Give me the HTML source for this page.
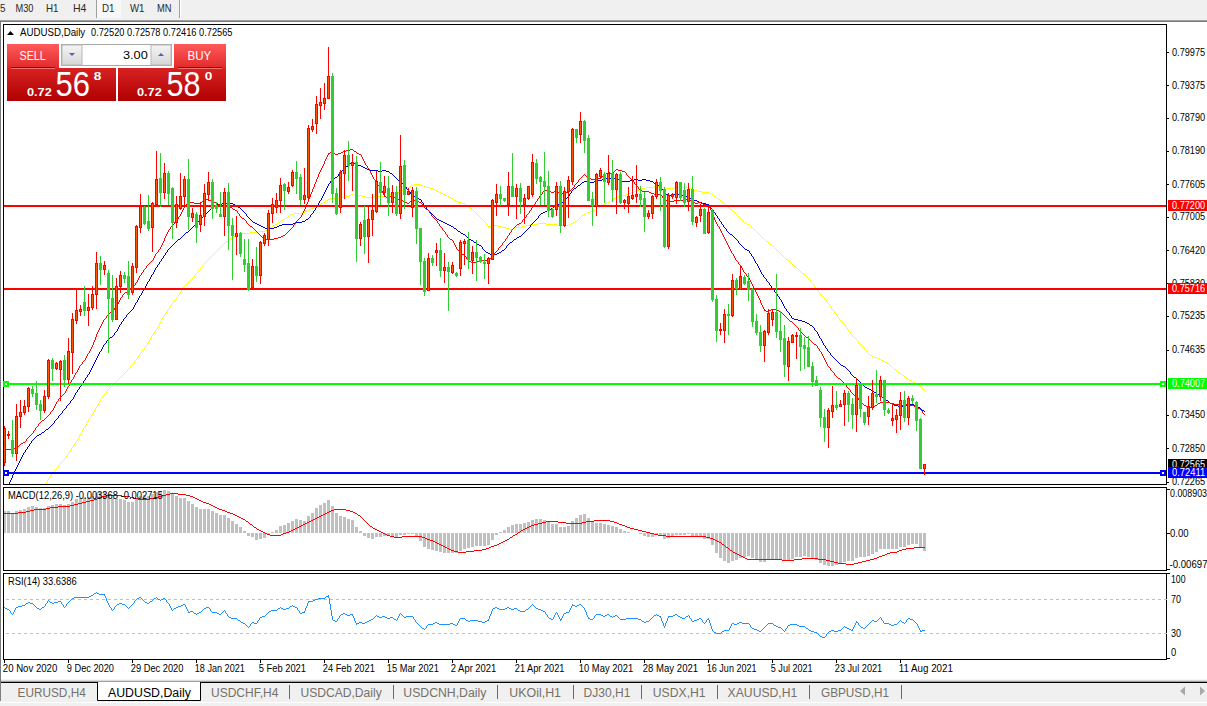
<!DOCTYPE html>
<html><head><meta charset="utf-8"><style>
html,body{margin:0;padding:0;background:#fff;width:1207px;height:706px;overflow:hidden}
svg{display:block}
text{font-family:"Liberation Sans",sans-serif}
</style></head><body>
<svg width="1207" height="706" viewBox="0 0 1207 706">
<rect x="0" y="0" width="1207" height="706" fill="#fff"/>
<rect x="0" y="0" width="1207" height="19" fill="#f0f0f0"/>
<rect x="97" y="0" width="24" height="18" fill="#f8f8f8"/>
<rect x="96" y="0" width="1" height="18" fill="#a0a0a0"/>
<rect x="179" y="0" width="1" height="18" fill="#a0a0a0"/>
<rect x="180" y="0" width="1" height="18" fill="#ffffff"/>
<text x="0" y="12.4" font-size="10.6" fill="#2a2a2a" textLength="5.5" lengthAdjust="spacingAndGlyphs">5</text>
<text x="15.5" y="12.4" font-size="10.6" fill="#2a2a2a" textLength="18" lengthAdjust="spacingAndGlyphs">M30</text>
<text x="46" y="12.4" font-size="10.6" fill="#2a2a2a" textLength="12.5" lengthAdjust="spacingAndGlyphs">H1</text>
<text x="73" y="12.4" font-size="10.6" fill="#2a2a2a" textLength="13.5" lengthAdjust="spacingAndGlyphs">H4</text>
<text x="102" y="12.4" font-size="10.6" fill="#2a2a2a" textLength="12.5" lengthAdjust="spacingAndGlyphs">D1</text>
<text x="130" y="12.4" font-size="10.6" fill="#2a2a2a" textLength="14.5" lengthAdjust="spacingAndGlyphs">W1</text>
<text x="157" y="12.4" font-size="10.6" fill="#2a2a2a" textLength="14.5" lengthAdjust="spacingAndGlyphs">MN</text>
<rect x="0" y="19" width="1207" height="1" fill="#f0f0f0"/>
<rect x="0" y="20" width="1207" height="1" fill="#a0a0a0"/>
<rect x="0" y="21" width="1207" height="1" fill="#787878"/>
<rect x="0" y="22" width="1" height="660" fill="#7a7a7a"/>
<rect x="3.5" y="24.5" width="1163" height="460" fill="none" stroke="#000" stroke-width="1"/>
<rect x="3.5" y="487.5" width="1163" height="83" fill="none" stroke="#000" stroke-width="1"/>
<rect x="3.5" y="573.5" width="1163" height="86" fill="none" stroke="#000" stroke-width="1"/>
<defs><clipPath id="mainclip"><rect x="4" y="25" width="1162" height="459"/></clipPath><clipPath id="macdclip"><rect x="4" y="488" width="1162" height="82"/></clipPath><clipPath id="rsiclip"><rect x="4" y="574" width="1162" height="85"/></clipPath></defs>
<path clip-path="url(#mainclip)" d="M414 184h7v1h-7zM411 185h3v1h-3zM421 185h2v1h-2zM409 186h2v1h-2zM423 186h3v1h-3zM654 186h8v1h-8zM407 187h2v1h-2zM426 187h4v1h-4zM646 187h8v1h-8zM662 187h4v1h-4zM674 187h15v1h-15zM405 188h2v1h-2zM430 188h3v1h-3zM642 188h4v1h-4zM666 188h8v1h-8zM689 188h2v1h-2zM403 189h2v1h-2zM433 189h2v1h-2zM639 189h3v1h-3zM691 189h3v1h-3zM401 190h2v1h-2zM435 190h2v1h-2zM637 190h2v1h-2zM694 190h4v1h-4zM399 191h2v1h-2zM437 191h2v1h-2zM634 191h3v1h-3zM698 191h4v1h-4zM397 192h2v1h-2zM439 192h2v1h-2zM631 192h3v1h-3zM702 192h7v1h-7zM394 193h3v1h-3zM441 193h2v1h-2zM629 193h2v1h-2zM709 193h2v1h-2zM351 194h3v1h-3zM390 194h4v1h-4zM443 194h2v1h-2zM626 194h3v1h-3zM711 194h2v1h-2zM349 195h2v1h-2zM354 195h8v1h-8zM386 195h4v1h-4zM445 195h2v1h-2zM622 195h4v1h-4zM713 195h1v1h-1zM346 196h3v1h-3zM362 196h4v1h-4zM374 196h12v1h-12zM447 196h2v1h-2zM618 196h4v1h-4zM714 196h2v1h-2zM342 197h4v1h-4zM366 197h8v1h-8zM449 197h2v1h-2zM616 197h2v1h-2zM716 197h1v1h-1zM330 198h12v1h-12zM451 198h2v1h-2zM614 198h2v1h-2zM717 198h1v1h-1zM328 199h2v1h-2zM453 199h1v1h-1zM613 199h1v1h-1zM718 199h2v1h-2zM326 200h2v1h-2zM454 200h2v1h-2zM611 200h2v1h-2zM720 200h1v1h-1zM325 201h1v1h-1zM456 201h2v1h-2zM609 201h2v1h-2zM721 201h1v1h-1zM323 202h2v1h-2zM458 202h4v1h-4zM607 202h2v1h-2zM722 202h2v1h-2zM321 203h2v1h-2zM462 203h3v1h-3zM605 203h2v1h-2zM724 203h1v1h-1zM319 204h2v1h-2zM465 204h1v1h-1zM603 204h2v1h-2zM725 204h1v1h-1zM317 205h2v1h-2zM466 205h2v1h-2zM601 205h2v1h-2zM726 205h1v1h-1zM315 206h2v1h-2zM468 206h1v1h-1zM600 206h1v1h-1zM727 206h1v1h-1zM313 207h2v1h-2zM469 207h1v1h-1zM598 207h2v1h-2zM728 207h1v1h-1zM311 208h2v1h-2zM470 208h2v1h-2zM597 208h1v1h-1zM729 208h1v1h-1zM309 209h2v1h-2zM472 209h1v1h-1zM595 209h2v1h-2zM730 209h2v1h-2zM307 210h2v1h-2zM473 210h1v1h-1zM593 210h2v1h-2zM732 210h1v1h-1zM305 211h2v1h-2zM474 211h1v1h-1zM590 211h3v1h-3zM733 211h1v1h-1zM302 212h3v1h-3zM475 212h1v1h-1zM587 212h3v1h-3zM734 212h1v1h-1zM294 213h8v1h-8zM476 213h1v1h-1zM585 213h2v1h-2zM735 213h1v1h-1zM291 214h3v1h-3zM477 214h1v1h-1zM584 214h1v1h-1zM736 214h1v1h-1zM289 215h2v1h-2zM478 215h1v1h-1zM582 215h2v1h-2zM737 215h1v1h-1zM288 216h1v1h-1zM479 216h1v1h-1zM581 216h1v1h-1zM738 216h1v1h-1zM286 217h2v1h-2zM480 217h1v1h-1zM580 217h1v1h-1zM739 217h1v1h-1zM285 218h1v1h-1zM481 218h1v1h-1zM579 218h1v1h-1zM740 218h1v1h-1zM283 219h2v1h-2zM482 219h1v1h-1zM578 219h1v1h-1zM741 219h1v1h-1zM281 220h2v1h-2zM483 220h1v1h-1zM577 220h1v1h-1zM742 220h1v1h-1zM280 221h1v1h-1zM484 221h1v1h-1zM575 221h2v1h-2zM743 221h1v1h-1zM278 222h2v1h-2zM485 222h1v1h-1zM573 222h2v1h-2zM744 222h1v1h-1zM277 223h1v1h-1zM486 223h1v1h-1zM538 223h8v1h-8zM571 223h2v1h-2zM745 223h2v1h-2zM275 224h2v1h-2zM486 224h1v1h-1zM530 224h8v1h-8zM546 224h12v1h-12zM569 224h2v1h-2zM747 224h2v1h-2zM273 225h2v1h-2zM487 225h1v1h-1zM494 225h4v1h-4zM526 225h4v1h-4zM558 225h11v1h-11zM749 225h1v1h-1zM272 226h1v1h-1zM488 226h6v1h-6zM498 226h4v1h-4zM522 226h4v1h-4zM750 226h2v1h-2zM270 227h2v1h-2zM502 227h4v1h-4zM515 227h7v1h-7zM752 227h1v1h-1zM269 228h1v1h-1zM506 228h4v1h-4zM513 228h2v1h-2zM753 228h1v1h-1zM267 229h2v1h-2zM510 229h3v1h-3zM754 229h1v1h-1zM265 230h2v1h-2zM755 230h1v1h-1zM258 231h7v1h-7zM756 231h1v1h-1zM250 232h8v1h-8zM757 232h1v1h-1zM242 233h8v1h-8zM758 233h1v1h-1zM239 234h3v1h-3zM759 234h1v1h-1zM237 235h2v1h-2zM760 235h1v1h-1zM234 236h3v1h-3zM761 236h1v1h-1zM232 237h2v1h-2zM762 237h1v1h-1zM230 238h2v1h-2zM763 238h1v1h-1zM229 239h1v1h-1zM764 239h1v1h-1zM228 240h1v1h-1zM765 240h1v1h-1zM226 241h2v1h-2zM766 241h2v1h-2zM225 242h1v1h-1zM768 242h1v1h-1zM224 243h1v1h-1zM769 243h1v1h-1zM223 244h1v1h-1zM770 244h2v1h-2zM222 245h1v1h-1zM772 245h1v1h-1zM221 246h1v1h-1zM773 246h1v1h-1zM220 247h1v1h-1zM774 247h1v1h-1zM219 248h1v1h-1zM775 248h1v1h-1zM218 249h1v1h-1zM776 249h1v1h-1zM217 250h1v1h-1zM777 250h1v1h-1zM216 251h1v1h-1zM778 251h1v1h-1zM215 252h1v1h-1zM779 252h1v1h-1zM214 253h1v1h-1zM780 253h1v1h-1zM213 254h1v1h-1zM781 254h1v1h-1zM212 255h1v1h-1zM782 255h1v1h-1zM211 256h1v1h-1zM783 256h1v1h-1zM210 257h1v1h-1zM784 257h1v1h-1zM209 258h1v1h-1zM785 258h1v1h-1zM208 259h1v1h-1zM786 259h2v1h-2zM207 260h1v1h-1zM788 260h1v1h-1zM206 261h1v1h-1zM789 261h1v1h-1zM205 262h1v1h-1zM790 262h1v1h-1zM204 263h1v1h-1zM791 263h1v1h-1zM203 264h1v1h-1zM792 264h1v1h-1zM202 265h1v1h-1zM793 265h1v1h-1zM202 266h1v1h-1zM794 266h2v1h-2zM201 267h1v1h-1zM796 267h1v1h-1zM200 268h1v1h-1zM797 268h1v1h-1zM199 269h1v1h-1zM798 269h1v1h-1zM198 270h1v1h-1zM799 270h1v1h-1zM198 271h1v1h-1zM800 271h1v1h-1zM197 272h1v1h-1zM801 272h1v1h-1zM196 273h1v1h-1zM802 273h2v1h-2zM195 274h1v1h-1zM804 274h1v1h-1zM194 275h1v1h-1zM805 275h1v1h-1zM194 276h1v1h-1zM806 276h1v1h-1zM193 277h1v1h-1zM807 277h1v1h-1zM192 278h1v1h-1zM808 278h1v1h-1zM191 279h1v1h-1zM809 279h1v1h-1zM190 280h1v1h-1zM810 280h1v1h-1zM189 281h1v1h-1zM810 281h1v1h-1zM188 282h1v1h-1zM811 282h1v1h-1zM187 283h1v1h-1zM812 283h1v1h-1zM186 284h1v1h-1zM813 284h1v1h-1zM185 285h1v1h-1zM814 285h1v1h-1zM184 286h1v1h-1zM814 286h1v1h-1zM183 287h1v1h-1zM815 287h1v1h-1zM183 288h1v1h-1zM816 288h1v1h-1zM182 289h1v1h-1zM817 289h1v1h-1zM181 290h1v1h-1zM817 290h1v1h-1zM181 291h1v1h-1zM818 291h1v1h-1zM180 292h1v1h-1zM819 292h1v1h-1zM179 293h1v1h-1zM819 293h1v1h-1zM179 294h1v1h-1zM820 294h1v1h-1zM178 295h1v1h-1zM821 295h1v1h-1zM177 296h1v1h-1zM822 296h1v1h-1zM177 297h1v1h-1zM823 297h1v1h-1zM176 298h1v1h-1zM824 298h1v1h-1zM175 299h1v1h-1zM825 299h1v1h-1zM174 300h1v1h-1zM826 300h1v1h-1zM174 301h1v1h-1zM826 301h1v1h-1zM173 302h1v1h-1zM827 302h1v1h-1zM172 303h1v1h-1zM828 303h1v1h-1zM171 304h1v1h-1zM829 304h1v1h-1zM171 305h1v1h-1zM829 305h1v1h-1zM170 306h1v1h-1zM830 306h1v1h-1zM169 307h1v1h-1zM831 307h1v1h-1zM169 308h1v1h-1zM831 308h1v1h-1zM168 309h1v1h-1zM832 309h1v1h-1zM167 310h1v1h-1zM833 310h1v1h-1zM167 311h1v1h-1zM834 311h1v1h-1zM166 312h1v1h-1zM834 312h1v1h-1zM165 313h1v1h-1zM835 313h1v1h-1zM165 314h1v1h-1zM836 314h1v1h-1zM164 315h1v1h-1zM837 315h1v1h-1zM163 316h1v1h-1zM837 316h1v1h-1zM163 317h1v1h-1zM838 317h1v1h-1zM162 318h1v1h-1zM839 318h1v1h-1zM161 319h1v1h-1zM839 319h1v1h-1zM161 320h1v1h-1zM840 320h1v1h-1zM160 321h1v1h-1zM841 321h1v1h-1zM160 322h1v1h-1zM842 322h1v1h-1zM159 323h1v1h-1zM843 323h1v1h-1zM159 324h1v1h-1zM844 324h1v1h-1zM158 325h1v1h-1zM845 325h1v1h-1zM158 326h1v1h-1zM845 326h1v1h-1zM157 327h1v1h-1zM846 327h1v1h-1zM157 328h1v1h-1zM847 328h1v1h-1zM156 329h1v1h-1zM847 329h1v1h-1zM155 330h1v1h-1zM848 330h1v1h-1zM155 331h1v1h-1zM849 331h1v1h-1zM154 332h1v1h-1zM850 332h1v1h-1zM153 333h1v1h-1zM850 333h1v1h-1zM153 334h1v1h-1zM851 334h1v1h-1zM152 335h1v1h-1zM852 335h1v1h-1zM151 336h1v1h-1zM853 336h1v1h-1zM151 337h1v1h-1zM854 337h1v1h-1zM150 338h1v1h-1zM855 338h1v1h-1zM150 339h1v1h-1zM856 339h1v1h-1zM149 340h1v1h-1zM857 340h1v1h-1zM149 341h1v1h-1zM858 341h1v1h-1zM148 342h1v1h-1zM858 342h1v1h-1zM147 343h1v1h-1zM859 343h1v1h-1zM147 344h1v1h-1zM860 344h1v1h-1zM146 345h1v1h-1zM861 345h1v1h-1zM145 346h1v1h-1zM862 346h1v1h-1zM145 347h1v1h-1zM863 347h1v1h-1zM144 348h1v1h-1zM864 348h1v1h-1zM143 349h1v1h-1zM865 349h1v1h-1zM142 350h1v1h-1zM866 350h1v1h-1zM142 351h1v1h-1zM866 351h1v1h-1zM141 352h1v1h-1zM867 352h1v1h-1zM140 353h1v1h-1zM868 353h1v1h-1zM139 354h1v1h-1zM869 354h1v1h-1zM139 355h1v1h-1zM870 355h2v1h-2zM138 356h1v1h-1zM872 356h2v1h-2zM137 357h1v1h-1zM874 357h3v1h-3zM137 358h1v1h-1zM877 358h2v1h-2zM136 359h1v1h-1zM879 359h2v1h-2zM135 360h1v1h-1zM881 360h2v1h-2zM134 361h1v1h-1zM883 361h2v1h-2zM134 362h1v1h-1zM885 362h2v1h-2zM133 363h1v1h-1zM887 363h2v1h-2zM132 364h1v1h-1zM889 364h1v1h-1zM131 365h1v1h-1zM890 365h1v1h-1zM130 366h1v1h-1zM891 366h1v1h-1zM130 367h1v1h-1zM892 367h1v1h-1zM129 368h1v1h-1zM893 368h1v1h-1zM128 369h1v1h-1zM894 369h2v1h-2zM127 370h1v1h-1zM896 370h1v1h-1zM126 371h1v1h-1zM897 371h1v1h-1zM125 372h1v1h-1zM898 372h2v1h-2zM124 373h1v1h-1zM900 373h1v1h-1zM123 374h1v1h-1zM901 374h1v1h-1zM122 375h1v1h-1zM902 375h2v1h-2zM121 376h1v1h-1zM904 376h1v1h-1zM120 377h1v1h-1zM905 377h1v1h-1zM119 378h1v1h-1zM906 378h2v1h-2zM118 379h1v1h-1zM908 379h1v1h-1zM117 380h1v1h-1zM909 380h2v1h-2zM116 381h1v1h-1zM911 381h2v1h-2zM115 382h1v1h-1zM913 382h2v1h-2zM114 383h1v1h-1zM915 383h2v1h-2zM113 384h1v1h-1zM917 384h1v1h-1zM112 385h1v1h-1zM918 385h2v1h-2zM111 386h1v1h-1zM920 386h1v1h-1zM110 387h1v1h-1zM921 387h1v1h-1zM109 388h1v1h-1zM922 388h1v1h-1zM108 389h1v1h-1zM923 389h1v1h-1zM107 390h1v1h-1zM924 390h1v1h-1zM106 391h1v1h-1zM106 392h1v1h-1zM105 393h1v1h-1zM104 394h1v1h-1zM103 395h1v1h-1zM102 396h1v1h-1zM102 397h1v1h-1zM101 398h1v1h-1zM100 399h1v1h-1zM100 400h1v1h-1zM99 401h1v1h-1zM99 402h1v1h-1zM98 403h1v1h-1zM98 404h1v1h-1zM97 405h1v1h-1zM97 406h1v1h-1zM96 407h1v1h-1zM95 408h1v1h-1zM95 409h1v1h-1zM94 410h1v1h-1zM94 411h1v1h-1zM93 412h1v1h-1zM93 413h1v1h-1zM92 414h1v1h-1zM91 415h1v1h-1zM91 416h1v1h-1zM90 417h1v1h-1zM89 418h1v1h-1zM89 419h1v1h-1zM88 420h1v1h-1zM87 421h1v1h-1zM87 422h1v1h-1zM86 423h1v1h-1zM86 424h1v1h-1zM85 425h1v1h-1zM85 426h1v1h-1zM84 427h1v1h-1zM83 428h1v1h-1zM83 429h1v1h-1zM82 430h1v1h-1zM82 431h1v1h-1zM81 432h1v1h-1zM81 433h1v1h-1zM80 434h1v1h-1zM79 435h1v1h-1zM79 436h1v1h-1zM78 437h1v1h-1zM78 438h1v1h-1zM77 439h1v1h-1zM77 440h1v1h-1zM76 441h1v1h-1zM75 442h1v1h-1zM75 443h1v1h-1zM74 444h1v1h-1zM73 445h1v1h-1zM73 446h1v1h-1zM72 447h1v1h-1zM71 448h1v1h-1zM71 449h1v1h-1zM70 450h1v1h-1zM69 451h1v1h-1zM69 452h1v1h-1zM68 453h1v1h-1zM67 454h1v1h-1zM67 455h1v1h-1zM66 456h1v1h-1zM65 457h1v1h-1zM65 458h1v1h-1zM64 459h1v1h-1zM63 460h1v1h-1zM62 461h1v1h-1zM61 462h1v1h-1zM60 463h1v1h-1zM59 464h1v1h-1zM58 465h1v1h-1zM58 466h1v1h-1zM57 467h1v1h-1zM56 468h1v1h-1zM55 469h1v1h-1zM54 470h1v1h-1zM54 471h1v1h-1zM53 472h1v1h-1zM52 473h1v1h-1zM51 474h1v1h-1zM51 475h1v1h-1zM50 476h1v1h-1zM49 477h1v1h-1zM49 478h1v1h-1zM48 479h1v1h-1zM47 480h1v1h-1zM47 481h1v1h-1zM46 482h1v1h-1zM45 483h1v1h-1zM45 484h1v1h-1zM44 485h1v1h-1zM43 486h1v1h-1zM43 487h1v1h-1zM42 488h1v1h-1zM41 489h1v1h-1zM41 490h1v1h-1zM40 491h1v1h-1zM39 492h1v1h-1zM38 493h1v1h-1zM38 494h1v1h-1zM37 495h1v1h-1zM36 496h1v1h-1z" fill="#ffff00" shape-rendering="crispEdges"/>
<path clip-path="url(#mainclip)" d="M352 162h1v1h-1zM350 163h2v1h-2zM353 163h2v1h-2zM349 164h1v1h-1zM355 164h3v1h-3zM348 165h1v1h-1zM358 165h3v1h-3zM346 166h2v1h-2zM361 166h2v1h-2zM345 167h1v1h-1zM363 167h2v1h-2zM344 168h1v1h-1zM365 168h2v1h-2zM343 169h1v1h-1zM367 169h3v1h-3zM342 170h1v1h-1zM370 170h8v1h-8zM382 170h4v1h-4zM341 171h1v1h-1zM378 171h4v1h-4zM386 171h3v1h-3zM340 172h1v1h-1zM389 172h1v1h-1zM339 173h1v1h-1zM390 173h2v1h-2zM338 174h1v1h-1zM392 174h1v1h-1zM338 175h1v1h-1zM393 175h1v1h-1zM337 176h1v1h-1zM394 176h1v1h-1zM335 177h2v1h-2zM395 177h1v1h-1zM333 178h2v1h-2zM396 178h1v1h-1zM606 178h11v1h-11zM332 179h1v1h-1zM397 179h1v1h-1zM602 179h4v1h-4zM617 179h2v1h-2zM634 179h4v1h-4zM642 179h4v1h-4zM331 180h1v1h-1zM398 180h2v1h-2zM598 180h4v1h-4zM619 180h3v1h-3zM630 180h4v1h-4zM638 180h4v1h-4zM646 180h4v1h-4zM330 181h1v1h-1zM400 181h1v1h-1zM584 181h6v1h-6zM594 181h4v1h-4zM622 181h8v1h-8zM650 181h3v1h-3zM330 182h1v1h-1zM401 182h1v1h-1zM582 182h2v1h-2zM590 182h4v1h-4zM653 182h1v1h-1zM329 183h1v1h-1zM402 183h1v1h-1zM581 183h1v1h-1zM654 183h2v1h-2zM328 184h1v1h-1zM403 184h1v1h-1zM580 184h1v1h-1zM656 184h1v1h-1zM328 185h1v1h-1zM404 185h1v1h-1zM578 185h2v1h-2zM657 185h2v1h-2zM327 186h1v1h-1zM405 186h1v1h-1zM577 186h1v1h-1zM659 186h2v1h-2zM327 187h1v1h-1zM406 187h1v1h-1zM576 187h1v1h-1zM661 187h1v1h-1zM326 188h1v1h-1zM406 188h1v1h-1zM574 188h2v1h-2zM661 188h1v1h-1zM326 189h1v1h-1zM407 189h1v1h-1zM573 189h1v1h-1zM662 189h1v1h-1zM325 190h1v1h-1zM408 190h1v1h-1zM572 190h1v1h-1zM663 190h1v1h-1zM325 191h1v1h-1zM409 191h1v1h-1zM571 191h1v1h-1zM663 191h1v1h-1zM324 192h1v1h-1zM410 192h1v1h-1zM571 192h1v1h-1zM664 192h1v1h-1zM324 193h1v1h-1zM410 193h1v1h-1zM570 193h1v1h-1zM665 193h1v1h-1zM675 193h3v1h-3zM323 194h1v1h-1zM411 194h1v1h-1zM569 194h1v1h-1zM666 194h2v1h-2zM673 194h2v1h-2zM678 194h3v1h-3zM323 195h1v1h-1zM412 195h1v1h-1zM569 195h1v1h-1zM668 195h5v1h-5zM681 195h2v1h-2zM322 196h1v1h-1zM413 196h2v1h-2zM568 196h1v1h-1zM683 196h6v1h-6zM322 197h1v1h-1zM415 197h2v1h-2zM567 197h1v1h-1zM689 197h1v1h-1zM321 198h1v1h-1zM417 198h2v1h-2zM566 198h1v1h-1zM690 198h2v1h-2zM321 199h1v1h-1zM419 199h2v1h-2zM565 199h1v1h-1zM692 199h2v1h-2zM320 200h1v1h-1zM421 200h1v1h-1zM564 200h1v1h-1zM694 200h3v1h-3zM319 201h1v1h-1zM421 201h1v1h-1zM563 201h1v1h-1zM697 201h2v1h-2zM319 202h1v1h-1zM422 202h1v1h-1zM562 202h1v1h-1zM699 202h3v1h-3zM222 203h11v1h-11zM318 203h1v1h-1zM423 203h1v1h-1zM561 203h1v1h-1zM702 203h4v1h-4zM216 204h6v1h-6zM233 204h2v1h-2zM318 204h1v1h-1zM423 204h1v1h-1zM558 204h3v1h-3zM706 204h3v1h-3zM214 205h2v1h-2zM235 205h2v1h-2zM317 205h1v1h-1zM424 205h1v1h-1zM556 205h2v1h-2zM709 205h1v1h-1zM213 206h1v1h-1zM237 206h1v1h-1zM317 206h1v1h-1zM425 206h1v1h-1zM554 206h2v1h-2zM710 206h1v1h-1zM212 207h1v1h-1zM238 207h2v1h-2zM316 207h1v1h-1zM426 207h1v1h-1zM553 207h1v1h-1zM710 207h1v1h-1zM211 208h1v1h-1zM240 208h1v1h-1zM315 208h1v1h-1zM426 208h1v1h-1zM551 208h2v1h-2zM711 208h1v1h-1zM210 209h1v1h-1zM241 209h1v1h-1zM315 209h1v1h-1zM427 209h1v1h-1zM549 209h2v1h-2zM712 209h1v1h-1zM209 210h1v1h-1zM242 210h1v1h-1zM314 210h1v1h-1zM428 210h1v1h-1zM547 210h2v1h-2zM713 210h1v1h-1zM208 211h1v1h-1zM243 211h1v1h-1zM313 211h1v1h-1zM429 211h1v1h-1zM545 211h2v1h-2zM713 211h1v1h-1zM207 212h1v1h-1zM244 212h1v1h-1zM313 212h1v1h-1zM430 212h1v1h-1zM543 212h2v1h-2zM714 212h1v1h-1zM206 213h1v1h-1zM245 213h1v1h-1zM312 213h1v1h-1zM431 213h1v1h-1zM541 213h2v1h-2zM715 213h1v1h-1zM205 214h1v1h-1zM246 214h1v1h-1zM311 214h1v1h-1zM432 214h1v1h-1zM540 214h1v1h-1zM715 214h1v1h-1zM204 215h1v1h-1zM246 215h1v1h-1zM310 215h1v1h-1zM433 215h1v1h-1zM539 215h1v1h-1zM716 215h1v1h-1zM203 216h1v1h-1zM247 216h1v1h-1zM310 216h1v1h-1zM434 216h1v1h-1zM538 216h1v1h-1zM717 216h1v1h-1zM202 217h1v1h-1zM248 217h1v1h-1zM309 217h1v1h-1zM435 217h1v1h-1zM538 217h1v1h-1zM717 217h1v1h-1zM201 218h1v1h-1zM249 218h1v1h-1zM308 218h1v1h-1zM436 218h1v1h-1zM537 218h1v1h-1zM718 218h1v1h-1zM200 219h1v1h-1zM250 219h1v1h-1zM306 219h2v1h-2zM437 219h2v1h-2zM536 219h1v1h-1zM719 219h1v1h-1zM199 220h1v1h-1zM251 220h1v1h-1zM305 220h1v1h-1zM439 220h2v1h-2zM535 220h1v1h-1zM719 220h1v1h-1zM198 221h1v1h-1zM252 221h1v1h-1zM302 221h3v1h-3zM441 221h2v1h-2zM534 221h1v1h-1zM720 221h1v1h-1zM197 222h1v1h-1zM253 222h2v1h-2zM295 222h7v1h-7zM443 222h2v1h-2zM533 222h1v1h-1zM721 222h1v1h-1zM196 223h1v1h-1zM255 223h2v1h-2zM293 223h2v1h-2zM445 223h2v1h-2zM532 223h1v1h-1zM721 223h1v1h-1zM195 224h1v1h-1zM257 224h2v1h-2zM282 224h11v1h-11zM447 224h2v1h-2zM531 224h1v1h-1zM722 224h1v1h-1zM194 225h1v1h-1zM259 225h2v1h-2zM279 225h3v1h-3zM449 225h2v1h-2zM530 225h1v1h-1zM723 225h1v1h-1zM193 226h1v1h-1zM261 226h2v1h-2zM277 226h2v1h-2zM451 226h2v1h-2zM530 226h1v1h-1zM723 226h1v1h-1zM192 227h1v1h-1zM263 227h2v1h-2zM274 227h3v1h-3zM453 227h1v1h-1zM529 227h1v1h-1zM724 227h1v1h-1zM191 228h1v1h-1zM265 228h2v1h-2zM270 228h4v1h-4zM454 228h2v1h-2zM528 228h1v1h-1zM725 228h1v1h-1zM190 229h1v1h-1zM267 229h3v1h-3zM456 229h1v1h-1zM527 229h1v1h-1zM726 229h1v1h-1zM189 230h1v1h-1zM457 230h1v1h-1zM526 230h1v1h-1zM726 230h1v1h-1zM188 231h1v1h-1zM458 231h2v1h-2zM525 231h1v1h-1zM727 231h1v1h-1zM186 232h2v1h-2zM460 232h1v1h-1zM524 232h1v1h-1zM728 232h1v1h-1zM185 233h1v1h-1zM461 233h2v1h-2zM523 233h1v1h-1zM729 233h1v1h-1zM184 234h1v1h-1zM463 234h2v1h-2zM522 234h1v1h-1zM730 234h2v1h-2zM183 235h1v1h-1zM465 235h1v1h-1zM521 235h1v1h-1zM732 235h1v1h-1zM182 236h1v1h-1zM466 236h1v1h-1zM519 236h2v1h-2zM733 236h1v1h-1zM181 237h1v1h-1zM467 237h1v1h-1zM517 237h2v1h-2zM734 237h1v1h-1zM180 238h1v1h-1zM468 238h1v1h-1zM516 238h1v1h-1zM735 238h1v1h-1zM178 239h2v1h-2zM469 239h2v1h-2zM514 239h2v1h-2zM736 239h1v1h-1zM177 240h1v1h-1zM471 240h2v1h-2zM513 240h1v1h-1zM737 240h1v1h-1zM176 241h1v1h-1zM473 241h1v1h-1zM512 241h1v1h-1zM738 241h1v1h-1zM175 242h1v1h-1zM474 242h2v1h-2zM510 242h2v1h-2zM738 242h1v1h-1zM174 243h1v1h-1zM476 243h1v1h-1zM509 243h1v1h-1zM739 243h1v1h-1zM173 244h1v1h-1zM477 244h2v1h-2zM508 244h1v1h-1zM740 244h1v1h-1zM172 245h1v1h-1zM479 245h2v1h-2zM507 245h1v1h-1zM741 245h1v1h-1zM171 246h1v1h-1zM481 246h1v1h-1zM506 246h1v1h-1zM742 246h1v1h-1zM170 247h1v1h-1zM482 247h1v1h-1zM506 247h1v1h-1zM743 247h1v1h-1zM169 248h1v1h-1zM482 248h1v1h-1zM505 248h1v1h-1zM744 248h1v1h-1zM168 249h1v1h-1zM483 249h1v1h-1zM504 249h1v1h-1zM745 249h2v1h-2zM167 250h1v1h-1zM484 250h1v1h-1zM502 250h2v1h-2zM747 250h2v1h-2zM167 251h1v1h-1zM485 251h1v1h-1zM501 251h1v1h-1zM749 251h1v1h-1zM166 252h1v1h-1zM486 252h2v1h-2zM499 252h2v1h-2zM749 252h1v1h-1zM165 253h1v1h-1zM488 253h2v1h-2zM497 253h2v1h-2zM750 253h1v1h-1zM165 254h1v1h-1zM490 254h7v1h-7zM751 254h1v1h-1zM164 255h1v1h-1zM751 255h1v1h-1zM163 256h1v1h-1zM752 256h1v1h-1zM163 257h1v1h-1zM753 257h1v1h-1zM162 258h1v1h-1zM753 258h1v1h-1zM161 259h1v1h-1zM754 259h1v1h-1zM161 260h1v1h-1zM754 260h1v1h-1zM160 261h1v1h-1zM755 261h1v1h-1zM159 262h1v1h-1zM755 262h1v1h-1zM159 263h1v1h-1zM756 263h1v1h-1zM158 264h1v1h-1zM757 264h1v1h-1zM157 265h1v1h-1zM757 265h1v1h-1zM157 266h1v1h-1zM758 266h1v1h-1zM156 267h1v1h-1zM758 267h1v1h-1zM155 268h1v1h-1zM759 268h1v1h-1zM155 269h1v1h-1zM759 269h1v1h-1zM154 270h1v1h-1zM760 270h1v1h-1zM154 271h1v1h-1zM760 271h1v1h-1zM153 272h1v1h-1zM761 272h1v1h-1zM153 273h1v1h-1zM761 273h1v1h-1zM152 274h1v1h-1zM762 274h1v1h-1zM151 275h1v1h-1zM763 275h1v1h-1zM151 276h1v1h-1zM763 276h1v1h-1zM150 277h1v1h-1zM764 277h1v1h-1zM150 278h1v1h-1zM765 278h1v1h-1zM149 279h1v1h-1zM766 279h1v1h-1zM149 280h1v1h-1zM766 280h1v1h-1zM148 281h1v1h-1zM767 281h1v1h-1zM147 282h1v1h-1zM768 282h1v1h-1zM147 283h1v1h-1zM769 283h1v1h-1zM146 284h1v1h-1zM769 284h1v1h-1zM146 285h1v1h-1zM770 285h1v1h-1zM145 286h1v1h-1zM771 286h1v1h-1zM145 287h1v1h-1zM771 287h1v1h-1zM144 288h1v1h-1zM772 288h1v1h-1zM143 289h1v1h-1zM773 289h1v1h-1zM143 290h1v1h-1zM774 290h1v1h-1zM142 291h1v1h-1zM774 291h1v1h-1zM142 292h1v1h-1zM775 292h1v1h-1zM141 293h1v1h-1zM776 293h1v1h-1zM141 294h1v1h-1zM777 294h1v1h-1zM140 295h1v1h-1zM777 295h1v1h-1zM139 296h1v1h-1zM778 296h1v1h-1zM139 297h1v1h-1zM779 297h1v1h-1zM138 298h1v1h-1zM779 298h1v1h-1zM138 299h1v1h-1zM780 299h1v1h-1zM137 300h1v1h-1zM781 300h1v1h-1zM137 301h1v1h-1zM781 301h1v1h-1zM136 302h1v1h-1zM782 302h1v1h-1zM135 303h1v1h-1zM782 303h1v1h-1zM135 304h1v1h-1zM783 304h1v1h-1zM134 305h1v1h-1zM783 305h1v1h-1zM134 306h1v1h-1zM784 306h1v1h-1zM133 307h1v1h-1zM784 307h1v1h-1zM133 308h1v1h-1zM785 308h1v1h-1zM132 309h1v1h-1zM786 309h1v1h-1zM131 310h1v1h-1zM786 310h1v1h-1zM130 311h1v1h-1zM787 311h1v1h-1zM129 312h1v1h-1zM788 312h1v1h-1zM128 313h1v1h-1zM789 313h1v1h-1zM127 314h1v1h-1zM789 314h1v1h-1zM126 315h1v1h-1zM790 315h1v1h-1zM126 316h1v1h-1zM791 316h1v1h-1zM125 317h1v1h-1zM791 317h1v1h-1zM124 318h1v1h-1zM792 318h2v1h-2zM123 319h1v1h-1zM794 319h4v1h-4zM123 320h1v1h-1zM798 320h4v1h-4zM122 321h1v1h-1zM802 321h3v1h-3zM121 322h1v1h-1zM805 322h2v1h-2zM121 323h1v1h-1zM807 323h2v1h-2zM120 324h1v1h-1zM809 324h1v1h-1zM119 325h1v1h-1zM810 325h2v1h-2zM119 326h1v1h-1zM812 326h1v1h-1zM118 327h1v1h-1zM813 327h1v1h-1zM118 328h1v1h-1zM814 328h1v1h-1zM117 329h1v1h-1zM814 329h1v1h-1zM117 330h1v1h-1zM815 330h1v1h-1zM116 331h1v1h-1zM816 331h1v1h-1zM115 332h1v1h-1zM817 332h1v1h-1zM114 333h1v1h-1zM817 333h1v1h-1zM114 334h1v1h-1zM818 334h1v1h-1zM113 335h1v1h-1zM818 335h1v1h-1zM112 336h1v1h-1zM819 336h1v1h-1zM110 337h2v1h-2zM819 337h1v1h-1zM109 338h1v1h-1zM820 338h1v1h-1zM108 339h1v1h-1zM821 339h1v1h-1zM107 340h1v1h-1zM821 340h1v1h-1zM106 341h1v1h-1zM822 341h1v1h-1zM106 342h1v1h-1zM822 342h1v1h-1zM105 343h1v1h-1zM823 343h1v1h-1zM104 344h1v1h-1zM823 344h1v1h-1zM103 345h1v1h-1zM824 345h1v1h-1zM103 346h1v1h-1zM825 346h1v1h-1zM102 347h1v1h-1zM825 347h1v1h-1zM102 348h1v1h-1zM826 348h1v1h-1zM101 349h1v1h-1zM827 349h1v1h-1zM101 350h1v1h-1zM827 350h1v1h-1zM100 351h1v1h-1zM828 351h1v1h-1zM99 352h1v1h-1zM829 352h1v1h-1zM99 353h1v1h-1zM830 353h1v1h-1zM98 354h1v1h-1zM830 354h1v1h-1zM98 355h1v1h-1zM831 355h1v1h-1zM97 356h1v1h-1zM832 356h1v1h-1zM97 357h1v1h-1zM833 357h1v1h-1zM96 358h1v1h-1zM834 358h1v1h-1zM96 359h1v1h-1zM835 359h1v1h-1zM95 360h1v1h-1zM836 360h1v1h-1zM95 361h1v1h-1zM837 361h1v1h-1zM94 362h1v1h-1zM838 362h1v1h-1zM94 363h1v1h-1zM839 363h1v1h-1zM93 364h1v1h-1zM840 364h1v1h-1zM93 365h1v1h-1zM841 365h2v1h-2zM92 366h1v1h-1zM843 366h2v1h-2zM92 367h1v1h-1zM845 367h1v1h-1zM91 368h1v1h-1zM846 368h1v1h-1zM91 369h1v1h-1zM847 369h1v1h-1zM90 370h1v1h-1zM848 370h1v1h-1zM90 371h1v1h-1zM849 371h1v1h-1zM89 372h1v1h-1zM850 372h1v1h-1zM89 373h1v1h-1zM850 373h1v1h-1zM88 374h1v1h-1zM851 374h1v1h-1zM87 375h1v1h-1zM852 375h1v1h-1zM87 376h1v1h-1zM853 376h1v1h-1zM86 377h1v1h-1zM854 377h2v1h-2zM85 378h1v1h-1zM856 378h1v1h-1zM85 379h1v1h-1zM857 379h1v1h-1zM84 380h1v1h-1zM858 380h1v1h-1zM83 381h1v1h-1zM859 381h1v1h-1zM83 382h1v1h-1zM860 382h1v1h-1zM82 383h1v1h-1zM861 383h1v1h-1zM81 384h1v1h-1zM862 384h1v1h-1zM81 385h1v1h-1zM863 385h1v1h-1zM80 386h1v1h-1zM864 386h1v1h-1zM79 387h1v1h-1zM865 387h2v1h-2zM79 388h1v1h-1zM867 388h2v1h-2zM78 389h1v1h-1zM869 389h2v1h-2zM77 390h1v1h-1zM871 390h2v1h-2zM77 391h1v1h-1zM873 391h1v1h-1zM76 392h1v1h-1zM874 392h2v1h-2zM75 393h1v1h-1zM876 393h1v1h-1zM75 394h1v1h-1zM877 394h2v1h-2zM74 395h1v1h-1zM879 395h2v1h-2zM74 396h1v1h-1zM881 396h1v1h-1zM73 397h1v1h-1zM882 397h2v1h-2zM73 398h1v1h-1zM884 398h1v1h-1zM72 399h1v1h-1zM885 399h1v1h-1zM71 400h1v1h-1zM886 400h2v1h-2zM70 401h1v1h-1zM888 401h1v1h-1zM70 402h1v1h-1zM889 402h1v1h-1zM69 403h1v1h-1zM890 403h2v1h-2zM68 404h1v1h-1zM892 404h2v1h-2zM910 404h4v1h-4zM67 405h1v1h-1zM894 405h4v1h-4zM906 405h4v1h-4zM914 405h3v1h-3zM66 406h1v1h-1zM898 406h8v1h-8zM917 406h1v1h-1zM66 407h1v1h-1zM918 407h2v1h-2zM65 408h1v1h-1zM920 408h1v1h-1zM64 409h1v1h-1zM921 409h1v1h-1zM63 410h1v1h-1zM922 410h2v1h-2zM62 411h1v1h-1zM924 411h1v1h-1zM62 412h1v1h-1zM61 413h1v1h-1zM60 414h1v1h-1zM59 415h1v1h-1zM58 416h1v1h-1zM58 417h1v1h-1zM57 418h1v1h-1zM56 419h1v1h-1zM55 420h1v1h-1zM54 421h1v1h-1zM54 422h1v1h-1zM53 423h1v1h-1zM52 424h1v1h-1zM51 425h1v1h-1zM50 426h1v1h-1zM49 427h1v1h-1zM48 428h1v1h-1zM46 429h2v1h-2zM45 430h1v1h-1zM44 431h1v1h-1zM42 432h2v1h-2zM41 433h1v1h-1zM39 434h2v1h-2zM37 435h2v1h-2zM36 436h1v1h-1zM35 437h1v1h-1zM34 438h1v1h-1zM33 439h1v1h-1zM32 440h1v1h-1zM31 441h1v1h-1zM31 442h1v1h-1zM30 443h1v1h-1zM29 444h1v1h-1zM29 445h1v1h-1zM28 446h1v1h-1zM27 447h1v1h-1zM27 448h1v1h-1zM26 449h1v1h-1zM25 450h1v1h-1zM25 451h1v1h-1zM24 452h1v1h-1zM23 453h1v1h-1zM23 454h1v1h-1zM22 455h1v1h-1zM22 456h1v1h-1zM21 457h1v1h-1zM21 458h1v1h-1zM20 459h1v1h-1zM20 460h1v1h-1zM19 461h1v1h-1zM19 462h1v1h-1zM18 463h1v1h-1zM18 464h1v1h-1zM17 465h1v1h-1zM17 466h1v1h-1zM16 467h1v1h-1zM16 468h1v1h-1zM15 469h1v1h-1zM15 470h1v1h-1zM14 471h1v1h-1zM14 472h1v1h-1zM13 473h1v1h-1zM13 474h1v1h-1zM12 475h1v1h-1zM12 476h1v1h-1zM12 477h1v1h-1zM11 478h1v1h-1zM11 479h1v1h-1zM10 480h1v1h-1zM10 481h1v1h-1zM9 482h1v1h-1zM9 483h1v1h-1zM8 484h1v1h-1zM8 485h1v1h-1zM8 486h1v1h-1zM7 487h1v1h-1zM7 488h1v1h-1zM6 489h1v1h-1zM6 490h1v1h-1zM5 491h1v1h-1zM5 492h1v1h-1z" fill="#0000cd" shape-rendering="crispEdges"/>
<path clip-path="url(#mainclip)" d="M350 149h3v1h-3zM346 150h4v1h-4zM353 150h1v1h-1zM343 151h3v1h-3zM354 151h2v1h-2zM330 152h3v1h-3zM341 152h2v1h-2zM356 152h1v1h-1zM328 153h2v1h-2zM333 153h2v1h-2zM338 153h3v1h-3zM357 153h2v1h-2zM328 154h1v1h-1zM335 154h3v1h-3zM359 154h2v1h-2zM327 155h1v1h-1zM361 155h1v1h-1zM327 156h1v1h-1zM361 156h1v1h-1zM326 157h1v1h-1zM362 157h1v1h-1zM326 158h1v1h-1zM362 158h1v1h-1zM325 159h1v1h-1zM363 159h1v1h-1zM325 160h1v1h-1zM363 160h1v1h-1zM324 161h1v1h-1zM364 161h1v1h-1zM324 162h1v1h-1zM364 162h1v1h-1zM324 163h1v1h-1zM365 163h1v1h-1zM323 164h1v1h-1zM365 164h1v1h-1zM323 165h1v1h-1zM366 165h1v1h-1zM322 166h1v1h-1zM367 166h1v1h-1zM322 167h1v1h-1zM367 167h1v1h-1zM321 168h1v1h-1zM368 168h1v1h-1zM321 169h1v1h-1zM369 169h1v1h-1zM616 169h2v1h-2zM320 170h1v1h-1zM369 170h1v1h-1zM615 170h1v1h-1zM618 170h4v1h-4zM320 171h1v1h-1zM370 171h1v1h-1zM614 171h1v1h-1zM622 171h3v1h-3zM319 172h1v1h-1zM370 172h1v1h-1zM608 172h2v1h-2zM613 172h1v1h-1zM625 172h1v1h-1zM319 173h1v1h-1zM371 173h1v1h-1zM606 173h2v1h-2zM610 173h3v1h-3zM626 173h1v1h-1zM318 174h1v1h-1zM371 174h1v1h-1zM584 174h1v1h-1zM605 174h1v1h-1zM626 174h1v1h-1zM318 175h1v1h-1zM372 175h1v1h-1zM583 175h1v1h-1zM585 175h1v1h-1zM604 175h1v1h-1zM627 175h1v1h-1zM318 176h1v1h-1zM372 176h1v1h-1zM582 176h1v1h-1zM586 176h2v1h-2zM602 176h2v1h-2zM628 176h1v1h-1zM317 177h1v1h-1zM373 177h1v1h-1zM581 177h1v1h-1zM588 177h1v1h-1zM601 177h1v1h-1zM629 177h1v1h-1zM317 178h1v1h-1zM373 178h1v1h-1zM580 178h1v1h-1zM589 178h2v1h-2zM598 178h3v1h-3zM630 178h1v1h-1zM316 179h1v1h-1zM374 179h1v1h-1zM579 179h1v1h-1zM591 179h7v1h-7zM631 179h1v1h-1zM316 180h1v1h-1zM375 180h1v1h-1zM578 180h1v1h-1zM632 180h1v1h-1zM316 181h1v1h-1zM375 181h1v1h-1zM578 181h1v1h-1zM633 181h1v1h-1zM315 182h1v1h-1zM376 182h1v1h-1zM577 182h1v1h-1zM634 182h1v1h-1zM315 183h1v1h-1zM377 183h1v1h-1zM576 183h1v1h-1zM634 183h1v1h-1zM314 184h1v1h-1zM377 184h1v1h-1zM575 184h1v1h-1zM635 184h1v1h-1zM314 185h1v1h-1zM378 185h1v1h-1zM574 185h1v1h-1zM636 185h1v1h-1zM314 186h1v1h-1zM379 186h1v1h-1zM574 186h1v1h-1zM637 186h1v1h-1zM313 187h1v1h-1zM379 187h1v1h-1zM573 187h1v1h-1zM638 187h1v1h-1zM313 188h1v1h-1zM380 188h1v1h-1zM572 188h1v1h-1zM638 188h1v1h-1zM312 189h1v1h-1zM381 189h1v1h-1zM571 189h1v1h-1zM639 189h1v1h-1zM312 190h1v1h-1zM381 190h1v1h-1zM544 190h5v1h-5zM570 190h1v1h-1zM640 190h2v1h-2zM312 191h1v1h-1zM382 191h1v1h-1zM543 191h1v1h-1zM549 191h2v1h-2zM554 191h3v1h-3zM569 191h1v1h-1zM642 191h7v1h-7zM311 192h1v1h-1zM382 192h1v1h-1zM542 192h1v1h-1zM551 192h3v1h-3zM557 192h2v1h-2zM566 192h3v1h-3zM649 192h2v1h-2zM311 193h1v1h-1zM383 193h1v1h-1zM542 193h1v1h-1zM559 193h7v1h-7zM651 193h3v1h-3zM310 194h1v1h-1zM383 194h1v1h-1zM541 194h1v1h-1zM654 194h7v1h-7zM310 195h1v1h-1zM384 195h1v1h-1zM391 195h2v1h-2zM540 195h1v1h-1zM661 195h1v1h-1zM310 196h1v1h-1zM384 196h2v1h-2zM389 196h2v1h-2zM393 196h1v1h-1zM539 196h1v1h-1zM662 196h1v1h-1zM309 197h1v1h-1zM386 197h3v1h-3zM394 197h2v1h-2zM539 197h1v1h-1zM662 197h1v1h-1zM309 198h1v1h-1zM396 198h2v1h-2zM538 198h1v1h-1zM663 198h1v1h-1zM206 199h3v1h-3zM308 199h1v1h-1zM398 199h3v1h-3zM537 199h1v1h-1zM664 199h2v1h-2zM686 199h3v1h-3zM204 200h2v1h-2zM209 200h2v1h-2zM308 200h1v1h-1zM401 200h2v1h-2zM412 200h5v1h-5zM537 200h1v1h-1zM666 200h4v1h-4zM674 200h12v1h-12zM689 200h2v1h-2zM202 201h2v1h-2zM211 201h3v1h-3zM308 201h1v1h-1zM403 201h2v1h-2zM410 201h2v1h-2zM417 201h2v1h-2zM536 201h1v1h-1zM670 201h4v1h-4zM691 201h2v1h-2zM190 202h4v1h-4zM201 202h1v1h-1zM214 202h3v1h-3zM307 202h1v1h-1zM405 202h2v1h-2zM409 202h1v1h-1zM419 202h2v1h-2zM535 202h1v1h-1zM693 202h2v1h-2zM698 202h3v1h-3zM188 203h2v1h-2zM194 203h7v1h-7zM217 203h1v1h-1zM307 203h1v1h-1zM407 203h2v1h-2zM421 203h1v1h-1zM535 203h1v1h-1zM695 203h3v1h-3zM701 203h2v1h-2zM186 204h2v1h-2zM218 204h2v1h-2zM306 204h1v1h-1zM422 204h1v1h-1zM534 204h1v1h-1zM703 204h3v1h-3zM185 205h1v1h-1zM220 205h9v1h-9zM306 205h1v1h-1zM422 205h1v1h-1zM533 205h1v1h-1zM706 205h3v1h-3zM184 206h1v1h-1zM229 206h1v1h-1zM306 206h1v1h-1zM423 206h1v1h-1zM533 206h1v1h-1zM709 206h1v1h-1zM184 207h1v1h-1zM230 207h2v1h-2zM305 207h1v1h-1zM424 207h1v1h-1zM532 207h1v1h-1zM709 207h1v1h-1zM183 208h1v1h-1zM232 208h1v1h-1zM305 208h1v1h-1zM425 208h1v1h-1zM531 208h1v1h-1zM710 208h1v1h-1zM183 209h1v1h-1zM233 209h2v1h-2zM304 209h1v1h-1zM426 209h2v1h-2zM531 209h1v1h-1zM710 209h1v1h-1zM182 210h1v1h-1zM235 210h2v1h-2zM304 210h1v1h-1zM428 210h1v1h-1zM530 210h1v1h-1zM711 210h1v1h-1zM182 211h1v1h-1zM237 211h1v1h-1zM303 211h1v1h-1zM429 211h1v1h-1zM529 211h1v1h-1zM711 211h1v1h-1zM181 212h1v1h-1zM237 212h1v1h-1zM303 212h1v1h-1zM429 212h1v1h-1zM529 212h1v1h-1zM712 212h1v1h-1zM181 213h1v1h-1zM238 213h1v1h-1zM302 213h1v1h-1zM430 213h1v1h-1zM528 213h1v1h-1zM712 213h1v1h-1zM180 214h1v1h-1zM239 214h1v1h-1zM302 214h1v1h-1zM431 214h1v1h-1zM527 214h1v1h-1zM712 214h1v1h-1zM180 215h1v1h-1zM239 215h1v1h-1zM301 215h1v1h-1zM431 215h1v1h-1zM526 215h1v1h-1zM713 215h1v1h-1zM179 216h1v1h-1zM240 216h1v1h-1zM301 216h1v1h-1zM432 216h1v1h-1zM526 216h1v1h-1zM713 216h1v1h-1zM178 217h1v1h-1zM241 217h1v1h-1zM300 217h1v1h-1zM433 217h1v1h-1zM525 217h1v1h-1zM714 217h1v1h-1zM178 218h1v1h-1zM242 218h2v1h-2zM299 218h1v1h-1zM434 218h1v1h-1zM524 218h1v1h-1zM714 218h1v1h-1zM177 219h1v1h-1zM244 219h1v1h-1zM298 219h1v1h-1zM435 219h1v1h-1zM523 219h1v1h-1zM714 219h1v1h-1zM176 220h1v1h-1zM245 220h1v1h-1zM297 220h1v1h-1zM436 220h1v1h-1zM522 220h1v1h-1zM715 220h1v1h-1zM175 221h1v1h-1zM246 221h1v1h-1zM296 221h1v1h-1zM437 221h1v1h-1zM522 221h1v1h-1zM715 221h1v1h-1zM174 222h1v1h-1zM246 222h1v1h-1zM295 222h1v1h-1zM437 222h1v1h-1zM521 222h1v1h-1zM716 222h1v1h-1zM174 223h1v1h-1zM247 223h1v1h-1zM295 223h1v1h-1zM438 223h1v1h-1zM519 223h2v1h-2zM716 223h1v1h-1zM173 224h1v1h-1zM248 224h1v1h-1zM294 224h1v1h-1zM439 224h1v1h-1zM517 224h2v1h-2zM717 224h1v1h-1zM172 225h1v1h-1zM249 225h1v1h-1zM293 225h1v1h-1zM439 225h1v1h-1zM516 225h1v1h-1zM717 225h1v1h-1zM171 226h1v1h-1zM250 226h2v1h-2zM293 226h1v1h-1zM440 226h1v1h-1zM515 226h1v1h-1zM718 226h1v1h-1zM170 227h1v1h-1zM252 227h1v1h-1zM292 227h1v1h-1zM441 227h1v1h-1zM514 227h1v1h-1zM719 227h1v1h-1zM170 228h1v1h-1zM253 228h1v1h-1zM291 228h1v1h-1zM442 228h1v1h-1zM513 228h1v1h-1zM719 228h1v1h-1zM169 229h1v1h-1zM254 229h1v1h-1zM290 229h1v1h-1zM442 229h1v1h-1zM512 229h1v1h-1zM720 229h1v1h-1zM168 230h1v1h-1zM255 230h1v1h-1zM289 230h1v1h-1zM443 230h1v1h-1zM511 230h1v1h-1zM720 230h1v1h-1zM168 231h1v1h-1zM256 231h1v1h-1zM288 231h1v1h-1zM444 231h1v1h-1zM511 231h1v1h-1zM721 231h1v1h-1zM167 232h1v1h-1zM257 232h1v1h-1zM287 232h1v1h-1zM445 232h1v1h-1zM510 232h1v1h-1zM721 232h1v1h-1zM167 233h1v1h-1zM258 233h1v1h-1zM286 233h1v1h-1zM445 233h1v1h-1zM509 233h1v1h-1zM722 233h1v1h-1zM166 234h1v1h-1zM259 234h1v1h-1zM285 234h1v1h-1zM446 234h1v1h-1zM509 234h1v1h-1zM722 234h1v1h-1zM166 235h1v1h-1zM260 235h1v1h-1zM283 235h2v1h-2zM447 235h1v1h-1zM508 235h1v1h-1zM723 235h1v1h-1zM165 236h1v1h-1zM261 236h1v1h-1zM281 236h2v1h-2zM447 236h1v1h-1zM507 236h1v1h-1zM723 236h1v1h-1zM165 237h1v1h-1zM262 237h1v1h-1zM278 237h3v1h-3zM448 237h1v1h-1zM507 237h1v1h-1zM724 237h1v1h-1zM164 238h1v1h-1zM263 238h1v1h-1zM274 238h4v1h-4zM449 238h1v1h-1zM506 238h1v1h-1zM724 238h1v1h-1zM164 239h1v1h-1zM264 239h10v1h-10zM450 239h2v1h-2zM505 239h1v1h-1zM725 239h1v1h-1zM164 240h1v1h-1zM452 240h1v1h-1zM505 240h1v1h-1zM725 240h1v1h-1zM163 241h1v1h-1zM453 241h1v1h-1zM504 241h1v1h-1zM726 241h1v1h-1zM163 242h1v1h-1zM453 242h1v1h-1zM503 242h1v1h-1zM726 242h1v1h-1zM162 243h1v1h-1zM454 243h1v1h-1zM502 243h1v1h-1zM727 243h1v1h-1zM162 244h1v1h-1zM454 244h1v1h-1zM502 244h1v1h-1zM727 244h1v1h-1zM161 245h1v1h-1zM455 245h1v1h-1zM501 245h1v1h-1zM728 245h1v1h-1zM161 246h1v1h-1zM455 246h1v1h-1zM500 246h1v1h-1zM728 246h1v1h-1zM160 247h1v1h-1zM456 247h1v1h-1zM499 247h1v1h-1zM729 247h1v1h-1zM160 248h1v1h-1zM456 248h1v1h-1zM498 248h1v1h-1zM729 248h1v1h-1zM159 249h1v1h-1zM457 249h1v1h-1zM498 249h1v1h-1zM730 249h1v1h-1zM158 250h1v1h-1zM458 250h1v1h-1zM497 250h1v1h-1zM730 250h1v1h-1zM158 251h1v1h-1zM459 251h1v1h-1zM496 251h1v1h-1zM731 251h1v1h-1zM157 252h1v1h-1zM460 252h1v1h-1zM495 252h1v1h-1zM731 252h1v1h-1zM156 253h1v1h-1zM461 253h1v1h-1zM494 253h1v1h-1zM732 253h1v1h-1zM155 254h1v1h-1zM462 254h2v1h-2zM494 254h1v1h-1zM733 254h1v1h-1zM155 255h1v1h-1zM464 255h1v1h-1zM493 255h1v1h-1zM733 255h1v1h-1zM154 256h1v1h-1zM465 256h1v1h-1zM492 256h1v1h-1zM734 256h1v1h-1zM154 257h1v1h-1zM466 257h1v1h-1zM491 257h1v1h-1zM734 257h1v1h-1zM153 258h1v1h-1zM466 258h1v1h-1zM490 258h1v1h-1zM735 258h1v1h-1zM153 259h1v1h-1zM467 259h1v1h-1zM489 259h1v1h-1zM735 259h1v1h-1zM152 260h1v1h-1zM468 260h1v1h-1zM479 260h10v1h-10zM736 260h1v1h-1zM151 261h1v1h-1zM469 261h2v1h-2zM477 261h2v1h-2zM737 261h1v1h-1zM150 262h1v1h-1zM471 262h6v1h-6zM738 262h1v1h-1zM149 263h1v1h-1zM738 263h1v1h-1zM148 264h1v1h-1zM739 264h1v1h-1zM147 265h1v1h-1zM740 265h1v1h-1zM146 266h1v1h-1zM741 266h1v1h-1zM146 267h1v1h-1zM741 267h1v1h-1zM145 268h1v1h-1zM742 268h1v1h-1zM144 269h1v1h-1zM742 269h1v1h-1zM143 270h1v1h-1zM743 270h1v1h-1zM143 271h1v1h-1zM743 271h1v1h-1zM142 272h1v1h-1zM744 272h1v1h-1zM141 273h1v1h-1zM745 273h1v1h-1zM141 274h1v1h-1zM746 274h1v1h-1zM140 275h1v1h-1zM746 275h1v1h-1zM139 276h1v1h-1zM747 276h1v1h-1zM139 277h1v1h-1zM748 277h1v1h-1zM138 278h1v1h-1zM749 278h1v1h-1zM138 279h1v1h-1zM749 279h1v1h-1zM137 280h1v1h-1zM750 280h1v1h-1zM137 281h1v1h-1zM750 281h1v1h-1zM136 282h1v1h-1zM751 282h1v1h-1zM135 283h1v1h-1zM751 283h1v1h-1zM135 284h1v1h-1zM752 284h1v1h-1zM134 285h1v1h-1zM752 285h1v1h-1zM133 286h1v1h-1zM753 286h1v1h-1zM133 287h1v1h-1zM753 287h1v1h-1zM132 288h1v1h-1zM754 288h1v1h-1zM130 289h2v1h-2zM754 289h1v1h-1zM129 290h1v1h-1zM755 290h1v1h-1zM127 291h2v1h-2zM755 291h1v1h-1zM125 292h2v1h-2zM756 292h1v1h-1zM124 293h1v1h-1zM756 293h1v1h-1zM123 294h1v1h-1zM757 294h1v1h-1zM122 295h1v1h-1zM757 295h1v1h-1zM122 296h1v1h-1zM758 296h1v1h-1zM121 297h1v1h-1zM758 297h1v1h-1zM120 298h1v1h-1zM759 298h1v1h-1zM120 299h1v1h-1zM759 299h1v1h-1zM119 300h1v1h-1zM760 300h1v1h-1zM119 301h1v1h-1zM760 301h1v1h-1zM118 302h1v1h-1zM760 302h1v1h-1zM118 303h1v1h-1zM761 303h1v1h-1zM117 304h1v1h-1zM761 304h1v1h-1zM117 305h1v1h-1zM762 305h1v1h-1zM116 306h1v1h-1zM762 306h1v1h-1zM115 307h1v1h-1zM763 307h1v1h-1zM114 308h1v1h-1zM763 308h1v1h-1zM114 309h1v1h-1zM764 309h1v1h-1zM771 309h6v1h-6zM113 310h1v1h-1zM764 310h2v1h-2zM769 310h2v1h-2zM777 310h2v1h-2zM112 311h1v1h-1zM766 311h3v1h-3zM779 311h2v1h-2zM110 312h2v1h-2zM781 312h1v1h-1zM109 313h1v1h-1zM782 313h1v1h-1zM108 314h1v1h-1zM783 314h1v1h-1zM107 315h1v1h-1zM784 315h1v1h-1zM106 316h1v1h-1zM785 316h1v1h-1zM106 317h1v1h-1zM786 317h1v1h-1zM105 318h1v1h-1zM787 318h1v1h-1zM104 319h1v1h-1zM788 319h1v1h-1zM103 320h1v1h-1zM789 320h1v1h-1zM103 321h1v1h-1zM790 321h2v1h-2zM102 322h1v1h-1zM792 322h1v1h-1zM102 323h1v1h-1zM793 323h1v1h-1zM101 324h1v1h-1zM794 324h1v1h-1zM101 325h1v1h-1zM795 325h1v1h-1zM100 326h1v1h-1zM796 326h1v1h-1zM100 327h1v1h-1zM797 327h1v1h-1zM99 328h1v1h-1zM798 328h1v1h-1zM99 329h1v1h-1zM798 329h1v1h-1zM98 330h1v1h-1zM799 330h1v1h-1zM98 331h1v1h-1zM800 331h1v1h-1zM97 332h1v1h-1zM801 332h1v1h-1zM97 333h1v1h-1zM802 333h1v1h-1zM96 334h1v1h-1zM803 334h1v1h-1zM96 335h1v1h-1zM804 335h1v1h-1zM96 336h1v1h-1zM805 336h1v1h-1zM95 337h1v1h-1zM806 337h2v1h-2zM95 338h1v1h-1zM808 338h1v1h-1zM95 339h1v1h-1zM809 339h1v1h-1zM94 340h1v1h-1zM810 340h1v1h-1zM94 341h1v1h-1zM811 341h1v1h-1zM93 342h1v1h-1zM812 342h1v1h-1zM93 343h1v1h-1zM813 343h1v1h-1zM93 344h1v1h-1zM814 344h2v1h-2zM92 345h1v1h-1zM816 345h1v1h-1zM92 346h1v1h-1zM817 346h1v1h-1zM91 347h1v1h-1zM817 347h1v1h-1zM91 348h1v1h-1zM818 348h1v1h-1zM90 349h1v1h-1zM819 349h1v1h-1zM90 350h1v1h-1zM819 350h1v1h-1zM89 351h1v1h-1zM820 351h1v1h-1zM89 352h1v1h-1zM821 352h1v1h-1zM88 353h1v1h-1zM821 353h1v1h-1zM87 354h1v1h-1zM822 354h1v1h-1zM87 355h1v1h-1zM822 355h1v1h-1zM86 356h1v1h-1zM823 356h1v1h-1zM86 357h1v1h-1zM823 357h1v1h-1zM85 358h1v1h-1zM824 358h1v1h-1zM85 359h1v1h-1zM824 359h1v1h-1zM84 360h1v1h-1zM825 360h1v1h-1zM83 361h1v1h-1zM825 361h1v1h-1zM82 362h1v1h-1zM826 362h1v1h-1zM82 363h1v1h-1zM826 363h1v1h-1zM81 364h1v1h-1zM827 364h1v1h-1zM80 365h1v1h-1zM827 365h1v1h-1zM79 366h1v1h-1zM828 366h1v1h-1zM79 367h1v1h-1zM829 367h1v1h-1zM78 368h1v1h-1zM830 368h1v1h-1zM78 369h1v1h-1zM830 369h1v1h-1zM77 370h1v1h-1zM831 370h1v1h-1zM77 371h1v1h-1zM832 371h1v1h-1zM76 372h1v1h-1zM833 372h1v1h-1zM75 373h1v1h-1zM834 373h1v1h-1zM75 374h1v1h-1zM834 374h1v1h-1zM74 375h1v1h-1zM835 375h1v1h-1zM74 376h1v1h-1zM836 376h1v1h-1zM73 377h1v1h-1zM837 377h1v1h-1zM73 378h1v1h-1zM838 378h2v1h-2zM72 379h1v1h-1zM840 379h1v1h-1zM71 380h1v1h-1zM841 380h1v1h-1zM71 381h1v1h-1zM842 381h1v1h-1zM70 382h1v1h-1zM843 382h1v1h-1zM70 383h1v1h-1zM844 383h1v1h-1zM69 384h1v1h-1zM845 384h1v1h-1zM69 385h1v1h-1zM846 385h1v1h-1zM68 386h1v1h-1zM846 386h1v1h-1zM67 387h1v1h-1zM847 387h1v1h-1zM67 388h1v1h-1zM848 388h1v1h-1zM66 389h1v1h-1zM849 389h1v1h-1zM66 390h1v1h-1zM850 390h1v1h-1zM65 391h1v1h-1zM850 391h1v1h-1zM65 392h1v1h-1zM851 392h1v1h-1zM64 393h1v1h-1zM852 393h1v1h-1zM63 394h1v1h-1zM853 394h1v1h-1zM62 395h1v1h-1zM854 395h2v1h-2zM61 396h1v1h-1zM856 396h1v1h-1zM60 397h1v1h-1zM857 397h1v1h-1zM59 398h1v1h-1zM858 398h1v1h-1zM58 399h1v1h-1zM858 399h1v1h-1zM58 400h1v1h-1zM859 400h1v1h-1zM57 401h1v1h-1zM860 401h1v1h-1zM56 402h1v1h-1zM861 402h1v1h-1zM880 402h10v1h-10zM56 403h1v1h-1zM862 403h1v1h-1zM878 403h2v1h-2zM890 403h4v1h-4zM55 404h1v1h-1zM863 404h1v1h-1zM877 404h1v1h-1zM894 404h8v1h-8zM906 404h4v1h-4zM55 405h1v1h-1zM864 405h2v1h-2zM875 405h2v1h-2zM902 405h4v1h-4zM910 405h4v1h-4zM54 406h1v1h-1zM866 406h4v1h-4zM873 406h2v1h-2zM914 406h3v1h-3zM54 407h1v1h-1zM870 407h3v1h-3zM917 407h1v1h-1zM53 408h1v1h-1zM918 408h2v1h-2zM53 409h1v1h-1zM920 409h1v1h-1zM52 410h1v1h-1zM921 410h1v1h-1zM51 411h1v1h-1zM922 411h1v1h-1zM50 412h1v1h-1zM922 412h1v1h-1zM50 413h1v1h-1zM923 413h1v1h-1zM49 414h1v1h-1zM924 414h1v1h-1zM48 415h1v1h-1zM47 416h1v1h-1zM46 417h1v1h-1zM45 418h1v1h-1zM44 419h1v1h-1zM42 420h2v1h-2zM41 421h1v1h-1zM40 422h1v1h-1zM39 423h1v1h-1zM38 424h1v1h-1zM38 425h1v1h-1zM37 426h1v1h-1zM36 427h1v1h-1zM35 428h1v1h-1zM35 429h1v1h-1zM34 430h1v1h-1zM33 431h1v1h-1zM33 432h1v1h-1zM32 433h1v1h-1zM31 434h1v1h-1zM30 435h1v1h-1zM29 436h1v1h-1zM28 437h1v1h-1zM27 438h1v1h-1zM26 439h1v1h-1zM26 440h1v1h-1zM25 441h1v1h-1zM23 442h2v1h-2zM21 443h2v1h-2zM20 444h1v1h-1zM19 445h1v1h-1zM18 446h1v1h-1zM17 447h1v1h-1zM14 448h3v1h-3zM0 449h14v1h-14z" fill="#ff0000" shape-rendering="crispEdges"/>
<g shape-rendering="crispEdges">
<rect x="4" y="205" width="1162" height="2" fill="#ff0000"/>
<rect x="4" y="288" width="1162" height="2" fill="#ff0000"/>
<rect x="4" y="383" width="1162" height="2" fill="#00ff00"/>
<rect x="4" y="472" width="1162" height="2" fill="#0000ff"/>
</g>
<rect x="3" y="381" width="6" height="6" fill="#00ff00"/>
<rect x="5" y="383" width="2" height="2" fill="#fff"/>
<rect x="1160" y="381" width="6" height="6" fill="#00ff00"/>
<rect x="1162" y="383" width="2" height="2" fill="#fff"/>
<rect x="3" y="470" width="6" height="6" fill="#0000ff"/>
<rect x="5" y="472" width="2" height="2" fill="#fff"/>
<rect x="1160" y="470" width="6" height="6" fill="#0000ff"/>
<rect x="1162" y="472" width="2" height="2" fill="#fff"/>
<g clip-path="url(#mainclip)" shape-rendering="crispEdges">
<rect x="4" y="426" width="1" height="40" fill="#ff0000"/>
<rect x="3" y="428" width="3" height="35" fill="#ff0000"/>
<rect x="4" y="429" width="1" height="33" fill="#ff5500"/>
<rect x="8" y="431" width="1" height="8" fill="#ff0000"/>
<rect x="7" y="434" width="3" height="2" fill="#ff0000"/>
<rect x="12" y="420" width="1" height="37" fill="#32cd32"/>
<rect x="11" y="440" width="3" height="14" fill="#32cd32"/>
<rect x="16" y="404" width="1" height="57" fill="#ff0000"/>
<rect x="15" y="416" width="3" height="38" fill="#ff0000"/>
<rect x="16" y="417" width="1" height="36" fill="#ff5500"/>
<rect x="20" y="400" width="1" height="28" fill="#ff0000"/>
<rect x="19" y="412" width="3" height="5" fill="#ff0000"/>
<rect x="20" y="413" width="1" height="3" fill="#ff5500"/>
<rect x="24" y="400" width="1" height="15" fill="#ff0000"/>
<rect x="23" y="406" width="3" height="7" fill="#ff0000"/>
<rect x="24" y="407" width="1" height="5" fill="#ff5500"/>
<rect x="28" y="387" width="1" height="25" fill="#ff0000"/>
<rect x="27" y="388" width="3" height="19" fill="#ff0000"/>
<rect x="28" y="389" width="1" height="17" fill="#ff5500"/>
<rect x="32" y="386" width="1" height="11" fill="#32cd32"/>
<rect x="31" y="389" width="3" height="5" fill="#32cd32"/>
<rect x="36" y="381" width="1" height="29" fill="#32cd32"/>
<rect x="35" y="393" width="3" height="12" fill="#32cd32"/>
<rect x="40" y="400" width="1" height="20" fill="#32cd32"/>
<rect x="39" y="404" width="3" height="7" fill="#32cd32"/>
<rect x="44" y="390" width="1" height="23" fill="#ff0000"/>
<rect x="43" y="396" width="3" height="15" fill="#ff0000"/>
<rect x="44" y="397" width="1" height="13" fill="#ff5500"/>
<rect x="48" y="359" width="1" height="40" fill="#ff0000"/>
<rect x="47" y="360" width="3" height="37" fill="#ff0000"/>
<rect x="48" y="361" width="1" height="35" fill="#ff5500"/>
<rect x="52" y="358" width="1" height="23" fill="#32cd32"/>
<rect x="51" y="360" width="3" height="9" fill="#32cd32"/>
<rect x="56" y="362" width="1" height="8" fill="#ff0000"/>
<rect x="55" y="363" width="3" height="6" fill="#ff0000"/>
<rect x="56" y="364" width="1" height="4" fill="#ff5500"/>
<rect x="60" y="360" width="1" height="41" fill="#ff0000"/>
<rect x="59" y="361" width="3" height="9" fill="#ff0000"/>
<rect x="60" y="362" width="1" height="7" fill="#ff5500"/>
<rect x="64" y="355" width="1" height="32" fill="#32cd32"/>
<rect x="63" y="360" width="3" height="20" fill="#32cd32"/>
<rect x="68" y="338" width="1" height="46" fill="#ff0000"/>
<rect x="67" y="351" width="3" height="29" fill="#ff0000"/>
<rect x="68" y="352" width="1" height="27" fill="#ff5500"/>
<rect x="72" y="313" width="1" height="61" fill="#ff0000"/>
<rect x="71" y="319" width="3" height="34" fill="#ff0000"/>
<rect x="72" y="320" width="1" height="32" fill="#ff5500"/>
<rect x="76" y="290" width="1" height="34" fill="#ff0000"/>
<rect x="75" y="310" width="3" height="11" fill="#ff0000"/>
<rect x="76" y="311" width="1" height="9" fill="#ff5500"/>
<rect x="80" y="305" width="1" height="11" fill="#ff0000"/>
<rect x="79" y="309" width="3" height="3" fill="#ff0000"/>
<rect x="80" y="310" width="1" height="1" fill="#ff5500"/>
<rect x="84" y="286" width="1" height="30" fill="#32cd32"/>
<rect x="83" y="302" width="3" height="9" fill="#32cd32"/>
<rect x="88" y="294" width="1" height="32" fill="#ff0000"/>
<rect x="87" y="307" width="3" height="4" fill="#ff0000"/>
<rect x="88" y="308" width="1" height="2" fill="#ff5500"/>
<rect x="92" y="286" width="1" height="24" fill="#ff0000"/>
<rect x="91" y="294" width="3" height="14" fill="#ff0000"/>
<rect x="92" y="295" width="1" height="12" fill="#ff5500"/>
<rect x="96" y="252" width="1" height="57" fill="#ff0000"/>
<rect x="95" y="263" width="3" height="32" fill="#ff0000"/>
<rect x="96" y="264" width="1" height="30" fill="#ff5500"/>
<rect x="100" y="256" width="1" height="29" fill="#32cd32"/>
<rect x="99" y="263" width="3" height="7" fill="#32cd32"/>
<rect x="104" y="261" width="1" height="14" fill="#ff0000"/>
<rect x="103" y="265" width="3" height="5" fill="#ff0000"/>
<rect x="104" y="266" width="1" height="3" fill="#ff5500"/>
<rect x="108" y="270" width="1" height="83" fill="#32cd32"/>
<rect x="107" y="273" width="3" height="26" fill="#32cd32"/>
<rect x="112" y="275" width="1" height="47" fill="#32cd32"/>
<rect x="111" y="298" width="3" height="22" fill="#32cd32"/>
<rect x="116" y="278" width="1" height="42" fill="#ff0000"/>
<rect x="115" y="286" width="3" height="34" fill="#ff0000"/>
<rect x="116" y="287" width="1" height="32" fill="#ff5500"/>
<rect x="120" y="271" width="1" height="22" fill="#ff0000"/>
<rect x="119" y="275" width="3" height="12" fill="#ff0000"/>
<rect x="120" y="276" width="1" height="10" fill="#ff5500"/>
<rect x="124" y="272" width="1" height="11" fill="#32cd32"/>
<rect x="123" y="275" width="3" height="4" fill="#32cd32"/>
<rect x="128" y="261" width="1" height="38" fill="#32cd32"/>
<rect x="127" y="276" width="3" height="19" fill="#32cd32"/>
<rect x="132" y="263" width="1" height="32" fill="#ff0000"/>
<rect x="131" y="266" width="3" height="27" fill="#ff0000"/>
<rect x="132" y="267" width="1" height="25" fill="#ff5500"/>
<rect x="136" y="225" width="1" height="48" fill="#ff0000"/>
<rect x="135" y="226" width="3" height="42" fill="#ff0000"/>
<rect x="136" y="227" width="1" height="40" fill="#ff5500"/>
<rect x="140" y="194" width="1" height="39" fill="#ff0000"/>
<rect x="139" y="206" width="3" height="22" fill="#ff0000"/>
<rect x="140" y="207" width="1" height="20" fill="#ff5500"/>
<rect x="144" y="206" width="1" height="19" fill="#32cd32"/>
<rect x="143" y="207" width="3" height="17" fill="#32cd32"/>
<rect x="148" y="195" width="1" height="36" fill="#32cd32"/>
<rect x="147" y="221" width="3" height="8" fill="#32cd32"/>
<rect x="152" y="202" width="1" height="50" fill="#ff0000"/>
<rect x="151" y="203" width="3" height="25" fill="#ff0000"/>
<rect x="152" y="204" width="1" height="23" fill="#ff5500"/>
<rect x="156" y="151" width="1" height="54" fill="#ff0000"/>
<rect x="155" y="179" width="3" height="26" fill="#ff0000"/>
<rect x="156" y="180" width="1" height="24" fill="#ff5500"/>
<rect x="160" y="153" width="1" height="54" fill="#32cd32"/>
<rect x="159" y="178" width="3" height="15" fill="#32cd32"/>
<rect x="164" y="163" width="1" height="36" fill="#ff0000"/>
<rect x="163" y="173" width="3" height="20" fill="#ff0000"/>
<rect x="164" y="174" width="1" height="18" fill="#ff5500"/>
<rect x="168" y="171" width="1" height="34" fill="#32cd32"/>
<rect x="167" y="173" width="3" height="21" fill="#32cd32"/>
<rect x="172" y="187" width="1" height="52" fill="#32cd32"/>
<rect x="171" y="188" width="3" height="35" fill="#32cd32"/>
<rect x="176" y="196" width="1" height="32" fill="#ff0000"/>
<rect x="175" y="204" width="3" height="19" fill="#ff0000"/>
<rect x="176" y="205" width="1" height="17" fill="#ff5500"/>
<rect x="180" y="173" width="1" height="37" fill="#ff0000"/>
<rect x="179" y="196" width="3" height="13" fill="#ff0000"/>
<rect x="180" y="197" width="1" height="11" fill="#ff5500"/>
<rect x="184" y="176" width="1" height="29" fill="#ff0000"/>
<rect x="183" y="179" width="3" height="18" fill="#ff0000"/>
<rect x="184" y="180" width="1" height="16" fill="#ff5500"/>
<rect x="188" y="159" width="1" height="71" fill="#32cd32"/>
<rect x="187" y="179" width="3" height="38" fill="#32cd32"/>
<rect x="192" y="208" width="1" height="14" fill="#ff0000"/>
<rect x="191" y="213" width="3" height="5" fill="#ff0000"/>
<rect x="192" y="214" width="1" height="3" fill="#ff5500"/>
<rect x="196" y="212" width="1" height="31" fill="#32cd32"/>
<rect x="195" y="214" width="3" height="14" fill="#32cd32"/>
<rect x="200" y="202" width="1" height="30" fill="#ff0000"/>
<rect x="199" y="215" width="3" height="10" fill="#ff0000"/>
<rect x="200" y="216" width="1" height="8" fill="#ff5500"/>
<rect x="204" y="184" width="1" height="42" fill="#ff0000"/>
<rect x="203" y="193" width="3" height="24" fill="#ff0000"/>
<rect x="204" y="194" width="1" height="22" fill="#ff5500"/>
<rect x="208" y="172" width="1" height="29" fill="#ff0000"/>
<rect x="207" y="182" width="3" height="13" fill="#ff0000"/>
<rect x="208" y="183" width="1" height="11" fill="#ff5500"/>
<rect x="212" y="179" width="1" height="40" fill="#32cd32"/>
<rect x="211" y="182" width="3" height="27" fill="#32cd32"/>
<rect x="216" y="202" width="1" height="11" fill="#32cd32"/>
<rect x="215" y="205" width="3" height="4" fill="#32cd32"/>
<rect x="220" y="192" width="1" height="25" fill="#32cd32"/>
<rect x="219" y="214" width="3" height="3" fill="#32cd32"/>
<rect x="224" y="188" width="1" height="48" fill="#ff0000"/>
<rect x="223" y="192" width="3" height="25" fill="#ff0000"/>
<rect x="224" y="193" width="1" height="23" fill="#ff5500"/>
<rect x="228" y="183" width="1" height="67" fill="#32cd32"/>
<rect x="227" y="192" width="3" height="34" fill="#32cd32"/>
<rect x="232" y="218" width="1" height="62" fill="#32cd32"/>
<rect x="231" y="225" width="3" height="11" fill="#32cd32"/>
<rect x="236" y="216" width="1" height="39" fill="#ff0000"/>
<rect x="235" y="233" width="3" height="4" fill="#ff0000"/>
<rect x="236" y="234" width="1" height="2" fill="#ff5500"/>
<rect x="240" y="232" width="1" height="25" fill="#32cd32"/>
<rect x="239" y="233" width="3" height="21" fill="#32cd32"/>
<rect x="244" y="239" width="1" height="33" fill="#32cd32"/>
<rect x="243" y="259" width="3" height="6" fill="#32cd32"/>
<rect x="248" y="239" width="1" height="52" fill="#32cd32"/>
<rect x="247" y="263" width="3" height="27" fill="#32cd32"/>
<rect x="252" y="259" width="1" height="31" fill="#ff0000"/>
<rect x="251" y="266" width="3" height="22" fill="#ff0000"/>
<rect x="252" y="267" width="1" height="20" fill="#ff5500"/>
<rect x="256" y="247" width="1" height="35" fill="#32cd32"/>
<rect x="255" y="266" width="3" height="10" fill="#32cd32"/>
<rect x="260" y="241" width="1" height="43" fill="#ff0000"/>
<rect x="259" y="242" width="3" height="34" fill="#ff0000"/>
<rect x="260" y="243" width="1" height="32" fill="#ff5500"/>
<rect x="264" y="233" width="1" height="13" fill="#ff0000"/>
<rect x="263" y="235" width="3" height="9" fill="#ff0000"/>
<rect x="264" y="236" width="1" height="7" fill="#ff5500"/>
<rect x="268" y="210" width="1" height="36" fill="#ff0000"/>
<rect x="267" y="213" width="3" height="27" fill="#ff0000"/>
<rect x="268" y="214" width="1" height="25" fill="#ff5500"/>
<rect x="272" y="198" width="1" height="25" fill="#ff0000"/>
<rect x="271" y="204" width="3" height="10" fill="#ff0000"/>
<rect x="272" y="205" width="1" height="8" fill="#ff5500"/>
<rect x="276" y="193" width="1" height="20" fill="#ff0000"/>
<rect x="275" y="200" width="3" height="8" fill="#ff0000"/>
<rect x="276" y="201" width="1" height="6" fill="#ff5500"/>
<rect x="280" y="178" width="1" height="35" fill="#ff0000"/>
<rect x="279" y="185" width="3" height="16" fill="#ff0000"/>
<rect x="280" y="186" width="1" height="14" fill="#ff5500"/>
<rect x="284" y="183" width="1" height="27" fill="#32cd32"/>
<rect x="283" y="184" width="3" height="7" fill="#32cd32"/>
<rect x="288" y="182" width="1" height="12" fill="#ff0000"/>
<rect x="287" y="187" width="3" height="5" fill="#ff0000"/>
<rect x="288" y="188" width="1" height="3" fill="#ff5500"/>
<rect x="292" y="170" width="1" height="17" fill="#ff0000"/>
<rect x="291" y="172" width="3" height="14" fill="#ff0000"/>
<rect x="292" y="173" width="1" height="12" fill="#ff5500"/>
<rect x="296" y="161" width="1" height="33" fill="#32cd32"/>
<rect x="295" y="172" width="3" height="7" fill="#32cd32"/>
<rect x="300" y="174" width="1" height="31" fill="#32cd32"/>
<rect x="299" y="177" width="3" height="23" fill="#32cd32"/>
<rect x="304" y="168" width="1" height="36" fill="#ff0000"/>
<rect x="303" y="195" width="3" height="5" fill="#ff0000"/>
<rect x="304" y="196" width="1" height="3" fill="#ff5500"/>
<rect x="308" y="125" width="1" height="74" fill="#ff0000"/>
<rect x="307" y="128" width="3" height="70" fill="#ff0000"/>
<rect x="308" y="129" width="1" height="68" fill="#ff5500"/>
<rect x="312" y="119" width="1" height="13" fill="#ff0000"/>
<rect x="311" y="126" width="3" height="4" fill="#ff0000"/>
<rect x="312" y="127" width="1" height="2" fill="#ff5500"/>
<rect x="316" y="96" width="1" height="38" fill="#ff0000"/>
<rect x="315" y="104" width="3" height="20" fill="#ff0000"/>
<rect x="316" y="105" width="1" height="18" fill="#ff5500"/>
<rect x="320" y="88" width="1" height="31" fill="#ff0000"/>
<rect x="319" y="102" width="3" height="4" fill="#ff0000"/>
<rect x="320" y="103" width="1" height="2" fill="#ff5500"/>
<rect x="324" y="83" width="1" height="27" fill="#ff0000"/>
<rect x="323" y="98" width="3" height="6" fill="#ff0000"/>
<rect x="324" y="99" width="1" height="4" fill="#ff5500"/>
<rect x="328" y="47" width="1" height="52" fill="#ff0000"/>
<rect x="327" y="76" width="3" height="23" fill="#ff0000"/>
<rect x="328" y="77" width="1" height="21" fill="#ff5500"/>
<rect x="332" y="73" width="1" height="130" fill="#32cd32"/>
<rect x="331" y="76" width="3" height="118" fill="#32cd32"/>
<rect x="336" y="188" width="1" height="27" fill="#32cd32"/>
<rect x="335" y="193" width="3" height="21" fill="#32cd32"/>
<rect x="340" y="170" width="1" height="43" fill="#ff0000"/>
<rect x="339" y="172" width="3" height="36" fill="#ff0000"/>
<rect x="340" y="173" width="1" height="34" fill="#ff5500"/>
<rect x="344" y="150" width="1" height="49" fill="#ff0000"/>
<rect x="343" y="155" width="3" height="19" fill="#ff0000"/>
<rect x="344" y="156" width="1" height="17" fill="#ff5500"/>
<rect x="348" y="141" width="1" height="40" fill="#32cd32"/>
<rect x="347" y="155" width="3" height="11" fill="#32cd32"/>
<rect x="352" y="154" width="1" height="37" fill="#ff0000"/>
<rect x="351" y="162" width="3" height="4" fill="#ff0000"/>
<rect x="352" y="163" width="1" height="2" fill="#ff5500"/>
<rect x="356" y="156" width="1" height="106" fill="#32cd32"/>
<rect x="355" y="162" width="3" height="77" fill="#32cd32"/>
<rect x="360" y="222" width="1" height="24" fill="#ff0000"/>
<rect x="359" y="224" width="3" height="15" fill="#ff0000"/>
<rect x="360" y="225" width="1" height="13" fill="#ff5500"/>
<rect x="364" y="206" width="1" height="48" fill="#32cd32"/>
<rect x="363" y="220" width="3" height="17" fill="#32cd32"/>
<rect x="368" y="206" width="1" height="57" fill="#ff0000"/>
<rect x="367" y="219" width="3" height="18" fill="#ff0000"/>
<rect x="368" y="220" width="1" height="16" fill="#ff5500"/>
<rect x="372" y="194" width="1" height="42" fill="#ff0000"/>
<rect x="371" y="210" width="3" height="10" fill="#ff0000"/>
<rect x="372" y="211" width="1" height="8" fill="#ff5500"/>
<rect x="376" y="171" width="1" height="42" fill="#ff0000"/>
<rect x="375" y="181" width="3" height="31" fill="#ff0000"/>
<rect x="376" y="182" width="1" height="29" fill="#ff5500"/>
<rect x="380" y="162" width="1" height="43" fill="#32cd32"/>
<rect x="379" y="182" width="3" height="11" fill="#32cd32"/>
<rect x="384" y="176" width="1" height="21" fill="#ff0000"/>
<rect x="383" y="186" width="3" height="7" fill="#ff0000"/>
<rect x="384" y="187" width="1" height="5" fill="#ff5500"/>
<rect x="388" y="176" width="1" height="40" fill="#32cd32"/>
<rect x="387" y="188" width="3" height="15" fill="#32cd32"/>
<rect x="392" y="185" width="1" height="28" fill="#ff0000"/>
<rect x="391" y="192" width="3" height="11" fill="#ff0000"/>
<rect x="392" y="193" width="1" height="9" fill="#ff5500"/>
<rect x="396" y="186" width="1" height="30" fill="#32cd32"/>
<rect x="395" y="192" width="3" height="22" fill="#32cd32"/>
<rect x="400" y="135" width="1" height="84" fill="#ff0000"/>
<rect x="399" y="166" width="3" height="48" fill="#ff0000"/>
<rect x="400" y="167" width="1" height="46" fill="#ff5500"/>
<rect x="404" y="160" width="1" height="49" fill="#32cd32"/>
<rect x="403" y="165" width="3" height="30" fill="#32cd32"/>
<rect x="408" y="188" width="1" height="7" fill="#ff0000"/>
<rect x="407" y="191" width="3" height="4" fill="#ff0000"/>
<rect x="408" y="192" width="1" height="2" fill="#ff5500"/>
<rect x="412" y="187" width="1" height="30" fill="#ff0000"/>
<rect x="411" y="190" width="3" height="18" fill="#ff0000"/>
<rect x="412" y="191" width="1" height="16" fill="#ff5500"/>
<rect x="416" y="187" width="1" height="57" fill="#32cd32"/>
<rect x="415" y="191" width="3" height="38" fill="#32cd32"/>
<rect x="420" y="228" width="1" height="57" fill="#32cd32"/>
<rect x="419" y="228" width="3" height="34" fill="#32cd32"/>
<rect x="424" y="258" width="1" height="38" fill="#32cd32"/>
<rect x="423" y="261" width="3" height="31" fill="#32cd32"/>
<rect x="428" y="253" width="1" height="38" fill="#ff0000"/>
<rect x="427" y="258" width="3" height="33" fill="#ff0000"/>
<rect x="428" y="259" width="1" height="31" fill="#ff5500"/>
<rect x="432" y="255" width="1" height="11" fill="#32cd32"/>
<rect x="431" y="258" width="3" height="5" fill="#32cd32"/>
<rect x="436" y="243" width="1" height="23" fill="#ff0000"/>
<rect x="435" y="250" width="3" height="3" fill="#ff0000"/>
<rect x="436" y="251" width="1" height="1" fill="#ff5500"/>
<rect x="440" y="238" width="1" height="39" fill="#32cd32"/>
<rect x="439" y="250" width="3" height="21" fill="#32cd32"/>
<rect x="444" y="253" width="1" height="30" fill="#ff0000"/>
<rect x="443" y="267" width="3" height="4" fill="#ff0000"/>
<rect x="444" y="268" width="1" height="2" fill="#ff5500"/>
<rect x="448" y="262" width="1" height="49" fill="#32cd32"/>
<rect x="447" y="267" width="3" height="5" fill="#32cd32"/>
<rect x="452" y="262" width="1" height="12" fill="#ff0000"/>
<rect x="451" y="265" width="3" height="8" fill="#ff0000"/>
<rect x="452" y="266" width="1" height="6" fill="#ff5500"/>
<rect x="456" y="272" width="1" height="5" fill="#32cd32"/>
<rect x="455" y="273" width="3" height="3" fill="#32cd32"/>
<rect x="460" y="240" width="1" height="36" fill="#ff0000"/>
<rect x="459" y="242" width="3" height="27" fill="#ff0000"/>
<rect x="460" y="243" width="1" height="25" fill="#ff5500"/>
<rect x="464" y="239" width="1" height="26" fill="#ff0000"/>
<rect x="463" y="241" width="3" height="3" fill="#ff0000"/>
<rect x="464" y="242" width="1" height="1" fill="#ff5500"/>
<rect x="468" y="232" width="1" height="37" fill="#32cd32"/>
<rect x="467" y="240" width="3" height="20" fill="#32cd32"/>
<rect x="472" y="246" width="1" height="28" fill="#ff0000"/>
<rect x="471" y="252" width="3" height="9" fill="#ff0000"/>
<rect x="472" y="253" width="1" height="7" fill="#ff5500"/>
<rect x="476" y="240" width="1" height="41" fill="#32cd32"/>
<rect x="475" y="252" width="3" height="6" fill="#32cd32"/>
<rect x="480" y="256" width="1" height="7" fill="#32cd32"/>
<rect x="479" y="257" width="3" height="5" fill="#32cd32"/>
<rect x="484" y="254" width="1" height="25" fill="#32cd32"/>
<rect x="483" y="262" width="3" height="2" fill="#32cd32"/>
<rect x="488" y="257" width="1" height="27" fill="#ff0000"/>
<rect x="487" y="258" width="3" height="6" fill="#ff0000"/>
<rect x="488" y="259" width="1" height="4" fill="#ff5500"/>
<rect x="492" y="199" width="1" height="61" fill="#ff0000"/>
<rect x="491" y="200" width="3" height="60" fill="#ff0000"/>
<rect x="492" y="201" width="1" height="58" fill="#ff5500"/>
<rect x="496" y="184" width="1" height="32" fill="#ff0000"/>
<rect x="495" y="194" width="3" height="9" fill="#ff0000"/>
<rect x="496" y="195" width="1" height="7" fill="#ff5500"/>
<rect x="500" y="186" width="1" height="20" fill="#32cd32"/>
<rect x="499" y="194" width="3" height="5" fill="#32cd32"/>
<rect x="504" y="198" width="1" height="4" fill="#32cd32"/>
<rect x="503" y="198" width="3" height="3" fill="#32cd32"/>
<rect x="508" y="172" width="1" height="44" fill="#ff0000"/>
<rect x="507" y="186" width="3" height="19" fill="#ff0000"/>
<rect x="508" y="187" width="1" height="17" fill="#ff5500"/>
<rect x="512" y="153" width="1" height="44" fill="#32cd32"/>
<rect x="511" y="186" width="3" height="11" fill="#32cd32"/>
<rect x="516" y="184" width="1" height="35" fill="#ff0000"/>
<rect x="515" y="188" width="3" height="9" fill="#ff0000"/>
<rect x="516" y="189" width="1" height="7" fill="#ff5500"/>
<rect x="520" y="183" width="1" height="31" fill="#32cd32"/>
<rect x="519" y="188" width="3" height="14" fill="#32cd32"/>
<rect x="524" y="194" width="1" height="30" fill="#ff0000"/>
<rect x="523" y="198" width="3" height="7" fill="#ff0000"/>
<rect x="524" y="199" width="1" height="5" fill="#ff5500"/>
<rect x="528" y="186" width="1" height="14" fill="#ff0000"/>
<rect x="527" y="186" width="3" height="13" fill="#ff0000"/>
<rect x="528" y="187" width="1" height="11" fill="#ff5500"/>
<rect x="532" y="154" width="1" height="43" fill="#ff0000"/>
<rect x="531" y="162" width="3" height="33" fill="#ff0000"/>
<rect x="532" y="163" width="1" height="31" fill="#ff5500"/>
<rect x="536" y="159" width="1" height="25" fill="#32cd32"/>
<rect x="535" y="163" width="3" height="16" fill="#32cd32"/>
<rect x="540" y="176" width="1" height="29" fill="#32cd32"/>
<rect x="539" y="177" width="3" height="5" fill="#32cd32"/>
<rect x="544" y="152" width="1" height="53" fill="#32cd32"/>
<rect x="543" y="181" width="3" height="6" fill="#32cd32"/>
<rect x="548" y="171" width="1" height="46" fill="#32cd32"/>
<rect x="547" y="186" width="3" height="25" fill="#32cd32"/>
<rect x="552" y="208" width="1" height="10" fill="#32cd32"/>
<rect x="551" y="209" width="3" height="8" fill="#32cd32"/>
<rect x="556" y="182" width="1" height="34" fill="#ff0000"/>
<rect x="555" y="186" width="3" height="24" fill="#ff0000"/>
<rect x="556" y="187" width="1" height="22" fill="#ff5500"/>
<rect x="560" y="181" width="1" height="52" fill="#32cd32"/>
<rect x="559" y="186" width="3" height="40" fill="#32cd32"/>
<rect x="564" y="187" width="1" height="40" fill="#ff0000"/>
<rect x="563" y="191" width="3" height="35" fill="#ff0000"/>
<rect x="564" y="192" width="1" height="33" fill="#ff5500"/>
<rect x="568" y="176" width="1" height="42" fill="#ff0000"/>
<rect x="567" y="180" width="3" height="12" fill="#ff0000"/>
<rect x="568" y="181" width="1" height="10" fill="#ff5500"/>
<rect x="572" y="128" width="1" height="57" fill="#ff0000"/>
<rect x="571" y="129" width="3" height="53" fill="#ff0000"/>
<rect x="572" y="130" width="1" height="51" fill="#ff5500"/>
<rect x="576" y="129" width="1" height="14" fill="#32cd32"/>
<rect x="575" y="129" width="3" height="9" fill="#32cd32"/>
<rect x="580" y="112" width="1" height="31" fill="#ff0000"/>
<rect x="579" y="121" width="3" height="14" fill="#ff0000"/>
<rect x="580" y="122" width="1" height="12" fill="#ff5500"/>
<rect x="584" y="120" width="1" height="33" fill="#32cd32"/>
<rect x="583" y="121" width="3" height="20" fill="#32cd32"/>
<rect x="588" y="135" width="1" height="66" fill="#32cd32"/>
<rect x="587" y="138" width="3" height="63" fill="#32cd32"/>
<rect x="592" y="192" width="1" height="34" fill="#32cd32"/>
<rect x="591" y="199" width="3" height="7" fill="#32cd32"/>
<rect x="596" y="173" width="1" height="43" fill="#ff0000"/>
<rect x="595" y="174" width="3" height="33" fill="#ff0000"/>
<rect x="596" y="175" width="1" height="31" fill="#ff5500"/>
<rect x="600" y="168" width="1" height="10" fill="#ff0000"/>
<rect x="599" y="170" width="3" height="7" fill="#ff0000"/>
<rect x="600" y="171" width="1" height="5" fill="#ff5500"/>
<rect x="604" y="172" width="1" height="31" fill="#32cd32"/>
<rect x="603" y="174" width="3" height="8" fill="#32cd32"/>
<rect x="608" y="155" width="1" height="30" fill="#ff0000"/>
<rect x="607" y="173" width="3" height="10" fill="#ff0000"/>
<rect x="608" y="174" width="1" height="8" fill="#ff5500"/>
<rect x="612" y="160" width="1" height="42" fill="#32cd32"/>
<rect x="611" y="173" width="3" height="17" fill="#32cd32"/>
<rect x="616" y="173" width="1" height="41" fill="#ff0000"/>
<rect x="615" y="174" width="3" height="16" fill="#ff0000"/>
<rect x="616" y="175" width="1" height="14" fill="#ff5500"/>
<rect x="620" y="172" width="1" height="32" fill="#32cd32"/>
<rect x="619" y="174" width="3" height="29" fill="#32cd32"/>
<rect x="624" y="199" width="1" height="10" fill="#ff0000"/>
<rect x="623" y="200" width="3" height="3" fill="#ff0000"/>
<rect x="624" y="201" width="1" height="1" fill="#ff5500"/>
<rect x="628" y="187" width="1" height="26" fill="#ff0000"/>
<rect x="627" y="196" width="3" height="8" fill="#ff0000"/>
<rect x="628" y="197" width="1" height="6" fill="#ff5500"/>
<rect x="632" y="176" width="1" height="24" fill="#ff0000"/>
<rect x="631" y="195" width="3" height="4" fill="#ff0000"/>
<rect x="632" y="196" width="1" height="2" fill="#ff5500"/>
<rect x="636" y="165" width="1" height="38" fill="#ff0000"/>
<rect x="635" y="194" width="3" height="3" fill="#ff0000"/>
<rect x="636" y="195" width="1" height="1" fill="#ff5500"/>
<rect x="640" y="186" width="1" height="21" fill="#32cd32"/>
<rect x="639" y="194" width="3" height="6" fill="#32cd32"/>
<rect x="644" y="192" width="1" height="40" fill="#32cd32"/>
<rect x="643" y="198" width="3" height="19" fill="#32cd32"/>
<rect x="648" y="210" width="1" height="9" fill="#ff0000"/>
<rect x="647" y="213" width="3" height="4" fill="#ff0000"/>
<rect x="648" y="214" width="1" height="2" fill="#ff5500"/>
<rect x="652" y="195" width="1" height="24" fill="#ff0000"/>
<rect x="651" y="196" width="3" height="18" fill="#ff0000"/>
<rect x="652" y="197" width="1" height="16" fill="#ff5500"/>
<rect x="656" y="179" width="1" height="20" fill="#ff0000"/>
<rect x="655" y="182" width="3" height="15" fill="#ff0000"/>
<rect x="656" y="183" width="1" height="13" fill="#ff5500"/>
<rect x="660" y="177" width="1" height="34" fill="#32cd32"/>
<rect x="659" y="182" width="3" height="9" fill="#32cd32"/>
<rect x="664" y="187" width="1" height="61" fill="#32cd32"/>
<rect x="663" y="189" width="3" height="58" fill="#32cd32"/>
<rect x="668" y="193" width="1" height="56" fill="#ff0000"/>
<rect x="667" y="195" width="3" height="52" fill="#ff0000"/>
<rect x="668" y="196" width="1" height="50" fill="#ff5500"/>
<rect x="672" y="193" width="1" height="6" fill="#ff0000"/>
<rect x="671" y="194" width="3" height="3" fill="#ff0000"/>
<rect x="672" y="195" width="1" height="1" fill="#ff5500"/>
<rect x="676" y="181" width="1" height="23" fill="#ff0000"/>
<rect x="675" y="182" width="3" height="16" fill="#ff0000"/>
<rect x="676" y="183" width="1" height="14" fill="#ff5500"/>
<rect x="680" y="182" width="1" height="19" fill="#32cd32"/>
<rect x="679" y="182" width="3" height="16" fill="#32cd32"/>
<rect x="684" y="183" width="1" height="24" fill="#32cd32"/>
<rect x="683" y="190" width="3" height="13" fill="#32cd32"/>
<rect x="688" y="183" width="1" height="28" fill="#ff0000"/>
<rect x="687" y="189" width="3" height="13" fill="#ff0000"/>
<rect x="688" y="190" width="1" height="11" fill="#ff5500"/>
<rect x="692" y="176" width="1" height="49" fill="#32cd32"/>
<rect x="691" y="189" width="3" height="33" fill="#32cd32"/>
<rect x="696" y="216" width="1" height="11" fill="#ff0000"/>
<rect x="695" y="217" width="3" height="6" fill="#ff0000"/>
<rect x="696" y="218" width="1" height="4" fill="#ff5500"/>
<rect x="700" y="204" width="1" height="18" fill="#ff0000"/>
<rect x="699" y="209" width="3" height="7" fill="#ff0000"/>
<rect x="700" y="210" width="1" height="5" fill="#ff5500"/>
<rect x="704" y="208" width="1" height="26" fill="#32cd32"/>
<rect x="703" y="209" width="3" height="25" fill="#32cd32"/>
<rect x="708" y="205" width="1" height="29" fill="#ff0000"/>
<rect x="707" y="212" width="3" height="21" fill="#ff0000"/>
<rect x="708" y="213" width="1" height="19" fill="#ff5500"/>
<rect x="712" y="209" width="1" height="93" fill="#32cd32"/>
<rect x="711" y="211" width="3" height="89" fill="#32cd32"/>
<rect x="716" y="295" width="1" height="47" fill="#32cd32"/>
<rect x="715" y="299" width="3" height="32" fill="#32cd32"/>
<rect x="720" y="323" width="1" height="12" fill="#ff0000"/>
<rect x="719" y="329" width="3" height="2" fill="#ff0000"/>
<rect x="724" y="309" width="1" height="34" fill="#ff0000"/>
<rect x="723" y="314" width="3" height="17" fill="#ff0000"/>
<rect x="724" y="315" width="1" height="15" fill="#ff5500"/>
<rect x="728" y="304" width="1" height="31" fill="#32cd32"/>
<rect x="727" y="314" width="3" height="2" fill="#32cd32"/>
<rect x="732" y="274" width="1" height="43" fill="#ff0000"/>
<rect x="731" y="280" width="3" height="36" fill="#ff0000"/>
<rect x="732" y="281" width="1" height="34" fill="#ff5500"/>
<rect x="736" y="278" width="1" height="17" fill="#32cd32"/>
<rect x="735" y="280" width="3" height="9" fill="#32cd32"/>
<rect x="740" y="265" width="1" height="25" fill="#ff0000"/>
<rect x="739" y="276" width="3" height="14" fill="#ff0000"/>
<rect x="740" y="277" width="1" height="12" fill="#ff5500"/>
<rect x="744" y="275" width="1" height="10" fill="#32cd32"/>
<rect x="743" y="277" width="3" height="7" fill="#32cd32"/>
<rect x="748" y="273" width="1" height="28" fill="#32cd32"/>
<rect x="747" y="281" width="3" height="9" fill="#32cd32"/>
<rect x="752" y="288" width="1" height="39" fill="#32cd32"/>
<rect x="751" y="289" width="3" height="33" fill="#32cd32"/>
<rect x="756" y="314" width="1" height="21" fill="#32cd32"/>
<rect x="755" y="321" width="3" height="12" fill="#32cd32"/>
<rect x="760" y="325" width="1" height="27" fill="#32cd32"/>
<rect x="759" y="332" width="3" height="14" fill="#32cd32"/>
<rect x="764" y="330" width="1" height="32" fill="#ff0000"/>
<rect x="763" y="331" width="3" height="15" fill="#ff0000"/>
<rect x="764" y="332" width="1" height="13" fill="#ff5500"/>
<rect x="768" y="309" width="1" height="26" fill="#ff0000"/>
<rect x="767" y="313" width="3" height="20" fill="#ff0000"/>
<rect x="768" y="314" width="1" height="18" fill="#ff5500"/>
<rect x="772" y="309" width="1" height="17" fill="#ff0000"/>
<rect x="771" y="312" width="3" height="8" fill="#ff0000"/>
<rect x="772" y="313" width="1" height="6" fill="#ff5500"/>
<rect x="776" y="274" width="1" height="64" fill="#32cd32"/>
<rect x="775" y="312" width="3" height="20" fill="#32cd32"/>
<rect x="780" y="311" width="1" height="41" fill="#32cd32"/>
<rect x="779" y="331" width="3" height="9" fill="#32cd32"/>
<rect x="784" y="325" width="1" height="52" fill="#32cd32"/>
<rect x="783" y="338" width="3" height="27" fill="#32cd32"/>
<rect x="788" y="337" width="1" height="44" fill="#ff0000"/>
<rect x="787" y="341" width="3" height="26" fill="#ff0000"/>
<rect x="788" y="342" width="1" height="24" fill="#ff5500"/>
<rect x="792" y="334" width="1" height="9" fill="#ff0000"/>
<rect x="791" y="335" width="3" height="8" fill="#ff0000"/>
<rect x="792" y="336" width="1" height="6" fill="#ff5500"/>
<rect x="796" y="332" width="1" height="27" fill="#ff0000"/>
<rect x="795" y="335" width="3" height="2" fill="#ff0000"/>
<rect x="800" y="328" width="1" height="43" fill="#32cd32"/>
<rect x="799" y="335" width="3" height="12" fill="#32cd32"/>
<rect x="804" y="337" width="1" height="32" fill="#32cd32"/>
<rect x="803" y="345" width="3" height="4" fill="#32cd32"/>
<rect x="808" y="336" width="1" height="31" fill="#32cd32"/>
<rect x="807" y="347" width="3" height="20" fill="#32cd32"/>
<rect x="812" y="362" width="1" height="25" fill="#32cd32"/>
<rect x="811" y="366" width="3" height="16" fill="#32cd32"/>
<rect x="816" y="376" width="1" height="10" fill="#32cd32"/>
<rect x="815" y="380" width="3" height="6" fill="#32cd32"/>
<rect x="820" y="387" width="1" height="40" fill="#32cd32"/>
<rect x="819" y="390" width="3" height="28" fill="#32cd32"/>
<rect x="824" y="409" width="1" height="33" fill="#32cd32"/>
<rect x="823" y="417" width="3" height="11" fill="#32cd32"/>
<rect x="828" y="408" width="1" height="40" fill="#ff0000"/>
<rect x="827" y="410" width="3" height="18" fill="#ff0000"/>
<rect x="828" y="411" width="1" height="16" fill="#ff5500"/>
<rect x="832" y="386" width="1" height="32" fill="#ff0000"/>
<rect x="831" y="405" width="3" height="7" fill="#ff0000"/>
<rect x="832" y="406" width="1" height="5" fill="#ff5500"/>
<rect x="836" y="391" width="1" height="19" fill="#32cd32"/>
<rect x="835" y="405" width="3" height="3" fill="#32cd32"/>
<rect x="840" y="400" width="1" height="7" fill="#ff0000"/>
<rect x="839" y="404" width="3" height="3" fill="#ff0000"/>
<rect x="840" y="405" width="1" height="1" fill="#ff5500"/>
<rect x="844" y="390" width="1" height="36" fill="#ff0000"/>
<rect x="843" y="393" width="3" height="12" fill="#ff0000"/>
<rect x="844" y="394" width="1" height="10" fill="#ff5500"/>
<rect x="848" y="391" width="1" height="31" fill="#32cd32"/>
<rect x="847" y="393" width="3" height="12" fill="#32cd32"/>
<rect x="852" y="398" width="1" height="31" fill="#32cd32"/>
<rect x="851" y="404" width="3" height="11" fill="#32cd32"/>
<rect x="856" y="378" width="1" height="54" fill="#ff0000"/>
<rect x="855" y="385" width="3" height="30" fill="#ff0000"/>
<rect x="856" y="386" width="1" height="28" fill="#ff5500"/>
<rect x="860" y="383" width="1" height="34" fill="#32cd32"/>
<rect x="859" y="384" width="3" height="25" fill="#32cd32"/>
<rect x="864" y="412" width="1" height="13" fill="#32cd32"/>
<rect x="863" y="412" width="3" height="11" fill="#32cd32"/>
<rect x="868" y="396" width="1" height="29" fill="#ff0000"/>
<rect x="867" y="406" width="3" height="11" fill="#ff0000"/>
<rect x="868" y="407" width="1" height="9" fill="#ff5500"/>
<rect x="872" y="380" width="1" height="30" fill="#ff0000"/>
<rect x="871" y="393" width="3" height="15" fill="#ff0000"/>
<rect x="872" y="394" width="1" height="13" fill="#ff5500"/>
<rect x="876" y="370" width="1" height="33" fill="#32cd32"/>
<rect x="875" y="394" width="3" height="3" fill="#32cd32"/>
<rect x="880" y="376" width="1" height="25" fill="#ff0000"/>
<rect x="879" y="380" width="3" height="17" fill="#ff0000"/>
<rect x="880" y="381" width="1" height="15" fill="#ff5500"/>
<rect x="884" y="380" width="1" height="36" fill="#32cd32"/>
<rect x="883" y="380" width="3" height="30" fill="#32cd32"/>
<rect x="888" y="408" width="1" height="6" fill="#32cd32"/>
<rect x="887" y="410" width="3" height="3" fill="#32cd32"/>
<rect x="892" y="404" width="1" height="22" fill="#ff0000"/>
<rect x="891" y="418" width="3" height="3" fill="#ff0000"/>
<rect x="892" y="419" width="1" height="1" fill="#ff5500"/>
<rect x="896" y="409" width="1" height="24" fill="#ff0000"/>
<rect x="895" y="415" width="3" height="5" fill="#ff0000"/>
<rect x="896" y="416" width="1" height="3" fill="#ff5500"/>
<rect x="900" y="392" width="1" height="38" fill="#ff0000"/>
<rect x="899" y="400" width="3" height="16" fill="#ff0000"/>
<rect x="900" y="401" width="1" height="14" fill="#ff5500"/>
<rect x="904" y="391" width="1" height="31" fill="#32cd32"/>
<rect x="903" y="400" width="3" height="18" fill="#32cd32"/>
<rect x="908" y="396" width="1" height="29" fill="#ff0000"/>
<rect x="907" y="398" width="3" height="20" fill="#ff0000"/>
<rect x="908" y="399" width="1" height="18" fill="#ff5500"/>
<rect x="912" y="395" width="1" height="9" fill="#32cd32"/>
<rect x="911" y="398" width="3" height="3" fill="#32cd32"/>
<rect x="916" y="401" width="1" height="30" fill="#32cd32"/>
<rect x="915" y="402" width="3" height="19" fill="#32cd32"/>
<rect x="920" y="418" width="1" height="51" fill="#32cd32"/>
<rect x="919" y="419" width="3" height="50" fill="#32cd32"/>
<rect x="924" y="464" width="1" height="11" fill="#ff0000"/>
<rect x="923" y="464" width="3" height="5" fill="#ff0000"/>
<rect x="924" y="465" width="1" height="3" fill="#ff5500"/>
</g>
<g clip-path="url(#macdclip)" shape-rendering="crispEdges">
<rect x="3" y="511" width="3" height="22" fill="#c0c0c0"/>
<rect x="7" y="511" width="3" height="22" fill="#c0c0c0"/>
<rect x="11" y="513" width="3" height="20" fill="#c0c0c0"/>
<rect x="15" y="511" width="3" height="22" fill="#c0c0c0"/>
<rect x="19" y="510" width="3" height="23" fill="#c0c0c0"/>
<rect x="23" y="509" width="3" height="24" fill="#c0c0c0"/>
<rect x="27" y="507" width="3" height="26" fill="#c0c0c0"/>
<rect x="31" y="506" width="3" height="27" fill="#c0c0c0"/>
<rect x="35" y="507" width="3" height="26" fill="#c0c0c0"/>
<rect x="39" y="508" width="3" height="25" fill="#c0c0c0"/>
<rect x="43" y="508" width="3" height="25" fill="#c0c0c0"/>
<rect x="47" y="506" width="3" height="27" fill="#c0c0c0"/>
<rect x="51" y="505" width="3" height="28" fill="#c0c0c0"/>
<rect x="55" y="504" width="3" height="29" fill="#c0c0c0"/>
<rect x="59" y="504" width="3" height="29" fill="#c0c0c0"/>
<rect x="63" y="505" width="3" height="28" fill="#c0c0c0"/>
<rect x="67" y="504" width="3" height="29" fill="#c0c0c0"/>
<rect x="71" y="502" width="3" height="31" fill="#c0c0c0"/>
<rect x="75" y="499" width="3" height="34" fill="#c0c0c0"/>
<rect x="79" y="498" width="3" height="35" fill="#c0c0c0"/>
<rect x="83" y="497" width="3" height="36" fill="#c0c0c0"/>
<rect x="87" y="497" width="3" height="36" fill="#c0c0c0"/>
<rect x="91" y="496" width="3" height="37" fill="#c0c0c0"/>
<rect x="95" y="493" width="3" height="40" fill="#c0c0c0"/>
<rect x="99" y="492" width="3" height="41" fill="#c0c0c0"/>
<rect x="103" y="491" width="3" height="42" fill="#c0c0c0"/>
<rect x="107" y="494" width="3" height="39" fill="#c0c0c0"/>
<rect x="111" y="498" width="3" height="35" fill="#c0c0c0"/>
<rect x="115" y="499" width="3" height="34" fill="#c0c0c0"/>
<rect x="119" y="499" width="3" height="34" fill="#c0c0c0"/>
<rect x="123" y="500" width="3" height="33" fill="#c0c0c0"/>
<rect x="127" y="502" width="3" height="31" fill="#c0c0c0"/>
<rect x="131" y="502" width="3" height="31" fill="#c0c0c0"/>
<rect x="135" y="499" width="3" height="34" fill="#c0c0c0"/>
<rect x="139" y="496" width="3" height="37" fill="#c0c0c0"/>
<rect x="143" y="495" width="3" height="38" fill="#c0c0c0"/>
<rect x="147" y="496" width="3" height="37" fill="#c0c0c0"/>
<rect x="151" y="494" width="3" height="39" fill="#c0c0c0"/>
<rect x="155" y="492" width="3" height="41" fill="#c0c0c0"/>
<rect x="159" y="491" width="3" height="42" fill="#c0c0c0"/>
<rect x="163" y="490" width="3" height="43" fill="#c0c0c0"/>
<rect x="167" y="491" width="3" height="42" fill="#c0c0c0"/>
<rect x="171" y="494" width="3" height="39" fill="#c0c0c0"/>
<rect x="175" y="496" width="3" height="37" fill="#c0c0c0"/>
<rect x="179" y="498" width="3" height="35" fill="#c0c0c0"/>
<rect x="183" y="498" width="3" height="35" fill="#c0c0c0"/>
<rect x="187" y="501" width="3" height="32" fill="#c0c0c0"/>
<rect x="191" y="504" width="3" height="29" fill="#c0c0c0"/>
<rect x="195" y="507" width="3" height="26" fill="#c0c0c0"/>
<rect x="199" y="509" width="3" height="24" fill="#c0c0c0"/>
<rect x="203" y="509" width="3" height="24" fill="#c0c0c0"/>
<rect x="207" y="509" width="3" height="24" fill="#c0c0c0"/>
<rect x="211" y="511" width="3" height="22" fill="#c0c0c0"/>
<rect x="215" y="513" width="3" height="20" fill="#c0c0c0"/>
<rect x="219" y="515" width="3" height="18" fill="#c0c0c0"/>
<rect x="223" y="515" width="3" height="18" fill="#c0c0c0"/>
<rect x="227" y="518" width="3" height="15" fill="#c0c0c0"/>
<rect x="231" y="521" width="3" height="12" fill="#c0c0c0"/>
<rect x="235" y="524" width="3" height="9" fill="#c0c0c0"/>
<rect x="239" y="527" width="3" height="6" fill="#c0c0c0"/>
<rect x="243" y="531" width="3" height="2" fill="#c0c0c0"/>
<rect x="247" y="533" width="3" height="3" fill="#c0c0c0"/>
<rect x="251" y="533" width="3" height="4" fill="#c0c0c0"/>
<rect x="255" y="533" width="3" height="7" fill="#c0c0c0"/>
<rect x="259" y="533" width="3" height="6" fill="#c0c0c0"/>
<rect x="263" y="533" width="3" height="5" fill="#c0c0c0"/>
<rect x="267" y="533" width="3" height="2" fill="#c0c0c0"/>
<rect x="271" y="532" width="3" height="1" fill="#c0c0c0"/>
<rect x="275" y="530" width="3" height="3" fill="#c0c0c0"/>
<rect x="279" y="526" width="3" height="7" fill="#c0c0c0"/>
<rect x="283" y="525" width="3" height="8" fill="#c0c0c0"/>
<rect x="287" y="523" width="3" height="10" fill="#c0c0c0"/>
<rect x="291" y="521" width="3" height="12" fill="#c0c0c0"/>
<rect x="295" y="519" width="3" height="14" fill="#c0c0c0"/>
<rect x="299" y="520" width="3" height="13" fill="#c0c0c0"/>
<rect x="303" y="521" width="3" height="12" fill="#c0c0c0"/>
<rect x="307" y="516" width="3" height="17" fill="#c0c0c0"/>
<rect x="311" y="513" width="3" height="20" fill="#c0c0c0"/>
<rect x="315" y="508" width="3" height="25" fill="#c0c0c0"/>
<rect x="319" y="505" width="3" height="28" fill="#c0c0c0"/>
<rect x="323" y="503" width="3" height="30" fill="#c0c0c0"/>
<rect x="327" y="500" width="3" height="33" fill="#c0c0c0"/>
<rect x="331" y="506" width="3" height="27" fill="#c0c0c0"/>
<rect x="335" y="513" width="3" height="20" fill="#c0c0c0"/>
<rect x="339" y="516" width="3" height="17" fill="#c0c0c0"/>
<rect x="343" y="517" width="3" height="16" fill="#c0c0c0"/>
<rect x="347" y="519" width="3" height="14" fill="#c0c0c0"/>
<rect x="351" y="520" width="3" height="13" fill="#c0c0c0"/>
<rect x="355" y="527" width="3" height="6" fill="#c0c0c0"/>
<rect x="359" y="531" width="3" height="2" fill="#c0c0c0"/>
<rect x="363" y="533" width="3" height="3" fill="#c0c0c0"/>
<rect x="367" y="533" width="3" height="5" fill="#c0c0c0"/>
<rect x="371" y="533" width="3" height="6" fill="#c0c0c0"/>
<rect x="375" y="533" width="3" height="4" fill="#c0c0c0"/>
<rect x="379" y="533" width="3" height="4" fill="#c0c0c0"/>
<rect x="383" y="533" width="3" height="3" fill="#c0c0c0"/>
<rect x="387" y="533" width="3" height="3" fill="#c0c0c0"/>
<rect x="391" y="533" width="3" height="3" fill="#c0c0c0"/>
<rect x="395" y="533" width="3" height="4" fill="#c0c0c0"/>
<rect x="399" y="533" width="3" height="2" fill="#c0c0c0"/>
<rect x="403" y="533" width="3" height="2" fill="#c0c0c0"/>
<rect x="407" y="533" width="3" height="1" fill="#c0c0c0"/>
<rect x="411" y="533" width="3" height="1" fill="#c0c0c0"/>
<rect x="415" y="533" width="3" height="4" fill="#c0c0c0"/>
<rect x="419" y="533" width="3" height="8" fill="#c0c0c0"/>
<rect x="423" y="533" width="3" height="14" fill="#c0c0c0"/>
<rect x="427" y="533" width="3" height="16" fill="#c0c0c0"/>
<rect x="431" y="533" width="3" height="17" fill="#c0c0c0"/>
<rect x="435" y="533" width="3" height="18" fill="#c0c0c0"/>
<rect x="439" y="533" width="3" height="19" fill="#c0c0c0"/>
<rect x="443" y="533" width="3" height="20" fill="#c0c0c0"/>
<rect x="447" y="533" width="3" height="20" fill="#c0c0c0"/>
<rect x="451" y="533" width="3" height="20" fill="#c0c0c0"/>
<rect x="455" y="533" width="3" height="20" fill="#c0c0c0"/>
<rect x="459" y="533" width="3" height="18" fill="#c0c0c0"/>
<rect x="463" y="533" width="3" height="16" fill="#c0c0c0"/>
<rect x="467" y="533" width="3" height="15" fill="#c0c0c0"/>
<rect x="471" y="533" width="3" height="14" fill="#c0c0c0"/>
<rect x="475" y="533" width="3" height="13" fill="#c0c0c0"/>
<rect x="479" y="533" width="3" height="13" fill="#c0c0c0"/>
<rect x="483" y="533" width="3" height="13" fill="#c0c0c0"/>
<rect x="487" y="533" width="3" height="12" fill="#c0c0c0"/>
<rect x="491" y="533" width="3" height="7" fill="#c0c0c0"/>
<rect x="495" y="533" width="3" height="2" fill="#c0c0c0"/>
<rect x="499" y="532" width="3" height="1" fill="#c0c0c0"/>
<rect x="503" y="530" width="3" height="3" fill="#c0c0c0"/>
<rect x="507" y="527" width="3" height="6" fill="#c0c0c0"/>
<rect x="511" y="525" width="3" height="8" fill="#c0c0c0"/>
<rect x="515" y="524" width="3" height="9" fill="#c0c0c0"/>
<rect x="519" y="524" width="3" height="9" fill="#c0c0c0"/>
<rect x="523" y="523" width="3" height="10" fill="#c0c0c0"/>
<rect x="527" y="522" width="3" height="11" fill="#c0c0c0"/>
<rect x="531" y="520" width="3" height="13" fill="#c0c0c0"/>
<rect x="535" y="519" width="3" height="14" fill="#c0c0c0"/>
<rect x="539" y="519" width="3" height="14" fill="#c0c0c0"/>
<rect x="543" y="520" width="3" height="13" fill="#c0c0c0"/>
<rect x="547" y="522" width="3" height="11" fill="#c0c0c0"/>
<rect x="551" y="524" width="3" height="9" fill="#c0c0c0"/>
<rect x="555" y="524" width="3" height="9" fill="#c0c0c0"/>
<rect x="559" y="527" width="3" height="6" fill="#c0c0c0"/>
<rect x="563" y="527" width="3" height="6" fill="#c0c0c0"/>
<rect x="567" y="526" width="3" height="7" fill="#c0c0c0"/>
<rect x="571" y="521" width="3" height="12" fill="#c0c0c0"/>
<rect x="575" y="518" width="3" height="15" fill="#c0c0c0"/>
<rect x="579" y="515" width="3" height="18" fill="#c0c0c0"/>
<rect x="583" y="514" width="3" height="19" fill="#c0c0c0"/>
<rect x="587" y="518" width="3" height="15" fill="#c0c0c0"/>
<rect x="591" y="522" width="3" height="11" fill="#c0c0c0"/>
<rect x="595" y="523" width="3" height="10" fill="#c0c0c0"/>
<rect x="599" y="523" width="3" height="10" fill="#c0c0c0"/>
<rect x="603" y="524" width="3" height="9" fill="#c0c0c0"/>
<rect x="607" y="525" width="3" height="8" fill="#c0c0c0"/>
<rect x="611" y="526" width="3" height="7" fill="#c0c0c0"/>
<rect x="615" y="527" width="3" height="6" fill="#c0c0c0"/>
<rect x="619" y="529" width="3" height="4" fill="#c0c0c0"/>
<rect x="623" y="531" width="3" height="2" fill="#c0c0c0"/>
<rect x="627" y="532" width="3" height="1" fill="#c0c0c0"/>
<rect x="631" y="533" width="3" height="0" fill="#c0c0c0"/>
<rect x="635" y="533" width="3" height="0" fill="#c0c0c0"/>
<rect x="639" y="533" width="3" height="1" fill="#c0c0c0"/>
<rect x="643" y="533" width="3" height="3" fill="#c0c0c0"/>
<rect x="647" y="533" width="3" height="4" fill="#c0c0c0"/>
<rect x="651" y="533" width="3" height="4" fill="#c0c0c0"/>
<rect x="655" y="533" width="3" height="2" fill="#c0c0c0"/>
<rect x="659" y="533" width="3" height="2" fill="#c0c0c0"/>
<rect x="663" y="533" width="3" height="6" fill="#c0c0c0"/>
<rect x="667" y="533" width="3" height="5" fill="#c0c0c0"/>
<rect x="671" y="533" width="3" height="4" fill="#c0c0c0"/>
<rect x="675" y="533" width="3" height="2" fill="#c0c0c0"/>
<rect x="679" y="533" width="3" height="2" fill="#c0c0c0"/>
<rect x="683" y="533" width="3" height="2" fill="#c0c0c0"/>
<rect x="687" y="533" width="3" height="1" fill="#c0c0c0"/>
<rect x="691" y="533" width="3" height="3" fill="#c0c0c0"/>
<rect x="695" y="533" width="3" height="4" fill="#c0c0c0"/>
<rect x="699" y="533" width="3" height="4" fill="#c0c0c0"/>
<rect x="703" y="533" width="3" height="6" fill="#c0c0c0"/>
<rect x="707" y="533" width="3" height="6" fill="#c0c0c0"/>
<rect x="711" y="533" width="3" height="12" fill="#c0c0c0"/>
<rect x="715" y="533" width="3" height="20" fill="#c0c0c0"/>
<rect x="719" y="533" width="3" height="25" fill="#c0c0c0"/>
<rect x="723" y="533" width="3" height="28" fill="#c0c0c0"/>
<rect x="727" y="533" width="3" height="30" fill="#c0c0c0"/>
<rect x="731" y="533" width="3" height="28" fill="#c0c0c0"/>
<rect x="735" y="533" width="3" height="27" fill="#c0c0c0"/>
<rect x="739" y="533" width="3" height="25" fill="#c0c0c0"/>
<rect x="743" y="533" width="3" height="24" fill="#c0c0c0"/>
<rect x="747" y="533" width="3" height="23" fill="#c0c0c0"/>
<rect x="751" y="533" width="3" height="25" fill="#c0c0c0"/>
<rect x="755" y="533" width="3" height="27" fill="#c0c0c0"/>
<rect x="759" y="533" width="3" height="29" fill="#c0c0c0"/>
<rect x="763" y="533" width="3" height="29" fill="#c0c0c0"/>
<rect x="767" y="533" width="3" height="27" fill="#c0c0c0"/>
<rect x="771" y="533" width="3" height="26" fill="#c0c0c0"/>
<rect x="775" y="533" width="3" height="26" fill="#c0c0c0"/>
<rect x="779" y="533" width="3" height="26" fill="#c0c0c0"/>
<rect x="783" y="533" width="3" height="28" fill="#c0c0c0"/>
<rect x="787" y="533" width="3" height="27" fill="#c0c0c0"/>
<rect x="791" y="533" width="3" height="26" fill="#c0c0c0"/>
<rect x="795" y="533" width="3" height="24" fill="#c0c0c0"/>
<rect x="799" y="533" width="3" height="24" fill="#c0c0c0"/>
<rect x="803" y="533" width="3" height="23" fill="#c0c0c0"/>
<rect x="807" y="533" width="3" height="24" fill="#c0c0c0"/>
<rect x="811" y="533" width="3" height="26" fill="#c0c0c0"/>
<rect x="815" y="533" width="3" height="27" fill="#c0c0c0"/>
<rect x="819" y="533" width="3" height="30" fill="#c0c0c0"/>
<rect x="823" y="533" width="3" height="32" fill="#c0c0c0"/>
<rect x="827" y="533" width="3" height="33" fill="#c0c0c0"/>
<rect x="831" y="533" width="3" height="33" fill="#c0c0c0"/>
<rect x="835" y="533" width="3" height="32" fill="#c0c0c0"/>
<rect x="839" y="533" width="3" height="31" fill="#c0c0c0"/>
<rect x="843" y="533" width="3" height="29" fill="#c0c0c0"/>
<rect x="847" y="533" width="3" height="28" fill="#c0c0c0"/>
<rect x="851" y="533" width="3" height="28" fill="#c0c0c0"/>
<rect x="855" y="533" width="3" height="25" fill="#c0c0c0"/>
<rect x="859" y="533" width="3" height="24" fill="#c0c0c0"/>
<rect x="863" y="533" width="3" height="24" fill="#c0c0c0"/>
<rect x="867" y="533" width="3" height="23" fill="#c0c0c0"/>
<rect x="871" y="533" width="3" height="21" fill="#c0c0c0"/>
<rect x="875" y="533" width="3" height="19" fill="#c0c0c0"/>
<rect x="879" y="533" width="3" height="16" fill="#c0c0c0"/>
<rect x="883" y="533" width="3" height="16" fill="#c0c0c0"/>
<rect x="887" y="533" width="3" height="16" fill="#c0c0c0"/>
<rect x="891" y="533" width="3" height="16" fill="#c0c0c0"/>
<rect x="895" y="533" width="3" height="16" fill="#c0c0c0"/>
<rect x="899" y="533" width="3" height="14" fill="#c0c0c0"/>
<rect x="903" y="533" width="3" height="14" fill="#c0c0c0"/>
<rect x="907" y="533" width="3" height="12" fill="#c0c0c0"/>
<rect x="911" y="533" width="3" height="11" fill="#c0c0c0"/>
<rect x="915" y="533" width="3" height="11" fill="#c0c0c0"/>
<rect x="919" y="533" width="3" height="15" fill="#c0c0c0"/>
<rect x="923" y="533" width="3" height="18" fill="#c0c0c0"/>
</g>
<path clip-path="url(#macdclip)" d="M170 493h8v1h-8zM166 494h4v1h-4zM178 494h8v1h-8zM106 495h16v1h-16zM162 495h4v1h-4zM186 495h4v1h-4zM102 496h4v1h-4zM122 496h8v1h-8zM158 496h4v1h-4zM190 496h3v1h-3zM99 497h3v1h-3zM130 497h4v1h-4zM154 497h4v1h-4zM193 497h2v1h-2zM97 498h2v1h-2zM134 498h4v1h-4zM150 498h4v1h-4zM195 498h2v1h-2zM94 499h3v1h-3zM138 499h12v1h-12zM197 499h2v1h-2zM90 500h4v1h-4zM199 500h2v1h-2zM86 501h4v1h-4zM201 501h2v1h-2zM82 502h4v1h-4zM203 502h3v1h-3zM78 503h4v1h-4zM206 503h3v1h-3zM74 504h4v1h-4zM209 504h2v1h-2zM70 505h4v1h-4zM211 505h2v1h-2zM58 506h12v1h-12zM213 506h2v1h-2zM50 507h8v1h-8zM215 507h2v1h-2zM46 508h4v1h-4zM217 508h2v1h-2zM34 509h12v1h-12zM219 509h3v1h-3zM334 509h12v1h-12zM30 510h4v1h-4zM222 510h3v1h-3zM331 510h3v1h-3zM346 510h4v1h-4zM26 511h4v1h-4zM225 511h2v1h-2zM329 511h2v1h-2zM350 511h3v1h-3zM18 512h8v1h-8zM227 512h3v1h-3zM327 512h2v1h-2zM353 512h2v1h-2zM4 513h14v1h-14zM230 513h3v1h-3zM325 513h2v1h-2zM355 513h2v1h-2zM233 514h2v1h-2zM323 514h2v1h-2zM357 514h1v1h-1zM235 515h2v1h-2zM321 515h2v1h-2zM358 515h2v1h-2zM237 516h2v1h-2zM319 516h2v1h-2zM360 516h1v1h-1zM239 517h2v1h-2zM317 517h2v1h-2zM361 517h1v1h-1zM241 518h2v1h-2zM315 518h2v1h-2zM362 518h1v1h-1zM243 519h2v1h-2zM313 519h2v1h-2zM363 519h1v1h-1zM245 520h1v1h-1zM311 520h2v1h-2zM364 520h1v1h-1zM594 520h16v1h-16zM246 521h2v1h-2zM309 521h2v1h-2zM365 521h1v1h-1zM546 521h12v1h-12zM586 521h8v1h-8zM610 521h4v1h-4zM248 522h1v1h-1zM307 522h2v1h-2zM366 522h1v1h-1zM542 522h4v1h-4zM558 522h8v1h-8zM582 522h4v1h-4zM614 522h3v1h-3zM249 523h1v1h-1zM305 523h2v1h-2zM367 523h1v1h-1zM538 523h4v1h-4zM566 523h16v1h-16zM617 523h2v1h-2zM250 524h2v1h-2zM303 524h2v1h-2zM368 524h1v1h-1zM534 524h4v1h-4zM619 524h3v1h-3zM252 525h1v1h-1zM301 525h2v1h-2zM369 525h1v1h-1zM531 525h3v1h-3zM622 525h3v1h-3zM253 526h1v1h-1zM299 526h2v1h-2zM370 526h2v1h-2zM529 526h2v1h-2zM625 526h2v1h-2zM254 527h2v1h-2zM297 527h2v1h-2zM372 527h1v1h-1zM527 527h2v1h-2zM627 527h3v1h-3zM256 528h1v1h-1zM295 528h2v1h-2zM373 528h2v1h-2zM525 528h2v1h-2zM630 528h4v1h-4zM257 529h2v1h-2zM293 529h2v1h-2zM375 529h2v1h-2zM523 529h2v1h-2zM634 529h4v1h-4zM259 530h2v1h-2zM291 530h2v1h-2zM377 530h2v1h-2zM521 530h2v1h-2zM638 530h4v1h-4zM261 531h2v1h-2zM289 531h2v1h-2zM379 531h2v1h-2zM520 531h1v1h-1zM642 531h4v1h-4zM263 532h2v1h-2zM286 532h3v1h-3zM381 532h2v1h-2zM518 532h2v1h-2zM646 532h4v1h-4zM265 533h2v1h-2zM283 533h3v1h-3zM383 533h2v1h-2zM517 533h1v1h-1zM650 533h4v1h-4zM267 534h3v1h-3zM281 534h2v1h-2zM385 534h2v1h-2zM515 534h2v1h-2zM654 534h4v1h-4zM270 535h11v1h-11zM387 535h3v1h-3zM513 535h2v1h-2zM658 535h8v1h-8zM390 536h4v1h-4zM402 536h20v1h-20zM512 536h1v1h-1zM666 536h40v1h-40zM394 537h8v1h-8zM422 537h3v1h-3zM510 537h2v1h-2zM706 537h4v1h-4zM425 538h2v1h-2zM509 538h1v1h-1zM710 538h3v1h-3zM427 539h3v1h-3zM507 539h2v1h-2zM713 539h2v1h-2zM430 540h3v1h-3zM505 540h2v1h-2zM715 540h2v1h-2zM433 541h2v1h-2zM503 541h2v1h-2zM717 541h2v1h-2zM435 542h2v1h-2zM501 542h2v1h-2zM719 542h2v1h-2zM437 543h2v1h-2zM499 543h2v1h-2zM721 543h1v1h-1zM439 544h2v1h-2zM497 544h2v1h-2zM722 544h2v1h-2zM441 545h2v1h-2zM494 545h3v1h-3zM724 545h1v1h-1zM443 546h2v1h-2zM491 546h3v1h-3zM725 546h1v1h-1zM445 547h2v1h-2zM489 547h2v1h-2zM726 547h2v1h-2zM914 547h11v1h-11zM447 548h2v1h-2zM486 548h3v1h-3zM728 548h1v1h-1zM906 548h8v1h-8zM449 549h2v1h-2zM482 549h4v1h-4zM729 549h1v1h-1zM902 549h4v1h-4zM451 550h3v1h-3zM474 550h8v1h-8zM730 550h2v1h-2zM899 550h3v1h-3zM454 551h4v1h-4zM466 551h8v1h-8zM732 551h1v1h-1zM897 551h2v1h-2zM458 552h8v1h-8zM733 552h2v1h-2zM890 552h7v1h-7zM735 553h2v1h-2zM887 553h3v1h-3zM737 554h2v1h-2zM885 554h2v1h-2zM739 555h2v1h-2zM882 555h3v1h-3zM741 556h2v1h-2zM879 556h3v1h-3zM743 557h2v1h-2zM877 557h2v1h-2zM745 558h2v1h-2zM802 558h16v1h-16zM874 558h3v1h-3zM747 559h35v1h-35zM794 559h8v1h-8zM818 559h8v1h-8zM870 559h4v1h-4zM782 560h12v1h-12zM826 560h4v1h-4zM866 560h4v1h-4zM830 561h4v1h-4zM862 561h4v1h-4zM834 562h4v1h-4zM858 562h4v1h-4zM838 563h8v1h-8zM854 563h4v1h-4zM846 564h8v1h-8z" fill="#ff0000" shape-rendering="crispEdges"/>
<g shape-rendering="crispEdges">
<rect x="6" y="599" width="3" height="1" fill="#c0c0c0"/>
<rect x="12" y="599" width="3" height="1" fill="#c0c0c0"/>
<rect x="18" y="599" width="3" height="1" fill="#c0c0c0"/>
<rect x="24" y="599" width="3" height="1" fill="#c0c0c0"/>
<rect x="30" y="599" width="3" height="1" fill="#c0c0c0"/>
<rect x="36" y="599" width="3" height="1" fill="#c0c0c0"/>
<rect x="42" y="599" width="3" height="1" fill="#c0c0c0"/>
<rect x="48" y="599" width="3" height="1" fill="#c0c0c0"/>
<rect x="54" y="599" width="3" height="1" fill="#c0c0c0"/>
<rect x="60" y="599" width="3" height="1" fill="#c0c0c0"/>
<rect x="66" y="599" width="3" height="1" fill="#c0c0c0"/>
<rect x="72" y="599" width="3" height="1" fill="#c0c0c0"/>
<rect x="78" y="599" width="3" height="1" fill="#c0c0c0"/>
<rect x="84" y="599" width="3" height="1" fill="#c0c0c0"/>
<rect x="90" y="599" width="3" height="1" fill="#c0c0c0"/>
<rect x="96" y="599" width="3" height="1" fill="#c0c0c0"/>
<rect x="102" y="599" width="3" height="1" fill="#c0c0c0"/>
<rect x="108" y="599" width="3" height="1" fill="#c0c0c0"/>
<rect x="114" y="599" width="3" height="1" fill="#c0c0c0"/>
<rect x="120" y="599" width="3" height="1" fill="#c0c0c0"/>
<rect x="126" y="599" width="3" height="1" fill="#c0c0c0"/>
<rect x="132" y="599" width="3" height="1" fill="#c0c0c0"/>
<rect x="138" y="599" width="3" height="1" fill="#c0c0c0"/>
<rect x="144" y="599" width="3" height="1" fill="#c0c0c0"/>
<rect x="150" y="599" width="3" height="1" fill="#c0c0c0"/>
<rect x="156" y="599" width="3" height="1" fill="#c0c0c0"/>
<rect x="162" y="599" width="3" height="1" fill="#c0c0c0"/>
<rect x="168" y="599" width="3" height="1" fill="#c0c0c0"/>
<rect x="174" y="599" width="3" height="1" fill="#c0c0c0"/>
<rect x="180" y="599" width="3" height="1" fill="#c0c0c0"/>
<rect x="186" y="599" width="3" height="1" fill="#c0c0c0"/>
<rect x="192" y="599" width="3" height="1" fill="#c0c0c0"/>
<rect x="198" y="599" width="3" height="1" fill="#c0c0c0"/>
<rect x="204" y="599" width="3" height="1" fill="#c0c0c0"/>
<rect x="210" y="599" width="3" height="1" fill="#c0c0c0"/>
<rect x="216" y="599" width="3" height="1" fill="#c0c0c0"/>
<rect x="222" y="599" width="3" height="1" fill="#c0c0c0"/>
<rect x="228" y="599" width="3" height="1" fill="#c0c0c0"/>
<rect x="234" y="599" width="3" height="1" fill="#c0c0c0"/>
<rect x="240" y="599" width="3" height="1" fill="#c0c0c0"/>
<rect x="246" y="599" width="3" height="1" fill="#c0c0c0"/>
<rect x="252" y="599" width="3" height="1" fill="#c0c0c0"/>
<rect x="258" y="599" width="3" height="1" fill="#c0c0c0"/>
<rect x="264" y="599" width="3" height="1" fill="#c0c0c0"/>
<rect x="270" y="599" width="3" height="1" fill="#c0c0c0"/>
<rect x="276" y="599" width="3" height="1" fill="#c0c0c0"/>
<rect x="282" y="599" width="3" height="1" fill="#c0c0c0"/>
<rect x="288" y="599" width="3" height="1" fill="#c0c0c0"/>
<rect x="294" y="599" width="3" height="1" fill="#c0c0c0"/>
<rect x="300" y="599" width="3" height="1" fill="#c0c0c0"/>
<rect x="306" y="599" width="3" height="1" fill="#c0c0c0"/>
<rect x="312" y="599" width="3" height="1" fill="#c0c0c0"/>
<rect x="318" y="599" width="3" height="1" fill="#c0c0c0"/>
<rect x="324" y="599" width="3" height="1" fill="#c0c0c0"/>
<rect x="330" y="599" width="3" height="1" fill="#c0c0c0"/>
<rect x="336" y="599" width="3" height="1" fill="#c0c0c0"/>
<rect x="342" y="599" width="3" height="1" fill="#c0c0c0"/>
<rect x="348" y="599" width="3" height="1" fill="#c0c0c0"/>
<rect x="354" y="599" width="3" height="1" fill="#c0c0c0"/>
<rect x="360" y="599" width="3" height="1" fill="#c0c0c0"/>
<rect x="366" y="599" width="3" height="1" fill="#c0c0c0"/>
<rect x="372" y="599" width="3" height="1" fill="#c0c0c0"/>
<rect x="378" y="599" width="3" height="1" fill="#c0c0c0"/>
<rect x="384" y="599" width="3" height="1" fill="#c0c0c0"/>
<rect x="390" y="599" width="3" height="1" fill="#c0c0c0"/>
<rect x="396" y="599" width="3" height="1" fill="#c0c0c0"/>
<rect x="402" y="599" width="3" height="1" fill="#c0c0c0"/>
<rect x="408" y="599" width="3" height="1" fill="#c0c0c0"/>
<rect x="414" y="599" width="3" height="1" fill="#c0c0c0"/>
<rect x="420" y="599" width="3" height="1" fill="#c0c0c0"/>
<rect x="426" y="599" width="3" height="1" fill="#c0c0c0"/>
<rect x="432" y="599" width="3" height="1" fill="#c0c0c0"/>
<rect x="438" y="599" width="3" height="1" fill="#c0c0c0"/>
<rect x="444" y="599" width="3" height="1" fill="#c0c0c0"/>
<rect x="450" y="599" width="3" height="1" fill="#c0c0c0"/>
<rect x="456" y="599" width="3" height="1" fill="#c0c0c0"/>
<rect x="462" y="599" width="3" height="1" fill="#c0c0c0"/>
<rect x="468" y="599" width="3" height="1" fill="#c0c0c0"/>
<rect x="474" y="599" width="3" height="1" fill="#c0c0c0"/>
<rect x="480" y="599" width="3" height="1" fill="#c0c0c0"/>
<rect x="486" y="599" width="3" height="1" fill="#c0c0c0"/>
<rect x="492" y="599" width="3" height="1" fill="#c0c0c0"/>
<rect x="498" y="599" width="3" height="1" fill="#c0c0c0"/>
<rect x="504" y="599" width="3" height="1" fill="#c0c0c0"/>
<rect x="510" y="599" width="3" height="1" fill="#c0c0c0"/>
<rect x="516" y="599" width="3" height="1" fill="#c0c0c0"/>
<rect x="522" y="599" width="3" height="1" fill="#c0c0c0"/>
<rect x="528" y="599" width="3" height="1" fill="#c0c0c0"/>
<rect x="534" y="599" width="3" height="1" fill="#c0c0c0"/>
<rect x="540" y="599" width="3" height="1" fill="#c0c0c0"/>
<rect x="546" y="599" width="3" height="1" fill="#c0c0c0"/>
<rect x="552" y="599" width="3" height="1" fill="#c0c0c0"/>
<rect x="558" y="599" width="3" height="1" fill="#c0c0c0"/>
<rect x="564" y="599" width="3" height="1" fill="#c0c0c0"/>
<rect x="570" y="599" width="3" height="1" fill="#c0c0c0"/>
<rect x="576" y="599" width="3" height="1" fill="#c0c0c0"/>
<rect x="582" y="599" width="3" height="1" fill="#c0c0c0"/>
<rect x="588" y="599" width="3" height="1" fill="#c0c0c0"/>
<rect x="594" y="599" width="3" height="1" fill="#c0c0c0"/>
<rect x="600" y="599" width="3" height="1" fill="#c0c0c0"/>
<rect x="606" y="599" width="3" height="1" fill="#c0c0c0"/>
<rect x="612" y="599" width="3" height="1" fill="#c0c0c0"/>
<rect x="618" y="599" width="3" height="1" fill="#c0c0c0"/>
<rect x="624" y="599" width="3" height="1" fill="#c0c0c0"/>
<rect x="630" y="599" width="3" height="1" fill="#c0c0c0"/>
<rect x="636" y="599" width="3" height="1" fill="#c0c0c0"/>
<rect x="642" y="599" width="3" height="1" fill="#c0c0c0"/>
<rect x="648" y="599" width="3" height="1" fill="#c0c0c0"/>
<rect x="654" y="599" width="3" height="1" fill="#c0c0c0"/>
<rect x="660" y="599" width="3" height="1" fill="#c0c0c0"/>
<rect x="666" y="599" width="3" height="1" fill="#c0c0c0"/>
<rect x="672" y="599" width="3" height="1" fill="#c0c0c0"/>
<rect x="678" y="599" width="3" height="1" fill="#c0c0c0"/>
<rect x="684" y="599" width="3" height="1" fill="#c0c0c0"/>
<rect x="690" y="599" width="3" height="1" fill="#c0c0c0"/>
<rect x="696" y="599" width="3" height="1" fill="#c0c0c0"/>
<rect x="702" y="599" width="3" height="1" fill="#c0c0c0"/>
<rect x="708" y="599" width="3" height="1" fill="#c0c0c0"/>
<rect x="714" y="599" width="3" height="1" fill="#c0c0c0"/>
<rect x="720" y="599" width="3" height="1" fill="#c0c0c0"/>
<rect x="726" y="599" width="3" height="1" fill="#c0c0c0"/>
<rect x="732" y="599" width="3" height="1" fill="#c0c0c0"/>
<rect x="738" y="599" width="3" height="1" fill="#c0c0c0"/>
<rect x="744" y="599" width="3" height="1" fill="#c0c0c0"/>
<rect x="750" y="599" width="3" height="1" fill="#c0c0c0"/>
<rect x="756" y="599" width="3" height="1" fill="#c0c0c0"/>
<rect x="762" y="599" width="3" height="1" fill="#c0c0c0"/>
<rect x="768" y="599" width="3" height="1" fill="#c0c0c0"/>
<rect x="774" y="599" width="3" height="1" fill="#c0c0c0"/>
<rect x="780" y="599" width="3" height="1" fill="#c0c0c0"/>
<rect x="786" y="599" width="3" height="1" fill="#c0c0c0"/>
<rect x="792" y="599" width="3" height="1" fill="#c0c0c0"/>
<rect x="798" y="599" width="3" height="1" fill="#c0c0c0"/>
<rect x="804" y="599" width="3" height="1" fill="#c0c0c0"/>
<rect x="810" y="599" width="3" height="1" fill="#c0c0c0"/>
<rect x="816" y="599" width="3" height="1" fill="#c0c0c0"/>
<rect x="822" y="599" width="3" height="1" fill="#c0c0c0"/>
<rect x="828" y="599" width="3" height="1" fill="#c0c0c0"/>
<rect x="834" y="599" width="3" height="1" fill="#c0c0c0"/>
<rect x="840" y="599" width="3" height="1" fill="#c0c0c0"/>
<rect x="846" y="599" width="3" height="1" fill="#c0c0c0"/>
<rect x="852" y="599" width="3" height="1" fill="#c0c0c0"/>
<rect x="858" y="599" width="3" height="1" fill="#c0c0c0"/>
<rect x="864" y="599" width="3" height="1" fill="#c0c0c0"/>
<rect x="870" y="599" width="3" height="1" fill="#c0c0c0"/>
<rect x="876" y="599" width="3" height="1" fill="#c0c0c0"/>
<rect x="882" y="599" width="3" height="1" fill="#c0c0c0"/>
<rect x="888" y="599" width="3" height="1" fill="#c0c0c0"/>
<rect x="894" y="599" width="3" height="1" fill="#c0c0c0"/>
<rect x="900" y="599" width="3" height="1" fill="#c0c0c0"/>
<rect x="906" y="599" width="3" height="1" fill="#c0c0c0"/>
<rect x="912" y="599" width="3" height="1" fill="#c0c0c0"/>
<rect x="918" y="599" width="3" height="1" fill="#c0c0c0"/>
<rect x="924" y="599" width="3" height="1" fill="#c0c0c0"/>
<rect x="930" y="599" width="3" height="1" fill="#c0c0c0"/>
<rect x="936" y="599" width="3" height="1" fill="#c0c0c0"/>
<rect x="942" y="599" width="3" height="1" fill="#c0c0c0"/>
<rect x="948" y="599" width="3" height="1" fill="#c0c0c0"/>
<rect x="954" y="599" width="3" height="1" fill="#c0c0c0"/>
<rect x="960" y="599" width="3" height="1" fill="#c0c0c0"/>
<rect x="966" y="599" width="3" height="1" fill="#c0c0c0"/>
<rect x="972" y="599" width="3" height="1" fill="#c0c0c0"/>
<rect x="978" y="599" width="3" height="1" fill="#c0c0c0"/>
<rect x="984" y="599" width="3" height="1" fill="#c0c0c0"/>
<rect x="990" y="599" width="3" height="1" fill="#c0c0c0"/>
<rect x="996" y="599" width="3" height="1" fill="#c0c0c0"/>
<rect x="1002" y="599" width="3" height="1" fill="#c0c0c0"/>
<rect x="1008" y="599" width="3" height="1" fill="#c0c0c0"/>
<rect x="1014" y="599" width="3" height="1" fill="#c0c0c0"/>
<rect x="1020" y="599" width="3" height="1" fill="#c0c0c0"/>
<rect x="1026" y="599" width="3" height="1" fill="#c0c0c0"/>
<rect x="1032" y="599" width="3" height="1" fill="#c0c0c0"/>
<rect x="1038" y="599" width="3" height="1" fill="#c0c0c0"/>
<rect x="1044" y="599" width="3" height="1" fill="#c0c0c0"/>
<rect x="1050" y="599" width="3" height="1" fill="#c0c0c0"/>
<rect x="1056" y="599" width="3" height="1" fill="#c0c0c0"/>
<rect x="1062" y="599" width="3" height="1" fill="#c0c0c0"/>
<rect x="1068" y="599" width="3" height="1" fill="#c0c0c0"/>
<rect x="1074" y="599" width="3" height="1" fill="#c0c0c0"/>
<rect x="1080" y="599" width="3" height="1" fill="#c0c0c0"/>
<rect x="1086" y="599" width="3" height="1" fill="#c0c0c0"/>
<rect x="1092" y="599" width="3" height="1" fill="#c0c0c0"/>
<rect x="1098" y="599" width="3" height="1" fill="#c0c0c0"/>
<rect x="1104" y="599" width="3" height="1" fill="#c0c0c0"/>
<rect x="1110" y="599" width="3" height="1" fill="#c0c0c0"/>
<rect x="1116" y="599" width="3" height="1" fill="#c0c0c0"/>
<rect x="1122" y="599" width="3" height="1" fill="#c0c0c0"/>
<rect x="1128" y="599" width="3" height="1" fill="#c0c0c0"/>
<rect x="1134" y="599" width="3" height="1" fill="#c0c0c0"/>
<rect x="1140" y="599" width="3" height="1" fill="#c0c0c0"/>
<rect x="1146" y="599" width="3" height="1" fill="#c0c0c0"/>
<rect x="1152" y="599" width="3" height="1" fill="#c0c0c0"/>
<rect x="1158" y="599" width="3" height="1" fill="#c0c0c0"/>
<rect x="1164" y="599" width="3" height="1" fill="#c0c0c0"/>
<rect x="6" y="633" width="3" height="1" fill="#c0c0c0"/>
<rect x="12" y="633" width="3" height="1" fill="#c0c0c0"/>
<rect x="18" y="633" width="3" height="1" fill="#c0c0c0"/>
<rect x="24" y="633" width="3" height="1" fill="#c0c0c0"/>
<rect x="30" y="633" width="3" height="1" fill="#c0c0c0"/>
<rect x="36" y="633" width="3" height="1" fill="#c0c0c0"/>
<rect x="42" y="633" width="3" height="1" fill="#c0c0c0"/>
<rect x="48" y="633" width="3" height="1" fill="#c0c0c0"/>
<rect x="54" y="633" width="3" height="1" fill="#c0c0c0"/>
<rect x="60" y="633" width="3" height="1" fill="#c0c0c0"/>
<rect x="66" y="633" width="3" height="1" fill="#c0c0c0"/>
<rect x="72" y="633" width="3" height="1" fill="#c0c0c0"/>
<rect x="78" y="633" width="3" height="1" fill="#c0c0c0"/>
<rect x="84" y="633" width="3" height="1" fill="#c0c0c0"/>
<rect x="90" y="633" width="3" height="1" fill="#c0c0c0"/>
<rect x="96" y="633" width="3" height="1" fill="#c0c0c0"/>
<rect x="102" y="633" width="3" height="1" fill="#c0c0c0"/>
<rect x="108" y="633" width="3" height="1" fill="#c0c0c0"/>
<rect x="114" y="633" width="3" height="1" fill="#c0c0c0"/>
<rect x="120" y="633" width="3" height="1" fill="#c0c0c0"/>
<rect x="126" y="633" width="3" height="1" fill="#c0c0c0"/>
<rect x="132" y="633" width="3" height="1" fill="#c0c0c0"/>
<rect x="138" y="633" width="3" height="1" fill="#c0c0c0"/>
<rect x="144" y="633" width="3" height="1" fill="#c0c0c0"/>
<rect x="150" y="633" width="3" height="1" fill="#c0c0c0"/>
<rect x="156" y="633" width="3" height="1" fill="#c0c0c0"/>
<rect x="162" y="633" width="3" height="1" fill="#c0c0c0"/>
<rect x="168" y="633" width="3" height="1" fill="#c0c0c0"/>
<rect x="174" y="633" width="3" height="1" fill="#c0c0c0"/>
<rect x="180" y="633" width="3" height="1" fill="#c0c0c0"/>
<rect x="186" y="633" width="3" height="1" fill="#c0c0c0"/>
<rect x="192" y="633" width="3" height="1" fill="#c0c0c0"/>
<rect x="198" y="633" width="3" height="1" fill="#c0c0c0"/>
<rect x="204" y="633" width="3" height="1" fill="#c0c0c0"/>
<rect x="210" y="633" width="3" height="1" fill="#c0c0c0"/>
<rect x="216" y="633" width="3" height="1" fill="#c0c0c0"/>
<rect x="222" y="633" width="3" height="1" fill="#c0c0c0"/>
<rect x="228" y="633" width="3" height="1" fill="#c0c0c0"/>
<rect x="234" y="633" width="3" height="1" fill="#c0c0c0"/>
<rect x="240" y="633" width="3" height="1" fill="#c0c0c0"/>
<rect x="246" y="633" width="3" height="1" fill="#c0c0c0"/>
<rect x="252" y="633" width="3" height="1" fill="#c0c0c0"/>
<rect x="258" y="633" width="3" height="1" fill="#c0c0c0"/>
<rect x="264" y="633" width="3" height="1" fill="#c0c0c0"/>
<rect x="270" y="633" width="3" height="1" fill="#c0c0c0"/>
<rect x="276" y="633" width="3" height="1" fill="#c0c0c0"/>
<rect x="282" y="633" width="3" height="1" fill="#c0c0c0"/>
<rect x="288" y="633" width="3" height="1" fill="#c0c0c0"/>
<rect x="294" y="633" width="3" height="1" fill="#c0c0c0"/>
<rect x="300" y="633" width="3" height="1" fill="#c0c0c0"/>
<rect x="306" y="633" width="3" height="1" fill="#c0c0c0"/>
<rect x="312" y="633" width="3" height="1" fill="#c0c0c0"/>
<rect x="318" y="633" width="3" height="1" fill="#c0c0c0"/>
<rect x="324" y="633" width="3" height="1" fill="#c0c0c0"/>
<rect x="330" y="633" width="3" height="1" fill="#c0c0c0"/>
<rect x="336" y="633" width="3" height="1" fill="#c0c0c0"/>
<rect x="342" y="633" width="3" height="1" fill="#c0c0c0"/>
<rect x="348" y="633" width="3" height="1" fill="#c0c0c0"/>
<rect x="354" y="633" width="3" height="1" fill="#c0c0c0"/>
<rect x="360" y="633" width="3" height="1" fill="#c0c0c0"/>
<rect x="366" y="633" width="3" height="1" fill="#c0c0c0"/>
<rect x="372" y="633" width="3" height="1" fill="#c0c0c0"/>
<rect x="378" y="633" width="3" height="1" fill="#c0c0c0"/>
<rect x="384" y="633" width="3" height="1" fill="#c0c0c0"/>
<rect x="390" y="633" width="3" height="1" fill="#c0c0c0"/>
<rect x="396" y="633" width="3" height="1" fill="#c0c0c0"/>
<rect x="402" y="633" width="3" height="1" fill="#c0c0c0"/>
<rect x="408" y="633" width="3" height="1" fill="#c0c0c0"/>
<rect x="414" y="633" width="3" height="1" fill="#c0c0c0"/>
<rect x="420" y="633" width="3" height="1" fill="#c0c0c0"/>
<rect x="426" y="633" width="3" height="1" fill="#c0c0c0"/>
<rect x="432" y="633" width="3" height="1" fill="#c0c0c0"/>
<rect x="438" y="633" width="3" height="1" fill="#c0c0c0"/>
<rect x="444" y="633" width="3" height="1" fill="#c0c0c0"/>
<rect x="450" y="633" width="3" height="1" fill="#c0c0c0"/>
<rect x="456" y="633" width="3" height="1" fill="#c0c0c0"/>
<rect x="462" y="633" width="3" height="1" fill="#c0c0c0"/>
<rect x="468" y="633" width="3" height="1" fill="#c0c0c0"/>
<rect x="474" y="633" width="3" height="1" fill="#c0c0c0"/>
<rect x="480" y="633" width="3" height="1" fill="#c0c0c0"/>
<rect x="486" y="633" width="3" height="1" fill="#c0c0c0"/>
<rect x="492" y="633" width="3" height="1" fill="#c0c0c0"/>
<rect x="498" y="633" width="3" height="1" fill="#c0c0c0"/>
<rect x="504" y="633" width="3" height="1" fill="#c0c0c0"/>
<rect x="510" y="633" width="3" height="1" fill="#c0c0c0"/>
<rect x="516" y="633" width="3" height="1" fill="#c0c0c0"/>
<rect x="522" y="633" width="3" height="1" fill="#c0c0c0"/>
<rect x="528" y="633" width="3" height="1" fill="#c0c0c0"/>
<rect x="534" y="633" width="3" height="1" fill="#c0c0c0"/>
<rect x="540" y="633" width="3" height="1" fill="#c0c0c0"/>
<rect x="546" y="633" width="3" height="1" fill="#c0c0c0"/>
<rect x="552" y="633" width="3" height="1" fill="#c0c0c0"/>
<rect x="558" y="633" width="3" height="1" fill="#c0c0c0"/>
<rect x="564" y="633" width="3" height="1" fill="#c0c0c0"/>
<rect x="570" y="633" width="3" height="1" fill="#c0c0c0"/>
<rect x="576" y="633" width="3" height="1" fill="#c0c0c0"/>
<rect x="582" y="633" width="3" height="1" fill="#c0c0c0"/>
<rect x="588" y="633" width="3" height="1" fill="#c0c0c0"/>
<rect x="594" y="633" width="3" height="1" fill="#c0c0c0"/>
<rect x="600" y="633" width="3" height="1" fill="#c0c0c0"/>
<rect x="606" y="633" width="3" height="1" fill="#c0c0c0"/>
<rect x="612" y="633" width="3" height="1" fill="#c0c0c0"/>
<rect x="618" y="633" width="3" height="1" fill="#c0c0c0"/>
<rect x="624" y="633" width="3" height="1" fill="#c0c0c0"/>
<rect x="630" y="633" width="3" height="1" fill="#c0c0c0"/>
<rect x="636" y="633" width="3" height="1" fill="#c0c0c0"/>
<rect x="642" y="633" width="3" height="1" fill="#c0c0c0"/>
<rect x="648" y="633" width="3" height="1" fill="#c0c0c0"/>
<rect x="654" y="633" width="3" height="1" fill="#c0c0c0"/>
<rect x="660" y="633" width="3" height="1" fill="#c0c0c0"/>
<rect x="666" y="633" width="3" height="1" fill="#c0c0c0"/>
<rect x="672" y="633" width="3" height="1" fill="#c0c0c0"/>
<rect x="678" y="633" width="3" height="1" fill="#c0c0c0"/>
<rect x="684" y="633" width="3" height="1" fill="#c0c0c0"/>
<rect x="690" y="633" width="3" height="1" fill="#c0c0c0"/>
<rect x="696" y="633" width="3" height="1" fill="#c0c0c0"/>
<rect x="702" y="633" width="3" height="1" fill="#c0c0c0"/>
<rect x="708" y="633" width="3" height="1" fill="#c0c0c0"/>
<rect x="714" y="633" width="3" height="1" fill="#c0c0c0"/>
<rect x="720" y="633" width="3" height="1" fill="#c0c0c0"/>
<rect x="726" y="633" width="3" height="1" fill="#c0c0c0"/>
<rect x="732" y="633" width="3" height="1" fill="#c0c0c0"/>
<rect x="738" y="633" width="3" height="1" fill="#c0c0c0"/>
<rect x="744" y="633" width="3" height="1" fill="#c0c0c0"/>
<rect x="750" y="633" width="3" height="1" fill="#c0c0c0"/>
<rect x="756" y="633" width="3" height="1" fill="#c0c0c0"/>
<rect x="762" y="633" width="3" height="1" fill="#c0c0c0"/>
<rect x="768" y="633" width="3" height="1" fill="#c0c0c0"/>
<rect x="774" y="633" width="3" height="1" fill="#c0c0c0"/>
<rect x="780" y="633" width="3" height="1" fill="#c0c0c0"/>
<rect x="786" y="633" width="3" height="1" fill="#c0c0c0"/>
<rect x="792" y="633" width="3" height="1" fill="#c0c0c0"/>
<rect x="798" y="633" width="3" height="1" fill="#c0c0c0"/>
<rect x="804" y="633" width="3" height="1" fill="#c0c0c0"/>
<rect x="810" y="633" width="3" height="1" fill="#c0c0c0"/>
<rect x="816" y="633" width="3" height="1" fill="#c0c0c0"/>
<rect x="822" y="633" width="3" height="1" fill="#c0c0c0"/>
<rect x="828" y="633" width="3" height="1" fill="#c0c0c0"/>
<rect x="834" y="633" width="3" height="1" fill="#c0c0c0"/>
<rect x="840" y="633" width="3" height="1" fill="#c0c0c0"/>
<rect x="846" y="633" width="3" height="1" fill="#c0c0c0"/>
<rect x="852" y="633" width="3" height="1" fill="#c0c0c0"/>
<rect x="858" y="633" width="3" height="1" fill="#c0c0c0"/>
<rect x="864" y="633" width="3" height="1" fill="#c0c0c0"/>
<rect x="870" y="633" width="3" height="1" fill="#c0c0c0"/>
<rect x="876" y="633" width="3" height="1" fill="#c0c0c0"/>
<rect x="882" y="633" width="3" height="1" fill="#c0c0c0"/>
<rect x="888" y="633" width="3" height="1" fill="#c0c0c0"/>
<rect x="894" y="633" width="3" height="1" fill="#c0c0c0"/>
<rect x="900" y="633" width="3" height="1" fill="#c0c0c0"/>
<rect x="906" y="633" width="3" height="1" fill="#c0c0c0"/>
<rect x="912" y="633" width="3" height="1" fill="#c0c0c0"/>
<rect x="918" y="633" width="3" height="1" fill="#c0c0c0"/>
<rect x="924" y="633" width="3" height="1" fill="#c0c0c0"/>
<rect x="930" y="633" width="3" height="1" fill="#c0c0c0"/>
<rect x="936" y="633" width="3" height="1" fill="#c0c0c0"/>
<rect x="942" y="633" width="3" height="1" fill="#c0c0c0"/>
<rect x="948" y="633" width="3" height="1" fill="#c0c0c0"/>
<rect x="954" y="633" width="3" height="1" fill="#c0c0c0"/>
<rect x="960" y="633" width="3" height="1" fill="#c0c0c0"/>
<rect x="966" y="633" width="3" height="1" fill="#c0c0c0"/>
<rect x="972" y="633" width="3" height="1" fill="#c0c0c0"/>
<rect x="978" y="633" width="3" height="1" fill="#c0c0c0"/>
<rect x="984" y="633" width="3" height="1" fill="#c0c0c0"/>
<rect x="990" y="633" width="3" height="1" fill="#c0c0c0"/>
<rect x="996" y="633" width="3" height="1" fill="#c0c0c0"/>
<rect x="1002" y="633" width="3" height="1" fill="#c0c0c0"/>
<rect x="1008" y="633" width="3" height="1" fill="#c0c0c0"/>
<rect x="1014" y="633" width="3" height="1" fill="#c0c0c0"/>
<rect x="1020" y="633" width="3" height="1" fill="#c0c0c0"/>
<rect x="1026" y="633" width="3" height="1" fill="#c0c0c0"/>
<rect x="1032" y="633" width="3" height="1" fill="#c0c0c0"/>
<rect x="1038" y="633" width="3" height="1" fill="#c0c0c0"/>
<rect x="1044" y="633" width="3" height="1" fill="#c0c0c0"/>
<rect x="1050" y="633" width="3" height="1" fill="#c0c0c0"/>
<rect x="1056" y="633" width="3" height="1" fill="#c0c0c0"/>
<rect x="1062" y="633" width="3" height="1" fill="#c0c0c0"/>
<rect x="1068" y="633" width="3" height="1" fill="#c0c0c0"/>
<rect x="1074" y="633" width="3" height="1" fill="#c0c0c0"/>
<rect x="1080" y="633" width="3" height="1" fill="#c0c0c0"/>
<rect x="1086" y="633" width="3" height="1" fill="#c0c0c0"/>
<rect x="1092" y="633" width="3" height="1" fill="#c0c0c0"/>
<rect x="1098" y="633" width="3" height="1" fill="#c0c0c0"/>
<rect x="1104" y="633" width="3" height="1" fill="#c0c0c0"/>
<rect x="1110" y="633" width="3" height="1" fill="#c0c0c0"/>
<rect x="1116" y="633" width="3" height="1" fill="#c0c0c0"/>
<rect x="1122" y="633" width="3" height="1" fill="#c0c0c0"/>
<rect x="1128" y="633" width="3" height="1" fill="#c0c0c0"/>
<rect x="1134" y="633" width="3" height="1" fill="#c0c0c0"/>
<rect x="1140" y="633" width="3" height="1" fill="#c0c0c0"/>
<rect x="1146" y="633" width="3" height="1" fill="#c0c0c0"/>
<rect x="1152" y="633" width="3" height="1" fill="#c0c0c0"/>
<rect x="1158" y="633" width="3" height="1" fill="#c0c0c0"/>
<rect x="1164" y="633" width="3" height="1" fill="#c0c0c0"/>
</g>
<path clip-path="url(#rsiclip)" d="M96 592h1v1h-1zM94 593h2v1h-2zM97 593h2v1h-2zM93 594h1v1h-1zM99 594h6v1h-6zM91 595h2v1h-2zM104 595h1v1h-1zM328 595h1v1h-1zM89 596h2v1h-2zM105 596h1v1h-1zM326 596h3v1h-3zM74 597h15v1h-15zM105 597h1v1h-1zM139 597h2v1h-2zM156 597h1v1h-1zM325 597h1v1h-1zM328 597h1v1h-1zM72 598h2v1h-2zM106 598h1v1h-1zM137 598h2v1h-2zM141 598h1v1h-1zM154 598h2v1h-2zM157 598h1v1h-1zM163 598h2v1h-2zM318 598h7v1h-7zM329 598h1v1h-1zM71 599h1v1h-1zM106 599h1v1h-1zM136 599h1v1h-1zM142 599h1v1h-1zM153 599h1v1h-1zM158 599h2v1h-2zM161 599h2v1h-2zM165 599h1v1h-1zM315 599h3v1h-3zM329 599h1v1h-1zM48 600h1v1h-1zM70 600h1v1h-1zM106 600h1v1h-1zM135 600h1v1h-1zM143 600h1v1h-1zM152 600h1v1h-1zM160 600h1v1h-1zM166 600h1v1h-1zM313 600h2v1h-2zM329 600h1v1h-1zM47 601h1v1h-1zM49 601h1v1h-1zM58 601h3v1h-3zM69 601h1v1h-1zM107 601h1v1h-1zM134 601h1v1h-1zM144 601h1v1h-1zM150 601h2v1h-2zM166 601h1v1h-1zM308 601h5v1h-5zM329 601h1v1h-1zM28 602h2v1h-2zM47 602h1v1h-1zM50 602h2v1h-2zM54 602h4v1h-4zM61 602h1v1h-1zM68 602h1v1h-1zM107 602h1v1h-1zM134 602h1v1h-1zM145 602h2v1h-2zM149 602h1v1h-1zM167 602h1v1h-1zM308 602h1v1h-1zM329 602h1v1h-1zM26 603h2v1h-2zM30 603h3v1h-3zM46 603h1v1h-1zM52 603h2v1h-2zM61 603h1v1h-1zM67 603h1v1h-1zM108 603h1v1h-1zM119 603h3v1h-3zM133 603h1v1h-1zM147 603h2v1h-2zM168 603h1v1h-1zM307 603h1v1h-1zM329 603h1v1h-1zM25 604h1v1h-1zM33 604h1v1h-1zM45 604h1v1h-1zM62 604h1v1h-1zM66 604h1v1h-1zM108 604h1v1h-1zM117 604h2v1h-2zM122 604h3v1h-3zM132 604h1v1h-1zM169 604h1v1h-1zM183 604h2v1h-2zM307 604h1v1h-1zM330 604h1v1h-1zM532 604h1v1h-1zM572 604h1v1h-1zM579 604h2v1h-2zM22 605h3v1h-3zM34 605h1v1h-1zM45 605h1v1h-1zM63 605h1v1h-1zM66 605h1v1h-1zM109 605h1v1h-1zM116 605h1v1h-1zM125 605h1v1h-1zM131 605h1v1h-1zM169 605h1v1h-1zM181 605h2v1h-2zM185 605h1v1h-1zM292 605h1v1h-1zM307 605h1v1h-1zM330 605h1v1h-1zM531 605h1v1h-1zM533 605h1v1h-1zM572 605h3v1h-3zM577 605h2v1h-2zM581 605h1v1h-1zM18 606h4v1h-4zM35 606h1v1h-1zM44 606h1v1h-1zM63 606h1v1h-1zM65 606h1v1h-1zM109 606h1v1h-1zM115 606h1v1h-1zM126 606h1v1h-1zM130 606h1v1h-1zM170 606h1v1h-1zM178 606h3v1h-3zM185 606h1v1h-1zM290 606h2v1h-2zM293 606h2v1h-2zM306 606h1v1h-1zM330 606h1v1h-1zM530 606h1v1h-1zM534 606h1v1h-1zM571 606h1v1h-1zM575 606h2v1h-2zM582 606h1v1h-1zM4 607h1v1h-1zM16 607h2v1h-2zM36 607h1v1h-1zM42 607h2v1h-2zM64 607h1v1h-1zM110 607h1v1h-1zM114 607h1v1h-1zM127 607h1v1h-1zM129 607h1v1h-1zM170 607h1v1h-1zM176 607h2v1h-2zM186 607h1v1h-1zM206 607h3v1h-3zM280 607h1v1h-1zM289 607h1v1h-1zM295 607h2v1h-2zM306 607h1v1h-1zM330 607h1v1h-1zM495 607h2v1h-2zM507 607h2v1h-2zM529 607h1v1h-1zM535 607h1v1h-1zM571 607h1v1h-1zM583 607h1v1h-1zM5 608h2v1h-2zM15 608h1v1h-1zM37 608h2v1h-2zM41 608h1v1h-1zM111 608h1v1h-1zM114 608h1v1h-1zM128 608h1v1h-1zM171 608h1v1h-1zM174 608h2v1h-2zM186 608h1v1h-1zM204 608h2v1h-2zM209 608h1v1h-1zM278 608h2v1h-2zM281 608h2v1h-2zM286 608h3v1h-3zM297 608h1v1h-1zM305 608h1v1h-1zM330 608h1v1h-1zM493 608h2v1h-2zM497 608h2v1h-2zM505 608h2v1h-2zM509 608h2v1h-2zM514 608h3v1h-3zM528 608h1v1h-1zM536 608h2v1h-2zM570 608h1v1h-1zM584 608h1v1h-1zM7 609h2v1h-2zM15 609h1v1h-1zM39 609h2v1h-2zM111 609h1v1h-1zM113 609h1v1h-1zM171 609h1v1h-1zM173 609h1v1h-1zM187 609h1v1h-1zM203 609h1v1h-1zM210 609h1v1h-1zM277 609h1v1h-1zM283 609h3v1h-3zM297 609h1v1h-1zM305 609h1v1h-1zM330 609h1v1h-1zM492 609h1v1h-1zM499 609h6v1h-6zM511 609h3v1h-3zM517 609h1v1h-1zM526 609h2v1h-2zM538 609h3v1h-3zM570 609h1v1h-1zM584 609h1v1h-1zM9 610h1v1h-1zM14 610h1v1h-1zM112 610h1v1h-1zM172 610h1v1h-1zM187 610h1v1h-1zM202 610h1v1h-1zM210 610h1v1h-1zM224 610h1v1h-1zM271 610h6v1h-6zM298 610h1v1h-1zM305 610h1v1h-1zM331 610h1v1h-1zM492 610h1v1h-1zM518 610h2v1h-2zM525 610h1v1h-1zM541 610h2v1h-2zM569 610h1v1h-1zM585 610h1v1h-1zM10 611h1v1h-1zM14 611h1v1h-1zM188 611h1v1h-1zM190 611h3v1h-3zM201 611h1v1h-1zM211 611h1v1h-1zM223 611h1v1h-1zM225 611h1v1h-1zM269 611h2v1h-2zM299 611h1v1h-1zM304 611h1v1h-1zM331 611h1v1h-1zM491 611h1v1h-1zM520 611h5v1h-5zM543 611h2v1h-2zM569 611h1v1h-1zM585 611h1v1h-1zM10 612h1v1h-1zM13 612h1v1h-1zM188 612h2v1h-2zM193 612h1v1h-1zM199 612h2v1h-2zM212 612h5v1h-5zM222 612h1v1h-1zM225 612h1v1h-1zM268 612h1v1h-1zM299 612h1v1h-1zM302 612h3v1h-3zM331 612h1v1h-1zM491 612h1v1h-1zM545 612h1v1h-1zM556 612h1v1h-1zM566 612h3v1h-3zM586 612h1v1h-1zM11 613h1v1h-1zM13 613h1v1h-1zM194 613h2v1h-2zM197 613h2v1h-2zM217 613h2v1h-2zM221 613h1v1h-1zM226 613h1v1h-1zM267 613h1v1h-1zM300 613h2v1h-2zM331 613h1v1h-1zM343 613h2v1h-2zM400 613h1v1h-1zM491 613h1v1h-1zM545 613h1v1h-1zM555 613h1v1h-1zM557 613h1v1h-1zM564 613h2v1h-2zM586 613h1v1h-1zM12 614h1v1h-1zM196 614h1v1h-1zM219 614h2v1h-2zM227 614h1v1h-1zM266 614h1v1h-1zM331 614h1v1h-1zM341 614h2v1h-2zM345 614h2v1h-2zM350 614h3v1h-3zM399 614h1v1h-1zM401 614h1v1h-1zM490 614h1v1h-1zM546 614h1v1h-1zM555 614h1v1h-1zM557 614h1v1h-1zM563 614h1v1h-1zM586 614h1v1h-1zM596 614h5v1h-5zM607 614h2v1h-2zM656 614h1v1h-1zM675 614h2v1h-2zM227 615h1v1h-1zM265 615h1v1h-1zM331 615h1v1h-1zM340 615h1v1h-1zM347 615h3v1h-3zM352 615h1v1h-1zM376 615h1v1h-1zM399 615h1v1h-1zM402 615h1v1h-1zM490 615h1v1h-1zM547 615h1v1h-1zM554 615h1v1h-1zM558 615h1v1h-1zM563 615h1v1h-1zM587 615h1v1h-1zM595 615h1v1h-1zM601 615h2v1h-2zM605 615h2v1h-2zM609 615h1v1h-1zM615 615h2v1h-2zM654 615h2v1h-2zM657 615h2v1h-2zM673 615h2v1h-2zM677 615h1v1h-1zM688 615h1v1h-1zM228 616h1v1h-1zM262 616h3v1h-3zM332 616h1v1h-1zM339 616h1v1h-1zM353 616h1v1h-1zM375 616h1v1h-1zM377 616h2v1h-2zM382 616h3v1h-3zM398 616h1v1h-1zM403 616h1v1h-1zM406 616h7v1h-7zM489 616h1v1h-1zM547 616h1v1h-1zM554 616h1v1h-1zM558 616h1v1h-1zM562 616h1v1h-1zM587 616h1v1h-1zM594 616h1v1h-1zM603 616h2v1h-2zM610 616h2v1h-2zM613 616h2v1h-2zM617 616h1v1h-1zM653 616h1v1h-1zM659 616h2v1h-2zM668 616h5v1h-5zM678 616h2v1h-2zM686 616h2v1h-2zM689 616h1v1h-1zM229 617h2v1h-2zM260 617h2v1h-2zM332 617h1v1h-1zM339 617h1v1h-1zM353 617h1v1h-1zM374 617h1v1h-1zM379 617h3v1h-3zM385 617h2v1h-2zM390 617h3v1h-3zM398 617h1v1h-1zM404 617h2v1h-2zM413 617h1v1h-1zM489 617h1v1h-1zM548 617h1v1h-1zM553 617h1v1h-1zM559 617h1v1h-1zM562 617h1v1h-1zM588 617h1v1h-1zM594 617h1v1h-1zM612 617h1v1h-1zM618 617h1v1h-1zM652 617h1v1h-1zM660 617h1v1h-1zM668 617h1v1h-1zM680 617h2v1h-2zM685 617h1v1h-1zM689 617h1v1h-1zM880 617h1v1h-1zM231 618h6v1h-6zM259 618h1v1h-1zM332 618h1v1h-1zM338 618h1v1h-1zM354 618h1v1h-1zM373 618h1v1h-1zM387 618h3v1h-3zM393 618h1v1h-1zM397 618h1v1h-1zM413 618h1v1h-1zM460 618h5v1h-5zM489 618h1v1h-1zM549 618h2v1h-2zM553 618h1v1h-1zM559 618h1v1h-1zM561 618h1v1h-1zM588 618h2v1h-2zM593 618h1v1h-1zM619 618h1v1h-1zM626 618h12v1h-12zM651 618h1v1h-1zM661 618h1v1h-1zM667 618h1v1h-1zM682 618h3v1h-3zM690 618h1v1h-1zM699 618h2v1h-2zM708 618h1v1h-1zM879 618h1v1h-1zM881 618h1v1h-1zM908 618h2v1h-2zM237 619h1v1h-1zM259 619h1v1h-1zM332 619h1v1h-1zM337 619h1v1h-1zM354 619h1v1h-1zM371 619h2v1h-2zM394 619h2v1h-2zM397 619h1v1h-1zM414 619h1v1h-1zM459 619h1v1h-1zM465 619h1v1h-1zM488 619h1v1h-1zM551 619h2v1h-2zM560 619h2v1h-2zM590 619h3v1h-3zM620 619h6v1h-6zM638 619h3v1h-3zM650 619h1v1h-1zM661 619h1v1h-1zM667 619h1v1h-1zM691 619h1v1h-1zM697 619h2v1h-2zM701 619h1v1h-1zM707 619h2v1h-2zM878 619h1v1h-1zM881 619h1v1h-1zM907 619h1v1h-1zM910 619h3v1h-3zM238 620h2v1h-2zM258 620h1v1h-1zM333 620h2v1h-2zM337 620h1v1h-1zM354 620h1v1h-1zM369 620h2v1h-2zM396 620h1v1h-1zM415 620h1v1h-1zM459 620h1v1h-1zM466 620h2v1h-2zM470 620h8v1h-8zM487 620h2v1h-2zM560 620h1v1h-1zM641 620h1v1h-1zM649 620h1v1h-1zM661 620h1v1h-1zM667 620h1v1h-1zM691 620h1v1h-1zM694 620h3v1h-3zM702 620h1v1h-1zM706 620h1v1h-1zM709 620h1v1h-1zM872 620h2v1h-2zM877 620h1v1h-1zM882 620h1v1h-1zM900 620h1v1h-1zM906 620h1v1h-1zM913 620h1v1h-1zM240 621h1v1h-1zM257 621h1v1h-1zM335 621h2v1h-2zM355 621h1v1h-1zM367 621h2v1h-2zM415 621h1v1h-1zM458 621h1v1h-1zM468 621h2v1h-2zM478 621h4v1h-4zM485 621h2v1h-2zM642 621h2v1h-2zM646 621h3v1h-3zM662 621h1v1h-1zM666 621h1v1h-1zM692 621h2v1h-2zM702 621h1v1h-1zM706 621h1v1h-1zM709 621h1v1h-1zM856 621h1v1h-1zM871 621h1v1h-1zM874 621h3v1h-3zM883 621h1v1h-1zM899 621h1v1h-1zM901 621h1v1h-1zM906 621h1v1h-1zM914 621h1v1h-1zM241 622h2v1h-2zM252 622h2v1h-2zM257 622h1v1h-1zM355 622h1v1h-1zM359 622h3v1h-3zM365 622h2v1h-2zM416 622h1v1h-1zM435 622h2v1h-2zM458 622h1v1h-1zM482 622h3v1h-3zM644 622h2v1h-2zM662 622h1v1h-1zM666 622h1v1h-1zM703 622h1v1h-1zM705 622h1v1h-1zM709 622h1v1h-1zM739 622h3v1h-3zM856 622h2v1h-2zM870 622h1v1h-1zM883 622h1v1h-1zM898 622h1v1h-1zM902 622h2v1h-2zM905 622h1v1h-1zM915 622h1v1h-1zM243 623h2v1h-2zM251 623h1v1h-1zM254 623h3v1h-3zM356 623h3v1h-3zM362 623h3v1h-3zM417 623h1v1h-1zM433 623h2v1h-2zM437 623h2v1h-2zM450 623h3v1h-3zM457 623h1v1h-1zM663 623h1v1h-1zM665 623h1v1h-1zM704 623h1v1h-1zM710 623h1v1h-1zM732 623h2v1h-2zM737 623h2v1h-2zM742 623h7v1h-7zM768 623h5v1h-5zM855 623h1v1h-1zM858 623h1v1h-1zM869 623h1v1h-1zM884 623h5v1h-5zM897 623h1v1h-1zM904 623h1v1h-1zM916 623h1v1h-1zM245 624h1v1h-1zM250 624h1v1h-1zM356 624h1v1h-1zM418 624h1v1h-1zM428 624h5v1h-5zM439 624h11v1h-11zM453 624h2v1h-2zM457 624h1v1h-1zM663 624h1v1h-1zM665 624h1v1h-1zM710 624h1v1h-1zM731 624h1v1h-1zM734 624h3v1h-3zM749 624h1v1h-1zM767 624h1v1h-1zM773 624h1v1h-1zM790 624h7v1h-7zM855 624h1v1h-1zM858 624h1v1h-1zM868 624h1v1h-1zM889 624h2v1h-2zM894 624h3v1h-3zM917 624h1v1h-1zM246 625h1v1h-1zM250 625h1v1h-1zM419 625h1v1h-1zM427 625h1v1h-1zM455 625h2v1h-2zM663 625h1v1h-1zM665 625h1v1h-1zM710 625h1v1h-1zM731 625h1v1h-1zM750 625h1v1h-1zM766 625h1v1h-1zM774 625h2v1h-2zM788 625h2v1h-2zM797 625h2v1h-2zM854 625h1v1h-1zM859 625h1v1h-1zM867 625h1v1h-1zM891 625h3v1h-3zM917 625h1v1h-1zM247 626h1v1h-1zM249 626h1v1h-1zM420 626h1v1h-1zM426 626h1v1h-1zM664 626h1v1h-1zM711 626h1v1h-1zM730 626h1v1h-1zM750 626h1v1h-1zM765 626h1v1h-1zM776 626h2v1h-2zM787 626h1v1h-1zM799 626h6v1h-6zM844 626h1v1h-1zM854 626h1v1h-1zM860 626h1v1h-1zM866 626h1v1h-1zM918 626h1v1h-1zM248 627h1v1h-1zM421 627h1v1h-1zM426 627h1v1h-1zM664 627h1v1h-1zM711 627h1v1h-1zM730 627h1v1h-1zM751 627h1v1h-1zM764 627h1v1h-1zM778 627h3v1h-3zM787 627h1v1h-1zM805 627h1v1h-1zM843 627h1v1h-1zM845 627h2v1h-2zM853 627h1v1h-1zM861 627h2v1h-2zM865 627h1v1h-1zM918 627h1v1h-1zM422 628h2v1h-2zM425 628h1v1h-1zM711 628h1v1h-1zM729 628h1v1h-1zM752 628h2v1h-2zM763 628h1v1h-1zM781 628h1v1h-1zM786 628h1v1h-1zM806 628h2v1h-2zM842 628h1v1h-1zM847 628h2v1h-2zM853 628h1v1h-1zM863 628h2v1h-2zM919 628h1v1h-1zM424 629h1v1h-1zM712 629h1v1h-1zM729 629h1v1h-1zM754 629h3v1h-3zM762 629h1v1h-1zM782 629h1v1h-1zM785 629h1v1h-1zM808 629h1v1h-1zM841 629h1v1h-1zM849 629h2v1h-2zM852 629h1v1h-1zM919 629h1v1h-1zM712 630h1v1h-1zM724 630h5v1h-5zM757 630h2v1h-2zM761 630h1v1h-1zM783 630h1v1h-1zM785 630h1v1h-1zM809 630h2v1h-2zM831 630h3v1h-3zM838 630h3v1h-3zM851 630h2v1h-2zM920 630h1v1h-1zM922 630h3v1h-3zM713 631h1v1h-1zM722 631h2v1h-2zM759 631h2v1h-2zM784 631h1v1h-1zM811 631h3v1h-3zM829 631h2v1h-2zM834 631h4v1h-4zM920 631h2v1h-2zM714 632h2v1h-2zM721 632h1v1h-1zM814 632h3v1h-3zM828 632h1v1h-1zM716 633h5v1h-5zM817 633h1v1h-1zM827 633h1v1h-1zM818 634h1v1h-1zM826 634h1v1h-1zM819 635h1v1h-1zM826 635h1v1h-1zM820 636h2v1h-2zM825 636h1v1h-1zM822 637h3v1h-3z" fill="#1e90ff" shape-rendering="crispEdges"/>
<path d="M7,35 L10.5,31 L14,35 Z" fill="#000"/>
<text x="20" y="35.6" font-size="10.2" fill="#000" textLength="65.2" lengthAdjust="spacingAndGlyphs">AUDUSD,Daily</text>
<text x="91" y="35.6" font-size="10.2" fill="#000" textLength="141.5" lengthAdjust="spacingAndGlyphs">0.72520 0.72578 0.72416 0.72565</text>
<text x="8" y="498.9" font-size="10.2" fill="#000" textLength="154.8" lengthAdjust="spacingAndGlyphs">MACD(12,26,9) -0.003368 -0.002715</text>
<text x="8" y="585.3" font-size="10.2" fill="#000" textLength="68.6" lengthAdjust="spacingAndGlyphs">RSI(14) 33.6386</text>
<rect x="1167" y="52" width="2" height="1" fill="#000"/>
<text x="1172" y="55.8" font-size="10.3" fill="#000" textLength="33.2" lengthAdjust="spacingAndGlyphs">0.79975</text>
<rect x="1167" y="85" width="2" height="1" fill="#000"/>
<text x="1172" y="88.6" font-size="10.3" fill="#000" textLength="33.2" lengthAdjust="spacingAndGlyphs">0.79375</text>
<rect x="1167" y="118" width="2" height="1" fill="#000"/>
<text x="1172" y="121.3" font-size="10.3" fill="#000" textLength="33.2" lengthAdjust="spacingAndGlyphs">0.78790</text>
<rect x="1167" y="151" width="2" height="1" fill="#000"/>
<text x="1172" y="154.3" font-size="10.3" fill="#000" textLength="33.2" lengthAdjust="spacingAndGlyphs">0.78190</text>
<rect x="1167" y="184" width="2" height="1" fill="#000"/>
<text x="1172" y="187.8" font-size="10.3" fill="#000" textLength="33.2" lengthAdjust="spacingAndGlyphs">0.77605</text>
<rect x="1167" y="217" width="2" height="1" fill="#000"/>
<text x="1172" y="220.10000000000002" font-size="10.3" fill="#000" textLength="33.2" lengthAdjust="spacingAndGlyphs">0.77005</text>
<rect x="1167" y="250" width="2" height="1" fill="#000"/>
<text x="1172" y="253.5" font-size="10.3" fill="#000" textLength="33.2" lengthAdjust="spacingAndGlyphs">0.76420</text>
<rect x="1167" y="283" width="2" height="1" fill="#000"/>
<text x="1172" y="286.5" font-size="10.3" fill="#000" textLength="33.2" lengthAdjust="spacingAndGlyphs">0.75830</text>
<rect x="1167" y="316" width="2" height="1" fill="#000"/>
<text x="1172" y="319.3" font-size="10.3" fill="#000" textLength="33.2" lengthAdjust="spacingAndGlyphs">0.75235</text>
<rect x="1167" y="350" width="2" height="1" fill="#000"/>
<text x="1172" y="352.90000000000003" font-size="10.3" fill="#000" textLength="33.2" lengthAdjust="spacingAndGlyphs">0.74635</text>
<rect x="1167" y="415" width="2" height="1" fill="#000"/>
<text x="1172" y="418.3" font-size="10.3" fill="#000" textLength="33.2" lengthAdjust="spacingAndGlyphs">0.73450</text>
<rect x="1167" y="448" width="2" height="1" fill="#000"/>
<text x="1172" y="451.6" font-size="10.3" fill="#000" textLength="33.2" lengthAdjust="spacingAndGlyphs">0.72850</text>
<rect x="1167" y="482" width="2" height="1" fill="#000"/>
<text x="1172" y="485.0" font-size="10.3" fill="#000" textLength="33.2" lengthAdjust="spacingAndGlyphs">0.72265</text>
<rect x="1168" y="200" width="39" height="11" fill="#ff0000"/>
<text x="1172" y="208.8" font-size="10.3" fill="#fff" textLength="33.2" lengthAdjust="spacingAndGlyphs">0.77200</text>
<rect x="1168" y="283" width="39" height="11" fill="#ff0000"/>
<text x="1172" y="291.8" font-size="10.3" fill="#fff" textLength="33.2" lengthAdjust="spacingAndGlyphs">0.75716</text>
<rect x="1168" y="378" width="39" height="11" fill="#00ff00"/>
<text x="1172" y="386.8" font-size="10.3" fill="#fff" textLength="33.2" lengthAdjust="spacingAndGlyphs">0.74007</text>
<rect x="1168" y="459" width="39" height="8" fill="#000000"/>
<text x="1172" y="467.5" font-size="10.3" fill="#fff" textLength="33.2" lengthAdjust="spacingAndGlyphs">0.72565</text>
<rect x="1168" y="467" width="39" height="11" fill="#0000ff"/>
<text x="1172" y="475.8" font-size="10.3" fill="#fff" textLength="33.2" lengthAdjust="spacingAndGlyphs">0.72411</text>
<rect x="1167" y="489" width="3" height="1" fill="#000"/>
<text x="1170" y="497.2" font-size="10.3" fill="#000" textLength="37" lengthAdjust="spacingAndGlyphs">0.008903</text>
<rect x="1167" y="533" width="3" height="1" fill="#000"/>
<text x="1170" y="537" font-size="10.3" fill="#000" textLength="18.5" lengthAdjust="spacingAndGlyphs">0.00</text>
<rect x="1167" y="569" width="3" height="1" fill="#000"/>
<text x="1169.5" y="568" font-size="10.3" fill="#000" textLength="38" lengthAdjust="spacingAndGlyphs">-0.00697</text>
<text x="1171" y="582.8" font-size="10.3" fill="#000" textLength="14.5" lengthAdjust="spacingAndGlyphs">100</text>
<text x="1171" y="603" font-size="10.3" fill="#000" textLength="10" lengthAdjust="spacingAndGlyphs">70</text>
<text x="1171" y="636.8" font-size="10.3" fill="#000" textLength="10" lengthAdjust="spacingAndGlyphs">30</text>
<text x="1171" y="656" font-size="10.3" fill="#000" textLength="5.2" lengthAdjust="spacingAndGlyphs">0</text>
<rect x="1167" y="573" width="3" height="1" fill="#000"/>
<rect x="1167" y="658" width="3" height="1" fill="#000"/>
<rect x="4" y="659" width="1" height="4" fill="#000"/>
<text x="2.8" y="671.9" font-size="10.1" fill="#000" textLength="54.5" lengthAdjust="spacingAndGlyphs">20 Nov 2020</text>
<rect x="68" y="659" width="1" height="4" fill="#000"/>
<text x="66.8" y="671.9" font-size="10.1" fill="#000" textLength="47.199999999999996" lengthAdjust="spacingAndGlyphs">9 Dec 2020</text>
<rect x="132" y="659" width="1" height="4" fill="#000"/>
<text x="130.8" y="671.9" font-size="10.1" fill="#000" textLength="52.599999999999994" lengthAdjust="spacingAndGlyphs">29 Dec 2020</text>
<rect x="196" y="659" width="1" height="4" fill="#000"/>
<text x="194.8" y="671.9" font-size="10.1" fill="#000" textLength="50.0" lengthAdjust="spacingAndGlyphs">18 Jan 2021</text>
<rect x="260" y="659" width="1" height="4" fill="#000"/>
<text x="258.8" y="671.9" font-size="10.1" fill="#000" textLength="47.199999999999996" lengthAdjust="spacingAndGlyphs">5 Feb 2021</text>
<rect x="324" y="659" width="1" height="4" fill="#000"/>
<text x="322.8" y="671.9" font-size="10.1" fill="#000" textLength="52.0" lengthAdjust="spacingAndGlyphs">24 Feb 2021</text>
<rect x="388" y="659" width="1" height="4" fill="#000"/>
<text x="386.8" y="671.9" font-size="10.1" fill="#000" textLength="52.099999999999994" lengthAdjust="spacingAndGlyphs">15 Mar 2021</text>
<rect x="452" y="659" width="1" height="4" fill="#000"/>
<text x="450.8" y="671.9" font-size="10.1" fill="#000" textLength="45.5" lengthAdjust="spacingAndGlyphs">2 Apr 2021</text>
<rect x="516" y="659" width="1" height="4" fill="#000"/>
<text x="514.8" y="671.9" font-size="10.1" fill="#000" textLength="49.699999999999996" lengthAdjust="spacingAndGlyphs">21 Apr 2021</text>
<rect x="580" y="659" width="1" height="4" fill="#000"/>
<text x="578.8" y="671.9" font-size="10.1" fill="#000" textLength="54.4" lengthAdjust="spacingAndGlyphs">10 May 2021</text>
<rect x="644" y="659" width="1" height="4" fill="#000"/>
<text x="642.8" y="671.9" font-size="10.1" fill="#000" textLength="55.3" lengthAdjust="spacingAndGlyphs">28 May 2021</text>
<rect x="708" y="659" width="1" height="4" fill="#000"/>
<text x="706.8" y="671.9" font-size="10.1" fill="#000" textLength="49.699999999999996" lengthAdjust="spacingAndGlyphs">16 Jun 2021</text>
<rect x="772" y="659" width="1" height="4" fill="#000"/>
<text x="770.8" y="671.9" font-size="10.1" fill="#000" textLength="41.8" lengthAdjust="spacingAndGlyphs">5 Jul 2021</text>
<rect x="836" y="659" width="1" height="4" fill="#000"/>
<text x="834.8" y="671.9" font-size="10.1" fill="#000" textLength="47.4" lengthAdjust="spacingAndGlyphs">23 Jul 2021</text>
<rect x="900" y="659" width="1" height="4" fill="#000"/>
<text x="898.8" y="671.9" font-size="10.1" fill="#000" textLength="54.099999999999994" lengthAdjust="spacingAndGlyphs">11 Aug 2021</text>
<rect x="1" y="679" width="1207" height="1" fill="#f4f4f4"/>
<rect x="1" y="680" width="1207" height="1" fill="#dcdcdc"/>
<rect x="1" y="681" width="1207" height="1" fill="#a0a0a0"/>
<rect x="0" y="682" width="1207" height="1" fill="#000"/>
<rect x="0" y="683" width="1207" height="19" fill="#f0f0f0"/>
<rect x="0" y="702" width="1207" height="1" fill="#ffffff"/>
<rect x="0" y="703" width="1207" height="3" fill="#f0f0f0"/>
<rect x="0" y="682" width="1" height="19" fill="#808080"/>
<rect x="97" y="682" width="104" height="19" fill="#fff"/>
<path d="M97.5,682 V700.5 H200.5 V682" fill="none" stroke="#000" stroke-width="1"/>
<text x="108" y="697" font-size="12" fill="#000" textLength="82.8" lengthAdjust="spacingAndGlyphs">AUDUSD,Daily</text>
<text x="17.5" y="697" font-size="12" fill="#757068" textLength="68.3" lengthAdjust="spacingAndGlyphs">EURUSD,H4</text>
<text x="211" y="697" font-size="12" fill="#757068" textLength="67.39999999999999" lengthAdjust="spacingAndGlyphs">USDCHF,H4</text>
<text x="300.4" y="697" font-size="12" fill="#757068" textLength="81.39999999999999" lengthAdjust="spacingAndGlyphs">USDCAD,Daily</text>
<text x="403.3" y="697" font-size="12" fill="#757068" textLength="83.0" lengthAdjust="spacingAndGlyphs">USDCNH,Daily</text>
<text x="509.3" y="697" font-size="12" fill="#757068" textLength="51.699999999999996" lengthAdjust="spacingAndGlyphs">UKOil,H1</text>
<text x="583.6" y="697" font-size="12" fill="#757068" textLength="46.8" lengthAdjust="spacingAndGlyphs">DJ30,H1</text>
<text x="652.8" y="697" font-size="12" fill="#757068" textLength="52.8" lengthAdjust="spacingAndGlyphs">USDX,H1</text>
<text x="727.6" y="697" font-size="12" fill="#757068" textLength="69.7" lengthAdjust="spacingAndGlyphs">XAUUSD,H1</text>
<text x="821" y="697" font-size="12" fill="#757068" textLength="68.0" lengthAdjust="spacingAndGlyphs">GBPUSD,H1</text>
<rect x="289" y="685" width="1" height="14" fill="#6a6a6a"/>
<rect x="393" y="685" width="1" height="14" fill="#6a6a6a"/>
<rect x="497" y="685" width="1" height="14" fill="#6a6a6a"/>
<rect x="573" y="685" width="1" height="14" fill="#6a6a6a"/>
<rect x="641" y="685" width="1" height="14" fill="#6a6a6a"/>
<rect x="717" y="685" width="1" height="14" fill="#6a6a6a"/>
<rect x="809" y="685" width="1" height="14" fill="#6a6a6a"/>
<rect x="901" y="685" width="1" height="14" fill="#6a6a6a"/>
<path d="M1180,691 L1185,686.5 L1185,695.5 Z" fill="#a8a8a8"/>
<path d="M1205,691 L1200,686.5 L1200,695.5 Z" fill="#a8a8a8"/>
<defs><linearGradient id="btnTop" x1="0" y1="0" x2="0" y2="1"><stop offset="0" stop-color="#ff5a5a"/><stop offset="1" stop-color="#e02828"/></linearGradient><linearGradient id="btnBot" x1="0" y1="0" x2="0" y2="1"><stop offset="0" stop-color="#d82222"/><stop offset="1" stop-color="#b00000"/></linearGradient><linearGradient id="spin" x1="0" y1="0" x2="0" y2="1"><stop offset="0" stop-color="#f4f4f4"/><stop offset="0.5" stop-color="#e6e6e6"/><stop offset="1" stop-color="#d6d6d6"/></linearGradient></defs>
<rect x="7" y="44" width="52" height="25" fill="url(#btnTop)"/>
<rect x="7" y="68" width="109" height="33" fill="url(#btnBot)"/>
<rect x="11" y="67" width="44" height="1" fill="#a00000"/>
<rect x="11" y="68" width="44" height="1" fill="#ff9090" opacity="0.7"/>
<text x="19.5" y="60" font-size="12" fill="#fff" textLength="26.3" lengthAdjust="spacingAndGlyphs">SELL</text>
<text x="27" y="95.7" font-size="11" fill="#fff" font-weight="bold" textLength="24.8" lengthAdjust="spacingAndGlyphs">0.72</text>
<text x="55.5" y="95.7" font-size="35" fill="#fff" textLength="34.5" lengthAdjust="spacingAndGlyphs">56</text>
<text x="93.8" y="79.8" font-size="11" fill="#fff" font-weight="bold" textLength="7.6" lengthAdjust="spacingAndGlyphs">8</text>
<rect x="174" y="44" width="52" height="25" fill="url(#btnTop)"/>
<rect x="118" y="68" width="108" height="33" fill="url(#btnBot)"/>
<rect x="178" y="67" width="44" height="1" fill="#a00000"/>
<rect x="178" y="68" width="44" height="1" fill="#ff9090" opacity="0.7"/>
<text x="187.5" y="60" font-size="12" fill="#fff" textLength="23.8" lengthAdjust="spacingAndGlyphs">BUY</text>
<text x="137" y="95.7" font-size="11" fill="#fff" font-weight="bold" textLength="24.8" lengthAdjust="spacingAndGlyphs">0.72</text>
<text x="166.5" y="95.7" font-size="35" fill="#fff" textLength="34" lengthAdjust="spacingAndGlyphs">58</text>
<text x="204.8" y="79.8" font-size="11" fill="#fff" font-weight="bold" textLength="7.6" lengthAdjust="spacingAndGlyphs">0</text>
<rect x="59" y="44" width="115" height="24" fill="#fff"/>
<rect x="61.5" y="44.5" width="110" height="21" fill="#fff" stroke="#a8a8a8" stroke-width="1"/>
<rect x="62" y="45" width="20" height="20" fill="url(#spin)" stroke="#b8b8b8" stroke-width="1"/>
<rect x="151" y="45" width="20" height="20" fill="url(#spin)" stroke="#b8b8b8" stroke-width="1"/>
<path d="M69,53 L75,53 L72,56 Z" fill="#5060c0"/>
<path d="M158,56 L164,56 L161,53 Z" fill="#5060c0"/>
<text x="123" y="58.6" font-size="11.5" fill="#000" textLength="24.8" lengthAdjust="spacingAndGlyphs">3.00</text>
</svg></body></html>
